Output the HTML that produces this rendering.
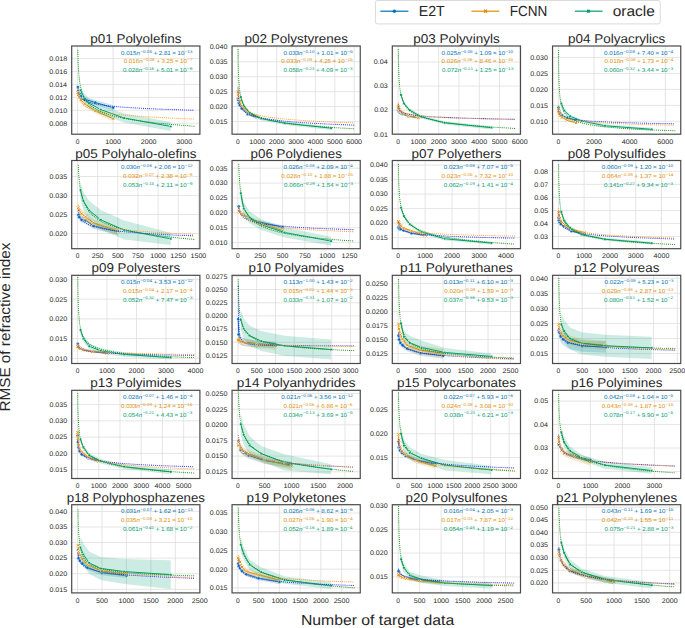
<!DOCTYPE html>
<html><head><meta charset="utf-8"><style>
html,body{margin:0;padding:0;background:#fff;}
svg{display:block;font-family:"Liberation Sans", sans-serif;text-rendering:geometricPrecision;}
.gr line{stroke:#dedede;stroke-width:0.8;}
.sp{fill:none;stroke:#4a4a4a;stroke-width:1.2;}
.dt{stroke-width:1.15;stroke-dasharray:0.01 2.05;stroke-linecap:round;}
</style></head><body>
<svg width="685" height="628" viewBox="0 0 685 628">
<defs><clipPath id="c0"><rect x="71.7" y="46" width="128.2" height="88.2"/></clipPath><clipPath id="c1"><rect x="232.05" y="46" width="128.2" height="88.2"/></clipPath><clipPath id="c2"><rect x="392.3" y="46" width="128.2" height="88.2"/></clipPath><clipPath id="c3"><rect x="552.55" y="46" width="128.2" height="88.2"/></clipPath><clipPath id="c4"><rect x="71.7" y="160.5" width="128.2" height="88.2"/></clipPath><clipPath id="c5"><rect x="232.05" y="160.5" width="128.2" height="88.2"/></clipPath><clipPath id="c6"><rect x="392.3" y="160.5" width="128.2" height="88.2"/></clipPath><clipPath id="c7"><rect x="552.55" y="160.5" width="128.2" height="88.2"/></clipPath><clipPath id="c8"><rect x="71.7" y="275.3" width="128.2" height="88.2"/></clipPath><clipPath id="c9"><rect x="232.05" y="275.3" width="128.2" height="88.2"/></clipPath><clipPath id="c10"><rect x="392.3" y="275.3" width="128.2" height="88.2"/></clipPath><clipPath id="c11"><rect x="552.55" y="275.3" width="128.2" height="88.2"/></clipPath><clipPath id="c12"><rect x="71.7" y="390.3" width="128.2" height="88.2"/></clipPath><clipPath id="c13"><rect x="232.05" y="390.3" width="128.2" height="88.2"/></clipPath><clipPath id="c14"><rect x="392.3" y="390.3" width="128.2" height="88.2"/></clipPath><clipPath id="c15"><rect x="552.55" y="390.3" width="128.2" height="88.2"/></clipPath><clipPath id="c16"><rect x="71.7" y="504.7" width="128.2" height="88.2"/></clipPath><clipPath id="c17"><rect x="232.05" y="504.7" width="128.2" height="88.2"/></clipPath><clipPath id="c18"><rect x="392.3" y="504.7" width="128.2" height="88.2"/></clipPath><clipPath id="c19"><rect x="552.55" y="504.7" width="128.2" height="88.2"/></clipPath></defs>
<g clip-path="url(#c0)"><g class="gr"><line x1="77.53" y1="46" x2="77.53" y2="134.2"/><line x1="113.1" y1="46" x2="113.1" y2="134.2"/><line x1="148.67" y1="46" x2="148.67" y2="134.2"/><line x1="184.25" y1="46" x2="184.25" y2="134.2"/><line x1="71.7" y1="123.2" x2="199.9" y2="123.2"/><line x1="71.7" y1="110.28" x2="199.9" y2="110.28"/><line x1="71.7" y1="97.36" x2="199.9" y2="97.36"/><line x1="71.7" y1="84.44" x2="199.9" y2="84.44"/><line x1="71.7" y1="71.52" x2="199.9" y2="71.52"/><line x1="71.7" y1="58.6" x2="199.9" y2="58.6"/></g><polygon points="77.88,85.09 78.24,88.85 79.31,91.33 81.08,93.81 84.64,96.93 95.31,100.05 113.1,105.11 113.1,110.28 95.31,105 84.64,101.67 81.08,98.33 79.31,95.64 78.24,92.95 77.88,88.96" fill="#0173b2" fill-opacity="0.2"/><polyline points="77.88,87.02 78.24,90.9 79.31,93.48 81.08,96.07 84.64,99.3 95.31,102.53 113.1,107.7" fill="none" stroke="#0173b2" stroke-width="1.0"/><g fill="#0173b2" stroke="#fff" stroke-width="0.45"><circle cx="77.88" cy="87.02" r="1.6"/><circle cx="78.24" cy="90.9" r="1.6"/><circle cx="79.31" cy="93.48" r="1.6"/><circle cx="81.08" cy="96.07" r="1.6"/><circle cx="84.64" cy="99.3" r="1.6"/><circle cx="95.31" cy="102.53" r="1.6"/><circle cx="113.1" cy="107.7" r="1.6"/></g><polygon points="77.88,90.25 78.24,92.19 79.31,94.78 81.08,97.36 84.64,101.24 95.31,108.34 113.1,116.09 113.1,121.26 95.31,113.51 84.64,106.4 81.08,102.53 79.31,99.94 78.24,97.36 77.88,95.42" fill="#de8f05" fill-opacity="0.2"/><polyline points="77.88,92.84 78.24,94.78 79.31,97.36 81.08,99.94 84.64,103.82 95.31,110.93 113.1,118.68" fill="none" stroke="#de8f05" stroke-width="1.0"/><path d="M76.63 91.59L79.13 94.09M76.63 94.09L79.13 91.59M76.99 93.53L79.49 96.03M76.99 96.03L79.49 93.53M78.06 96.11L80.56 98.61M78.06 98.61L80.56 96.11M79.83 98.69L82.33 101.19M79.83 101.19L82.33 98.69M83.39 102.57L85.89 105.07M83.39 105.07L85.89 102.57M94.06 109.68L96.56 112.18M94.06 112.18L96.56 109.68M111.85 117.43L114.35 119.93M111.85 119.93L114.35 117.43" stroke="#fff" stroke-width="1.6" fill="none"/><path d="M76.63 91.59L79.13 94.09M76.63 94.09L79.13 91.59M76.99 93.53L79.49 96.03M76.99 96.03L79.49 93.53M78.06 96.11L80.56 98.61M78.06 98.61L80.56 96.11M79.83 98.69L82.33 101.19M79.83 101.19L82.33 98.69M83.39 102.57L85.89 105.07M83.39 105.07L85.89 102.57M94.06 109.68L96.56 112.18M94.06 112.18L96.56 109.68M111.85 117.43L114.35 119.93M111.85 119.93L114.35 117.43" stroke="#de8f05" stroke-width="1.0" fill="none"/><polygon points="80.44,85.73 83.35,92.19 89.18,98.65 100.84,105.11 124.15,113.51 170.76,121.91 170.76,130.95 124.15,122.55 100.84,114.16 89.18,107.7 83.35,101.24 80.44,94.78" fill="#029e73" fill-opacity="0.2"/><polyline points="80.44,90.25 83.35,96.71 89.18,103.17 100.84,109.63 124.15,118.03 170.76,126.43" fill="none" stroke="#029e73" stroke-width="1.0"/><g fill="#029e73" stroke="#fff" stroke-width="0.4"><rect x="79.29" y="89.1" width="2.3" height="2.3"/><rect x="82.2" y="95.56" width="2.3" height="2.3"/><rect x="88.03" y="102.02" width="2.3" height="2.3"/><rect x="99.69" y="108.48" width="2.3" height="2.3"/><rect x="123" y="116.88" width="2.3" height="2.3"/><rect x="169.61" y="125.28" width="2.3" height="2.3"/></g><polyline points="77.88,88.52 77.9,88.68 77.91,88.85 77.93,89.02 77.94,89.18 77.96,89.35 77.98,89.51 77.99,89.68 78.01,89.84 78.03,90.01 78.05,90.17 78.07,90.33 78.09,90.5 78.11,90.66 78.14,90.82 78.16,90.98 78.19,91.14 78.21,91.31 78.24,91.47 78.27,91.63 78.3,91.79 78.33,91.95 78.36,92.11 78.39,92.27 78.43,92.43 78.46,92.59 78.5,92.75 78.54,92.9 78.58,93.06 78.62,93.22 78.66,93.38 78.7,93.53 78.75,93.69 78.8,93.85 78.85,94 78.9,94.16 78.96,94.32 79.01,94.47 79.07,94.63 79.13,94.78 79.19,94.94 79.26,95.09 79.33,95.24 79.4,95.4 79.47,95.55 79.55,95.7 79.63,95.86 79.71,96.01 79.8,96.16 79.89,96.31 79.98,96.46 80.08,96.62 80.18,96.77 80.28,96.92 80.39,97.07 80.5,97.22 80.62,97.37 80.74,97.52 80.87,97.67 81,97.82 81.14,97.96 81.28,98.11 81.42,98.26 81.58,98.41 81.74,98.56 81.9,98.7 82.08,98.85 82.26,99 82.44,99.14 82.63,99.29 82.84,99.43 83.04,99.58 83.26,99.73 83.49,99.87 83.72,100.02 83.97,100.16 84.22,100.3 84.48,100.45 84.76,100.59 85.04,100.73 85.34,100.88 85.64,101.02 85.96,101.16 86.3,101.3 86.64,101.45 87,101.59 87.37,101.73 87.76,101.87 88.16,102.01 88.58,102.15 89.02,102.29 89.47,102.43 89.94,102.57 90.43,102.71 90.94,102.85 91.46,102.99 92.01,103.13 92.58,103.27 93.18,103.4 93.79,103.54 94.43,103.68 95.1,103.82 95.79,103.95 96.51,104.09 97.26,104.23 98.03,104.36 98.84,104.5 99.68,104.64 100.55,104.77 101.46,104.91 102.4,105.04 103.38,105.18 104.4,105.31 105.46,105.45 106.55,105.58 107.7,105.71 108.88,105.85 110.12,105.98 111.4,106.11 112.74,106.24 114.12,106.38 115.56,106.51 117.06,106.64 118.62,106.77 120.23,106.9 121.92,107.04 123.66,107.17 125.48,107.3 127.37,107.43 129.33,107.56 131.37,107.69 133.49,107.82 135.69,107.95 137.98,108.08 140.36,108.2 142.83,108.33 145.4,108.46 148.08,108.59 150.85,108.72 153.74,108.84 156.74,108.97 159.86,109.1 163.1,109.23 166.47,109.35 169.97,109.48 173.61,109.6 177.39,109.73 181.32,109.86 185.41,109.98 189.66,110.11 194.07,110.23" fill="none" stroke="#3030ff" class="dt"/><polyline points="77.88,88.11 77.9,88.37 77.91,88.62 77.93,88.87 77.94,89.12 77.96,89.38 77.98,89.63 77.99,89.88 78.01,90.12 78.03,90.37 78.05,90.62 78.07,90.87 78.09,91.11 78.11,91.36 78.14,91.6 78.16,91.85 78.19,92.09 78.21,92.33 78.24,92.58 78.27,92.82 78.3,93.06 78.33,93.3 78.36,93.54 78.39,93.77 78.43,94.01 78.46,94.25 78.5,94.49 78.54,94.72 78.58,94.96 78.62,95.19 78.66,95.42 78.7,95.66 78.75,95.89 78.8,96.12 78.85,96.35 78.9,96.58 78.96,96.81 79.01,97.04 79.07,97.27 79.13,97.49 79.19,97.72 79.26,97.95 79.33,98.17 79.4,98.4 79.47,98.62 79.55,98.84 79.63,99.07 79.71,99.29 79.8,99.51 79.89,99.73 79.98,99.95 80.08,100.17 80.18,100.39 80.28,100.61 80.39,100.83 80.5,101.04 80.62,101.26 80.74,101.48 80.87,101.69 81,101.91 81.14,102.12 81.28,102.33 81.42,102.54 81.58,102.76 81.74,102.97 81.9,103.18 82.08,103.39 82.26,103.6 82.44,103.81 82.63,104.02 82.84,104.22 83.04,104.43 83.26,104.64 83.49,104.84 83.72,105.05 83.97,105.25 84.22,105.46 84.48,105.66 84.76,105.86 85.04,106.06 85.34,106.27 85.64,106.47 85.96,106.67 86.3,106.87 86.64,107.07 87,107.27 87.37,107.46 87.76,107.66 88.16,107.86 88.58,108.05 89.02,108.25 89.47,108.45 89.94,108.64 90.43,108.83 90.94,109.03 91.46,109.22 92.01,109.41 92.58,109.61 93.18,109.8 93.79,109.99 94.43,110.18 95.1,110.37 95.79,110.56 96.51,110.74 97.26,110.93 98.03,111.12 98.84,111.31 99.68,111.49 100.55,111.68 101.46,111.86 102.4,112.05 103.38,112.23 104.4,112.42 105.46,112.6 106.55,112.78 107.7,112.96 108.88,113.15 110.12,113.33 111.4,113.51 112.74,113.69 114.12,113.87 115.56,114.04 117.06,114.22 118.62,114.4 120.23,114.58 121.92,114.75 123.66,114.93 125.48,115.11 127.37,115.28 129.33,115.46 131.37,115.63 133.49,115.8 135.69,115.98 137.98,116.15 140.36,116.32 142.83,116.49 145.4,116.66 148.08,116.83 150.85,117 153.74,117.17 156.74,117.34 159.86,117.51 163.1,117.68 166.47,117.85 169.97,118.01 173.61,118.18 177.39,118.35 181.32,118.51 185.41,118.68 189.66,118.84 194.07,119.01" fill="none" stroke="#ffa030" class="dt"/><polyline points="77.88,50.32 77.9,51.09 77.91,51.86 77.93,52.63 77.94,53.39 77.96,54.15 77.98,54.9 77.99,55.65 78.01,56.4 78.03,57.14 78.05,57.87 78.07,58.6 78.09,59.32 78.11,60.04 78.14,60.76 78.16,61.47 78.19,62.18 78.21,62.88 78.24,63.58 78.27,64.27 78.3,64.96 78.33,65.65 78.36,66.33 78.39,67.01 78.43,67.68 78.46,68.35 78.5,69.01 78.54,69.67 78.58,70.33 78.62,70.98 78.66,71.63 78.7,72.27 78.75,72.91 78.8,73.55 78.85,74.18 78.9,74.81 78.96,75.43 79.01,76.05 79.07,76.67 79.13,77.28 79.19,77.89 79.26,78.49 79.33,79.1 79.4,79.69 79.47,80.29 79.55,80.88 79.63,81.46 79.71,82.05 79.8,82.62 79.89,83.2 79.98,83.77 80.08,84.34 80.18,84.9 80.28,85.46 80.39,86.02 80.5,86.58 80.62,87.13 80.74,87.67 80.87,88.22 81,88.76 81.14,89.3 81.28,89.83 81.42,90.36 81.58,90.89 81.74,91.41 81.9,91.93 82.08,92.45 82.26,92.96 82.44,93.47 82.63,93.98 82.84,94.48 83.04,94.99 83.26,95.48 83.49,95.98 83.72,96.47 83.97,96.96 84.22,97.45 84.48,97.93 84.76,98.41 85.04,98.89 85.34,99.36 85.64,99.83 85.96,100.3 86.3,100.76 86.64,101.23 87,101.69 87.37,102.14 87.76,102.6 88.16,103.05 88.58,103.49 89.02,103.94 89.47,104.38 89.94,104.82 90.43,105.26 90.94,105.69 91.46,106.12 92.01,106.55 92.58,106.98 93.18,107.4 93.79,107.82 94.43,108.24 95.1,108.66 95.79,109.07 96.51,109.48 97.26,109.89 98.03,110.29 98.84,110.7 99.68,111.1 100.55,111.49 101.46,111.89 102.4,112.28 103.38,112.67 104.4,113.06 105.46,113.44 106.55,113.83 107.7,114.21 108.88,114.59 110.12,114.96 111.4,115.34 112.74,115.71 114.12,116.08 115.56,116.44 117.06,116.81 118.62,117.17 120.23,117.53 121.92,117.89 123.66,118.24 125.48,118.6 127.37,118.95 129.33,119.3 131.37,119.64 133.49,119.99 135.69,120.33 137.98,120.67 140.36,121.01 142.83,121.34 145.4,121.68 148.08,122.01 150.85,122.34 153.74,122.67 156.74,122.99 159.86,123.32 163.1,123.64 166.47,123.96 169.97,124.27 173.61,124.59 177.39,124.9 181.32,125.21 185.41,125.52 189.66,125.83 194.07,126.14" fill="none" stroke="#1c951c" class="dt"/></g>
<rect x="71.7" y="46" width="128.2" height="88.2" class="sp"/>
<g><text x="75.67" y="143.8" font-size="6.72" textLength="3.72" lengthAdjust="spacingAndGlyphs" fill="#262626">0</text><text x="105.19" y="143.8" font-size="6.72" textLength="15.84" lengthAdjust="spacingAndGlyphs" fill="#262626">1000</text><text x="140.71" y="143.8" font-size="6.72" textLength="15.89" lengthAdjust="spacingAndGlyphs" fill="#262626">2000</text><text x="176.39" y="143.8" font-size="6.72" textLength="15.78" lengthAdjust="spacingAndGlyphs" fill="#262626">3000</text><text x="49.32" y="125.55" font-size="6.72" textLength="17.89" lengthAdjust="spacingAndGlyphs" fill="#262626">0.008</text><text x="49.31" y="112.63" font-size="6.72" textLength="17.87" lengthAdjust="spacingAndGlyphs" fill="#262626">0.010</text><text x="49.53" y="99.71" font-size="6.72" textLength="17.73" lengthAdjust="spacingAndGlyphs" fill="#262626">0.012</text><text x="49.24" y="86.79" font-size="6.72" textLength="17.86" lengthAdjust="spacingAndGlyphs" fill="#262626">0.014</text><text x="49.29" y="73.87" font-size="6.72" textLength="17.93" lengthAdjust="spacingAndGlyphs" fill="#262626">0.016</text><text x="49.32" y="60.95" font-size="6.72" textLength="17.89" lengthAdjust="spacingAndGlyphs" fill="#262626">0.018</text></g>
<text x="90.24" y="43" font-size="12.77" textLength="91.24" lengthAdjust="spacingAndGlyphs" fill="#262626">p01 Polyolefins</text>
<g fill="#0173b2"><text x="120.96" y="54.61" font-size="5.78" textLength="15.6" lengthAdjust="spacingAndGlyphs">0.015</text><text x="136.56" y="54.61" font-size="5.78" textLength="3.45" lengthAdjust="spacingAndGlyphs" font-style="italic">n</text><text x="140.27" y="52.53" font-size="4.04" textLength="11.69" lengthAdjust="spacingAndGlyphs">&#8722;0.05</text><text x="153.17" y="54.61" font-size="5.78" textLength="4.57" lengthAdjust="spacingAndGlyphs">+</text><text x="158.8" y="54.61" font-size="5.78" textLength="12" lengthAdjust="spacingAndGlyphs">2.81</text><text x="171.86" y="54.61" font-size="5.78" textLength="4.57" lengthAdjust="spacingAndGlyphs">&#215;</text><text x="177.49" y="54.61" font-size="5.78" textLength="6.93" lengthAdjust="spacingAndGlyphs">10</text><text x="184.47" y="52.53" font-size="4.04" textLength="8.05" lengthAdjust="spacingAndGlyphs">&#8722;13</text></g>
<g fill="#de8f05"><text x="123.68" y="63.43" font-size="5.78" textLength="15.6" lengthAdjust="spacingAndGlyphs">0.016</text><text x="139.29" y="63.43" font-size="5.78" textLength="3.45" lengthAdjust="spacingAndGlyphs" font-style="italic">n</text><text x="142.99" y="61.35" font-size="4.04" textLength="11.69" lengthAdjust="spacingAndGlyphs">&#8722;0.08</text><text x="155.9" y="63.43" font-size="5.78" textLength="4.57" lengthAdjust="spacingAndGlyphs">+</text><text x="161.52" y="63.43" font-size="5.78" textLength="11.86" lengthAdjust="spacingAndGlyphs">3.25</text><text x="174.45" y="63.43" font-size="5.78" textLength="4.57" lengthAdjust="spacingAndGlyphs">&#215;</text><text x="180.08" y="63.43" font-size="5.78" textLength="6.93" lengthAdjust="spacingAndGlyphs">10</text><text x="187.06" y="61.35" font-size="4.04" textLength="5.62" lengthAdjust="spacingAndGlyphs">&#8722;7</text></g>
<g fill="#029e73"><text x="123.14" y="72.25" font-size="5.78" textLength="15.6" lengthAdjust="spacingAndGlyphs">0.028</text><text x="138.74" y="72.25" font-size="5.78" textLength="3.45" lengthAdjust="spacingAndGlyphs" font-style="italic">n</text><text x="142.45" y="70.17" font-size="4.04" textLength="11.69" lengthAdjust="spacingAndGlyphs">&#8722;0.16</text><text x="155.35" y="72.25" font-size="5.78" textLength="4.57" lengthAdjust="spacingAndGlyphs">+</text><text x="160.98" y="72.25" font-size="5.78" textLength="12.13" lengthAdjust="spacingAndGlyphs">5.01</text><text x="174.18" y="72.25" font-size="5.78" textLength="4.57" lengthAdjust="spacingAndGlyphs">&#215;</text><text x="179.8" y="72.25" font-size="5.78" textLength="6.93" lengthAdjust="spacingAndGlyphs">10</text><text x="186.79" y="70.17" font-size="4.04" textLength="5.62" lengthAdjust="spacingAndGlyphs">&#8722;8</text></g>
<g clip-path="url(#c1)"><g class="gr"><line x1="237.88" y1="46" x2="237.88" y2="134.2"/><line x1="257.26" y1="46" x2="257.26" y2="134.2"/><line x1="276.64" y1="46" x2="276.64" y2="134.2"/><line x1="296.03" y1="46" x2="296.03" y2="134.2"/><line x1="315.41" y1="46" x2="315.41" y2="134.2"/><line x1="334.8" y1="46" x2="334.8" y2="134.2"/><line x1="354.18" y1="46" x2="354.18" y2="134.2"/><line x1="232.05" y1="121.6" x2="360.25" y2="121.6"/><line x1="232.05" y1="106.64" x2="360.25" y2="106.64"/><line x1="232.05" y1="91.68" x2="360.25" y2="91.68"/><line x1="232.05" y1="76.72" x2="360.25" y2="76.72"/><line x1="232.05" y1="61.76" x2="360.25" y2="61.76"/><line x1="232.05" y1="46.8" x2="360.25" y2="46.8"/></g><polygon points="238.07,96.77 238.26,98.56 238.85,101.55 239.82,103.65 241.75,106.94 247.57,112.62 257.26,116.21 257.26,119.21 247.57,115.62 241.75,109.93 239.82,106.64 238.85,104.55 238.26,101.55 238.07,99.76" fill="#0173b2" fill-opacity="0.2"/><polyline points="238.07,98.26 238.26,100.06 238.85,103.05 239.82,105.14 241.75,108.44 247.57,114.12 257.26,117.71" fill="none" stroke="#0173b2" stroke-width="1.0"/><g fill="#0173b2" stroke="#fff" stroke-width="0.45"><circle cx="238.07" cy="98.26" r="1.6"/><circle cx="238.26" cy="100.06" r="1.6"/><circle cx="238.85" cy="103.05" r="1.6"/><circle cx="239.82" cy="105.14" r="1.6"/><circle cx="241.75" cy="108.44" r="1.6"/><circle cx="247.57" cy="114.12" r="1.6"/><circle cx="257.26" cy="117.71" r="1.6"/></g><polygon points="238.07,89.88 238.26,92.88 238.85,96.47 239.82,99.46 241.75,103.95 247.57,110.53 257.26,115.32 257.26,118.91 247.57,114.12 241.75,107.54 239.82,103.05 238.85,100.06 238.26,96.47 238.07,93.48" fill="#de8f05" fill-opacity="0.2"/><polyline points="238.07,91.68 238.26,94.67 238.85,98.26 239.82,101.25 241.75,105.74 247.57,112.32 257.26,117.11" fill="none" stroke="#de8f05" stroke-width="1.0"/><path d="M236.82 90.43L239.32 92.93M236.82 92.93L239.32 90.43M237.01 93.42L239.51 95.92M237.01 95.92L239.51 93.42M237.6 97.01L240.1 99.51M237.6 99.51L240.1 97.01M238.57 100L241.07 102.5M238.57 102.5L241.07 100M240.5 104.49L243 106.99M240.5 106.99L243 104.49M246.32 111.07L248.82 113.57M246.32 113.57L248.82 111.07M256.01 115.86L258.51 118.36M256.01 118.36L258.51 115.86" stroke="#fff" stroke-width="1.6" fill="none"/><path d="M236.82 90.43L239.32 92.93M236.82 92.93L239.32 90.43M237.01 93.42L239.51 95.92M237.01 95.92L239.51 93.42M237.6 97.01L240.1 99.51M237.6 99.51L240.1 97.01M238.57 100L241.07 102.5M238.57 102.5L241.07 100M240.5 104.49L243 106.99M240.5 106.99L243 104.49M246.32 111.07L248.82 113.57M246.32 113.57L248.82 111.07M256.01 115.86L258.51 118.36M256.01 118.36L258.51 115.86" stroke="#de8f05" stroke-width="1.0" fill="none"/><polygon points="240.79,95.27 243.7,103.95 249.53,111.13 261.19,116.81 284.5,121.3 331.11,126.39 331.11,129.98 284.5,124.89 261.19,120.4 249.53,114.72 243.7,107.54 240.79,98.86" fill="#029e73" fill-opacity="0.2"/><polyline points="240.79,97.07 243.7,105.74 249.53,112.92 261.19,118.61 284.5,123.1 331.11,128.18" fill="none" stroke="#029e73" stroke-width="1.0"/><g fill="#029e73" stroke="#fff" stroke-width="0.4"><rect x="239.64" y="95.92" width="2.3" height="2.3"/><rect x="242.55" y="104.59" width="2.3" height="2.3"/><rect x="248.38" y="111.77" width="2.3" height="2.3"/><rect x="260.04" y="117.46" width="2.3" height="2.3"/><rect x="283.35" y="121.95" width="2.3" height="2.3"/><rect x="329.96" y="127.03" width="2.3" height="2.3"/></g><polyline points="238.07,88.02 238.08,88.35 238.09,88.69 238.1,89.02 238.11,89.35 238.12,89.68 238.13,90 238.14,90.33 238.15,90.65 238.16,90.98 238.17,91.3 238.19,91.62 238.2,91.93 238.21,92.25 238.23,92.57 238.24,92.88 238.26,93.2 238.28,93.51 238.3,93.82 238.31,94.13 238.33,94.44 238.35,94.74 238.37,95.05 238.39,95.35 238.42,95.65 238.44,95.95 238.46,96.25 238.49,96.55 238.52,96.85 238.55,97.15 238.57,97.44 238.6,97.74 238.64,98.03 238.67,98.32 238.7,98.61 238.74,98.9 238.78,99.19 238.82,99.47 238.86,99.76 238.9,100.04 238.95,100.32 238.99,100.61 239.04,100.89 239.09,101.17 239.14,101.44 239.2,101.72 239.26,102 239.32,102.27 239.38,102.54 239.44,102.82 239.51,103.09 239.58,103.36 239.66,103.62 239.74,103.89 239.82,104.16 239.9,104.42 239.99,104.69 240.08,104.95 240.18,105.21 240.28,105.47 240.38,105.73 240.49,105.99 240.61,106.25 240.73,106.5 240.85,106.76 240.98,107.01 241.11,107.27 241.26,107.52 241.4,107.77 241.56,108.02 241.72,108.27 241.88,108.52 242.06,108.76 242.24,109.01 242.43,109.25 242.63,109.5 242.84,109.74 243.05,109.98 243.28,110.22 243.51,110.46 243.76,110.7 244.02,110.94 244.28,111.17 244.56,111.41 244.85,111.64 245.16,111.87 245.48,112.11 245.81,112.34 246.15,112.57 246.51,112.8 246.89,113.03 247.28,113.25 247.69,113.48 248.12,113.71 248.57,113.93 249.03,114.15 249.52,114.38 250.03,114.6 250.56,114.82 251.11,115.04 251.69,115.26 252.29,115.48 252.92,115.69 253.57,115.91 254.25,116.12 254.97,116.34 255.71,116.55 256.49,116.76 257.3,116.98 258.15,117.19 259.03,117.4 259.95,117.6 260.92,117.81 261.92,118.02 262.97,118.23 264.06,118.43 265.2,118.64 266.39,118.84 267.64,119.04 268.93,119.24 270.29,119.44 271.7,119.64 273.17,119.84 274.71,120.04 276.32,120.24 277.99,120.44 279.74,120.63 281.57,120.83 283.47,121.02 285.46,121.21 287.53,121.41 289.7,121.6 291.95,121.79 294.31,121.98 296.77,122.17 299.34,122.36 302.02,122.55 304.81,122.73 307.73,122.92 310.77,123.1 313.95,123.29 317.26,123.47 320.72,123.65 324.34,123.84 328.1,124.02 332.04,124.2 336.14,124.38 340.42,124.56 344.89,124.74 349.56,124.91 354.42,125.09" fill="none" stroke="#3030ff" class="dt"/><polyline points="238.07,86.96 238.08,87.28 238.09,87.6 238.1,87.91 238.11,88.23 238.12,88.54 238.13,88.85 238.14,89.16 238.15,89.47 238.16,89.78 238.17,90.09 238.19,90.39 238.2,90.7 238.21,91 238.23,91.3 238.24,91.6 238.26,91.9 238.28,92.2 238.3,92.5 238.31,92.79 238.33,93.09 238.35,93.38 238.37,93.67 238.39,93.97 238.42,94.26 238.44,94.55 238.46,94.83 238.49,95.12 238.52,95.41 238.55,95.69 238.57,95.97 238.6,96.26 238.64,96.54 238.67,96.82 238.7,97.1 238.74,97.37 238.78,97.65 238.82,97.93 238.86,98.2 238.9,98.47 238.95,98.74 238.99,99.02 239.04,99.29 239.09,99.55 239.14,99.82 239.2,100.09 239.26,100.36 239.32,100.62 239.38,100.88 239.44,101.15 239.51,101.41 239.58,101.67 239.66,101.93 239.74,102.19 239.82,102.44 239.9,102.7 239.99,102.95 240.08,103.21 240.18,103.46 240.28,103.71 240.38,103.97 240.49,104.22 240.61,104.46 240.73,104.71 240.85,104.96 240.98,105.21 241.11,105.45 241.26,105.7 241.4,105.94 241.56,106.18 241.72,106.42 241.88,106.66 242.06,106.9 242.24,107.14 242.43,107.38 242.63,107.61 242.84,107.85 243.05,108.08 243.28,108.32 243.51,108.55 243.76,108.78 244.02,109.01 244.28,109.24 244.56,109.47 244.85,109.7 245.16,109.93 245.48,110.15 245.81,110.38 246.15,110.6 246.51,110.83 246.89,111.05 247.28,111.27 247.69,111.49 248.12,111.71 248.57,111.93 249.03,112.15 249.52,112.37 250.03,112.59 250.56,112.8 251.11,113.02 251.69,113.23 252.29,113.44 252.92,113.66 253.57,113.87 254.25,114.08 254.97,114.29 255.71,114.5 256.49,114.7 257.3,114.91 258.15,115.12 259.03,115.32 259.95,115.53 260.92,115.73 261.92,115.93 262.97,116.14 264.06,116.34 265.2,116.54 266.39,116.74 267.64,116.94 268.93,117.14 270.29,117.33 271.7,117.53 273.17,117.73 274.71,117.92 276.32,118.12 277.99,118.31 279.74,118.5 281.57,118.69 283.47,118.89 285.46,119.08 287.53,119.27 289.7,119.45 291.95,119.64 294.31,119.83 296.77,120.02 299.34,120.2 302.02,120.39 304.81,120.57 307.73,120.76 310.77,120.94 313.95,121.12 317.26,121.3 320.72,121.48 324.34,121.66 328.1,121.84 332.04,122.02 336.14,122.2 340.42,122.38 344.89,122.55 349.56,122.73 354.42,122.9" fill="none" stroke="#ffa030" class="dt"/><polyline points="238.07,49.68 238.08,50.65 238.09,51.62 238.1,52.58 238.11,53.53 238.12,54.47 238.13,55.4 238.14,56.33 238.15,57.24 238.16,58.15 238.17,59.04 238.19,59.93 238.2,60.81 238.21,61.69 238.23,62.55 238.24,63.41 238.26,64.26 238.28,65.1 238.3,65.93 238.31,66.76 238.33,67.57 238.35,68.38 238.37,69.18 238.39,69.98 238.42,70.77 238.44,71.55 238.46,72.32 238.49,73.08 238.52,73.84 238.55,74.59 238.57,75.34 238.6,76.07 238.64,76.8 238.67,77.53 238.7,78.24 238.74,78.95 238.78,79.66 238.82,80.35 238.86,81.04 238.9,81.73 238.95,82.41 238.99,83.08 239.04,83.74 239.09,84.4 239.14,85.05 239.2,85.7 239.26,86.34 239.32,86.97 239.38,87.6 239.44,88.22 239.51,88.84 239.58,89.45 239.66,90.06 239.74,90.66 239.82,91.25 239.9,91.84 239.99,92.42 240.08,93 240.18,93.57 240.28,94.14 240.38,94.7 240.49,95.26 240.61,95.81 240.73,96.35 240.85,96.89 240.98,97.43 241.11,97.96 241.26,98.49 241.4,99.01 241.56,99.52 241.72,100.03 241.88,100.54 242.06,101.04 242.24,101.54 242.43,102.03 242.63,102.52 242.84,103 243.05,103.48 243.28,103.95 243.51,104.42 243.76,104.89 244.02,105.35 244.28,105.81 244.56,106.26 244.85,106.71 245.16,107.15 245.48,107.59 245.81,108.03 246.15,108.46 246.51,108.89 246.89,109.31 247.28,109.73 247.69,110.15 248.12,110.56 248.57,110.97 249.03,111.37 249.52,111.77 250.03,112.17 250.56,112.56 251.11,112.95 251.69,113.34 252.29,113.72 252.92,114.1 253.57,114.47 254.25,114.84 254.97,115.21 255.71,115.58 256.49,115.94 257.3,116.29 258.15,116.65 259.03,117 259.95,117.35 260.92,117.69 261.92,118.03 262.97,118.37 264.06,118.71 265.2,119.04 266.39,119.37 267.64,119.69 268.93,120.02 270.29,120.34 271.7,120.65 273.17,120.97 274.71,121.28 276.32,121.59 277.99,121.89 279.74,122.19 281.57,122.49 283.47,122.79 285.46,123.08 287.53,123.37 289.7,123.66 291.95,123.95 294.31,124.23 296.77,124.51 299.34,124.79 302.02,125.06 304.81,125.34 307.73,125.61 310.77,125.87 313.95,126.14 317.26,126.4 320.72,126.66 324.34,126.92 328.1,127.17 332.04,127.43 336.14,127.68 340.42,127.93 344.89,128.17 349.56,128.42 354.42,128.66" fill="none" stroke="#1c951c" class="dt"/></g>
<rect x="232.05" y="46" width="128.2" height="88.2" class="sp"/>
<g><text x="236.02" y="143.8" font-size="6.72" textLength="3.72" lengthAdjust="spacingAndGlyphs" fill="#262626">0</text><text x="249.35" y="143.8" font-size="6.72" textLength="15.84" lengthAdjust="spacingAndGlyphs" fill="#262626">1000</text><text x="268.68" y="143.8" font-size="6.72" textLength="15.89" lengthAdjust="spacingAndGlyphs" fill="#262626">2000</text><text x="288.17" y="143.8" font-size="6.72" textLength="15.78" lengthAdjust="spacingAndGlyphs" fill="#262626">3000</text><text x="307.49" y="143.8" font-size="6.72" textLength="15.85" lengthAdjust="spacingAndGlyphs" fill="#262626">4000</text><text x="326.93" y="143.8" font-size="6.72" textLength="15.79" lengthAdjust="spacingAndGlyphs" fill="#262626">5000</text><text x="346.19" y="143.8" font-size="6.72" textLength="15.91" lengthAdjust="spacingAndGlyphs" fill="#262626">6000</text><text x="209.79" y="123.95" font-size="6.72" textLength="17.75" lengthAdjust="spacingAndGlyphs" fill="#262626">0.015</text><text x="209.66" y="108.99" font-size="6.72" textLength="17.87" lengthAdjust="spacingAndGlyphs" fill="#262626">0.020</text><text x="209.79" y="94.03" font-size="6.72" textLength="17.75" lengthAdjust="spacingAndGlyphs" fill="#262626">0.025</text><text x="209.66" y="79.07" font-size="6.72" textLength="17.87" lengthAdjust="spacingAndGlyphs" fill="#262626">0.030</text><text x="209.79" y="64.11" font-size="6.72" textLength="17.75" lengthAdjust="spacingAndGlyphs" fill="#262626">0.035</text><text x="209.66" y="49.15" font-size="6.72" textLength="17.87" lengthAdjust="spacingAndGlyphs" fill="#262626">0.040</text></g>
<text x="244.49" y="43" font-size="12.77" textLength="103.43" lengthAdjust="spacingAndGlyphs" fill="#262626">p02 Polystyrenes</text>
<g fill="#0173b2"><text x="283.49" y="54.61" font-size="5.78" textLength="15.6" lengthAdjust="spacingAndGlyphs">0.033</text><text x="299.09" y="54.61" font-size="5.78" textLength="3.45" lengthAdjust="spacingAndGlyphs" font-style="italic">n</text><text x="302.8" y="52.53" font-size="4.04" textLength="11.69" lengthAdjust="spacingAndGlyphs">&#8722;0.10</text><text x="315.7" y="54.61" font-size="5.78" textLength="4.57" lengthAdjust="spacingAndGlyphs">+</text><text x="321.33" y="54.61" font-size="5.78" textLength="12.13" lengthAdjust="spacingAndGlyphs">1.01</text><text x="334.53" y="54.61" font-size="5.78" textLength="4.57" lengthAdjust="spacingAndGlyphs">&#215;</text><text x="340.15" y="54.61" font-size="5.78" textLength="6.93" lengthAdjust="spacingAndGlyphs">10</text><text x="347.14" y="52.53" font-size="4.04" textLength="5.62" lengthAdjust="spacingAndGlyphs">&#8722;5</text></g>
<g fill="#de8f05"><text x="281.31" y="63.43" font-size="5.78" textLength="15.6" lengthAdjust="spacingAndGlyphs">0.033</text><text x="296.91" y="63.43" font-size="5.78" textLength="3.45" lengthAdjust="spacingAndGlyphs" font-style="italic">n</text><text x="300.62" y="61.35" font-size="4.04" textLength="11.69" lengthAdjust="spacingAndGlyphs">&#8722;0.09</text><text x="313.52" y="63.43" font-size="5.78" textLength="4.57" lengthAdjust="spacingAndGlyphs">+</text><text x="319.15" y="63.43" font-size="5.78" textLength="11.86" lengthAdjust="spacingAndGlyphs">4.25</text><text x="332.07" y="63.43" font-size="5.78" textLength="4.57" lengthAdjust="spacingAndGlyphs">&#215;</text><text x="337.7" y="63.43" font-size="5.78" textLength="6.93" lengthAdjust="spacingAndGlyphs">10</text><text x="344.69" y="61.35" font-size="4.04" textLength="8.05" lengthAdjust="spacingAndGlyphs">&#8722;15</text></g>
<g fill="#029e73"><text x="283.49" y="72.25" font-size="5.78" textLength="15.6" lengthAdjust="spacingAndGlyphs">0.058</text><text x="299.09" y="72.25" font-size="5.78" textLength="3.45" lengthAdjust="spacingAndGlyphs" font-style="italic">n</text><text x="302.8" y="70.17" font-size="4.04" textLength="11.5" lengthAdjust="spacingAndGlyphs">&#8722;0.23</text><text x="315.51" y="72.25" font-size="5.78" textLength="4.57" lengthAdjust="spacingAndGlyphs">+</text><text x="321.14" y="72.25" font-size="5.78" textLength="12.13" lengthAdjust="spacingAndGlyphs">4.09</text><text x="334.34" y="72.25" font-size="5.78" textLength="4.57" lengthAdjust="spacingAndGlyphs">&#215;</text><text x="339.96" y="72.25" font-size="5.78" textLength="6.93" lengthAdjust="spacingAndGlyphs">10</text><text x="346.95" y="70.17" font-size="4.04" textLength="5.62" lengthAdjust="spacingAndGlyphs">&#8722;3</text></g>
<g clip-path="url(#c2)"><g class="gr"><line x1="398.13" y1="46" x2="398.13" y2="134.2"/><line x1="418.41" y1="46" x2="418.41" y2="134.2"/><line x1="438.69" y1="46" x2="438.69" y2="134.2"/><line x1="458.97" y1="46" x2="458.97" y2="134.2"/><line x1="479.26" y1="46" x2="479.26" y2="134.2"/><line x1="499.54" y1="46" x2="499.54" y2="134.2"/><line x1="519.82" y1="46" x2="519.82" y2="134.2"/><line x1="392.3" y1="134.2" x2="520.5" y2="134.2"/><line x1="392.3" y1="110.13" x2="520.5" y2="110.13"/><line x1="392.3" y1="86.07" x2="520.5" y2="86.07"/><line x1="392.3" y1="62" x2="520.5" y2="62"/></g><polygon points="398.33,108.45 398.53,109.41 399.14,110.61 400.16,111.58 402.18,113.02 408.27,115.19 418.41,116.87 418.41,118.8 408.27,117.11 402.18,114.95 400.16,113.5 399.14,112.54 398.53,111.34 398.33,110.37" fill="#0173b2" fill-opacity="0.2"/><polyline points="398.33,109.41 398.53,110.37 399.14,111.58 400.16,112.54 402.18,113.98 408.27,116.15 418.41,117.83" fill="none" stroke="#0173b2" stroke-width="1.0"/><g fill="#0173b2" stroke="#fff" stroke-width="0.45"><circle cx="398.33" cy="109.41" r="1.6"/><circle cx="398.53" cy="110.37" r="1.6"/><circle cx="399.14" cy="111.58" r="1.6"/><circle cx="400.16" cy="112.54" r="1.6"/><circle cx="402.18" cy="113.98" r="1.6"/><circle cx="408.27" cy="116.15" r="1.6"/><circle cx="418.41" cy="117.83" r="1.6"/></g><polygon points="398.33,105.32 398.53,106.52 399.14,108.21 400.16,109.89 402.18,111.82 408.27,114.47 418.41,116.63 418.41,119.04 408.27,116.87 402.18,114.22 400.16,112.3 399.14,110.61 398.53,108.93 398.33,107.73" fill="#de8f05" fill-opacity="0.2"/><polyline points="398.33,106.52 398.53,107.73 399.14,109.41 400.16,111.1 402.18,113.02 408.27,115.67 418.41,117.83" fill="none" stroke="#de8f05" stroke-width="1.0"/><path d="M397.08 105.27L399.58 107.77M397.08 107.77L399.58 105.27M397.28 106.48L399.78 108.98M397.28 108.98L399.78 106.48M397.89 108.16L400.39 110.66M397.89 110.66L400.39 108.16M398.91 109.85L401.41 112.35M398.91 112.35L401.41 109.85M400.93 111.77L403.43 114.27M400.93 114.27L403.43 111.77M407.02 114.42L409.52 116.92M407.02 116.92L409.52 114.42M417.16 116.58L419.66 119.08M417.16 119.08L419.66 116.58" stroke="#fff" stroke-width="1.6" fill="none"/><path d="M397.08 105.27L399.58 107.77M397.08 107.77L399.58 105.27M397.28 106.48L399.78 108.98M397.28 108.98L399.78 106.48M397.89 108.16L400.39 110.66M397.89 110.66L400.39 108.16M398.91 109.85L401.41 112.35M398.91 112.35L401.41 109.85M400.93 111.77L403.43 114.27M400.93 114.27L403.43 111.77M407.02 114.42L409.52 116.92M407.02 116.92L409.52 114.42M417.16 116.58L419.66 119.08M417.16 119.08L419.66 116.58" stroke="#de8f05" stroke-width="1.0" fill="none"/><polygon points="401.04,93.29 403.95,101.71 409.78,108.45 421.44,115.19 444.75,121.2 491.36,126.02 491.36,129.39 444.75,124.57 421.44,118.56 409.78,111.82 403.95,105.08 401.04,96.66" fill="#029e73" fill-opacity="0.2"/><polyline points="401.04,94.97 403.95,103.39 409.78,110.13 421.44,116.87 444.75,122.89 491.36,127.7" fill="none" stroke="#029e73" stroke-width="1.0"/><g fill="#029e73" stroke="#fff" stroke-width="0.4"><rect x="399.89" y="93.82" width="2.3" height="2.3"/><rect x="402.8" y="102.24" width="2.3" height="2.3"/><rect x="408.63" y="108.98" width="2.3" height="2.3"/><rect x="420.29" y="115.72" width="2.3" height="2.3"/><rect x="443.6" y="121.74" width="2.3" height="2.3"/><rect x="490.21" y="126.55" width="2.3" height="2.3"/></g><polyline points="398.33,104.64 398.34,104.76 398.35,104.87 398.36,104.98 398.37,105.1 398.38,105.21 398.39,105.32 398.4,105.43 398.41,105.54 398.42,105.66 398.44,105.77 398.45,105.88 398.46,105.99 398.48,106.1 398.49,106.21 398.51,106.32 398.53,106.43 398.54,106.54 398.56,106.65 398.58,106.76 398.6,106.87 398.62,106.98 398.64,107.08 398.66,107.19 398.69,107.3 398.71,107.41 398.74,107.52 398.76,107.62 398.79,107.73 398.82,107.84 398.85,107.94 398.88,108.05 398.91,108.16 398.95,108.26 398.98,108.37 399.02,108.47 399.06,108.58 399.1,108.68 399.14,108.79 399.19,108.89 399.23,109 399.28,109.1 399.33,109.21 399.38,109.31 399.44,109.41 399.49,109.52 399.55,109.62 399.61,109.72 399.68,109.83 399.74,109.93 399.81,110.03 399.89,110.13 399.96,110.24 400.04,110.34 400.12,110.44 400.21,110.54 400.3,110.64 400.4,110.74 400.49,110.84 400.6,110.94 400.7,111.04 400.81,111.14 400.93,111.24 401.05,111.34 401.18,111.44 401.31,111.54 401.45,111.64 401.59,111.74 401.74,111.84 401.9,111.93 402.06,112.03 402.23,112.13 402.41,112.23 402.59,112.32 402.79,112.42 402.99,112.52 403.2,112.62 403.42,112.71 403.65,112.81 403.89,112.9 404.14,113 404.4,113.1 404.67,113.19 404.95,113.29 405.25,113.38 405.55,113.48 405.87,113.57 406.21,113.67 406.56,113.76 406.92,113.86 407.31,113.95 407.7,114.04 408.12,114.14 408.55,114.23 409,114.32 409.47,114.42 409.96,114.51 410.47,114.6 411.01,114.69 411.56,114.79 412.15,114.88 412.75,114.97 413.39,115.06 414.05,115.15 414.73,115.24 415.45,115.34 416.2,115.43 416.98,115.52 417.8,115.61 418.65,115.7 419.54,115.79 420.47,115.88 421.43,115.97 422.44,116.06 423.49,116.15 424.59,116.23 425.74,116.32 426.93,116.41 428.18,116.5 429.48,116.59 430.83,116.68 432.25,116.77 433.72,116.85 435.26,116.94 436.87,117.03 438.55,117.12 440.3,117.2 442.12,117.29 444.02,117.38 446.01,117.46 448.08,117.55 450.24,117.64 452.5,117.72 454.85,117.81 457.31,117.89 459.87,117.98 462.54,118.06 465.32,118.15 468.23,118.23 471.26,118.32 474.43,118.4 477.73,118.49 481.18,118.57 484.77,118.65 488.52,118.74 492.43,118.82 496.51,118.91 500.77,118.99 505.21,119.07 509.84,119.15 514.67,119.24" fill="none" stroke="#3030ff" class="dt"/><polyline points="398.33,103.14 398.34,103.26 398.35,103.39 398.36,103.52 398.37,103.65 398.38,103.77 398.39,103.9 398.4,104.03 398.41,104.15 398.42,104.28 398.44,104.41 398.45,104.53 398.46,104.66 398.48,104.78 398.49,104.91 398.51,105.03 398.53,105.15 398.54,105.28 398.56,105.4 398.58,105.52 398.6,105.65 398.62,105.77 398.64,105.89 398.66,106.01 398.69,106.13 398.71,106.26 398.74,106.38 398.76,106.5 398.79,106.62 398.82,106.74 398.85,106.86 398.88,106.98 398.91,107.1 398.95,107.22 398.98,107.33 399.02,107.45 399.06,107.57 399.1,107.69 399.14,107.81 399.19,107.92 399.23,108.04 399.28,108.16 399.33,108.28 399.38,108.39 399.44,108.51 399.49,108.62 399.55,108.74 399.61,108.85 399.68,108.97 399.74,109.08 399.81,109.2 399.89,109.31 399.96,109.43 400.04,109.54 400.12,109.65 400.21,109.77 400.3,109.88 400.4,109.99 400.49,110.1 400.6,110.22 400.7,110.33 400.81,110.44 400.93,110.55 401.05,110.66 401.18,110.77 401.31,110.88 401.45,110.99 401.59,111.1 401.74,111.21 401.9,111.32 402.06,111.43 402.23,111.54 402.41,111.65 402.59,111.76 402.79,111.87 402.99,111.97 403.2,112.08 403.42,112.19 403.65,112.3 403.89,112.4 404.14,112.51 404.4,112.62 404.67,112.72 404.95,112.83 405.25,112.94 405.55,113.04 405.87,113.15 406.21,113.25 406.56,113.36 406.92,113.46 407.31,113.56 407.7,113.67 408.12,113.77 408.55,113.88 409,113.98 409.47,114.08 409.96,114.18 410.47,114.29 411.01,114.39 411.56,114.49 412.15,114.59 412.75,114.7 413.39,114.8 414.05,114.9 414.73,115 415.45,115.1 416.2,115.2 416.98,115.3 417.8,115.4 418.65,115.5 419.54,115.6 420.47,115.7 421.43,115.8 422.44,115.9 423.49,116 424.59,116.09 425.74,116.19 426.93,116.29 428.18,116.39 429.48,116.48 430.83,116.58 432.25,116.68 433.72,116.78 435.26,116.87 436.87,116.97 438.55,117.06 440.3,117.16 442.12,117.26 444.02,117.35 446.01,117.45 448.08,117.54 450.24,117.64 452.5,117.73 454.85,117.83 457.31,117.92 459.87,118.01 462.54,118.11 465.32,118.2 468.23,118.29 471.26,118.39 474.43,118.48 477.73,118.57 481.18,118.66 484.77,118.76 488.52,118.85 492.43,118.94 496.51,119.03 500.77,119.12 505.21,119.21 509.84,119.31 514.67,119.4" fill="none" stroke="#ffa030" class="dt"/><polyline points="398.33,49.69 398.34,50.62 398.35,51.54 398.36,52.45 398.37,53.36 398.38,54.26 398.39,55.15 398.4,56.03 398.41,56.91 398.42,57.77 398.44,58.63 398.45,59.49 398.46,60.33 398.48,61.17 398.49,62 398.51,62.83 398.53,63.64 398.54,64.45 398.56,65.26 398.58,66.05 398.6,66.84 398.62,67.63 398.64,68.4 398.66,69.17 398.69,69.93 398.71,70.69 398.74,71.44 398.76,72.18 398.79,72.92 398.82,73.65 398.85,74.38 398.88,75.09 398.91,75.81 398.95,76.51 398.98,77.21 399.02,77.91 399.06,78.59 399.1,79.28 399.14,79.95 399.19,80.62 399.23,81.29 399.28,81.95 399.33,82.6 399.38,83.25 399.44,83.89 399.49,84.53 399.55,85.16 399.61,85.78 399.68,86.4 399.74,87.02 399.81,87.63 399.89,88.23 399.96,88.83 400.04,89.43 400.12,90.02 400.21,90.6 400.3,91.18 400.4,91.76 400.49,92.33 400.6,92.89 400.7,93.45 400.81,94 400.93,94.56 401.05,95.1 401.18,95.64 401.31,96.18 401.45,96.71 401.59,97.24 401.74,97.76 401.9,98.28 402.06,98.79 402.23,99.3 402.41,99.8 402.59,100.31 402.79,100.8 402.99,101.29 403.2,101.78 403.42,102.26 403.65,102.74 403.89,103.22 404.14,103.69 404.4,104.16 404.67,104.62 404.95,105.08 405.25,105.54 405.55,105.99 405.87,106.44 406.21,106.88 406.56,107.32 406.92,107.76 407.31,108.19 407.7,108.62 408.12,109.04 408.55,109.46 409,109.88 409.47,110.3 409.96,110.71 410.47,111.11 411.01,111.52 411.56,111.92 412.15,112.31 412.75,112.71 413.39,113.1 414.05,113.48 414.73,113.87 415.45,114.25 416.2,114.62 416.98,115 417.8,115.37 418.65,115.74 419.54,116.1 420.47,116.46 421.43,116.82 422.44,117.17 423.49,117.53 424.59,117.87 425.74,118.22 426.93,118.56 428.18,118.9 429.48,119.24 430.83,119.57 432.25,119.91 433.72,120.23 435.26,120.56 436.87,120.88 438.55,121.2 440.3,121.52 442.12,121.83 444.02,122.15 446.01,122.46 448.08,122.76 450.24,123.07 452.5,123.37 454.85,123.67 457.31,123.96 459.87,124.26 462.54,124.55 465.32,124.84 468.23,125.12 471.26,125.41 474.43,125.69 477.73,125.97 481.18,126.24 484.77,126.52 488.52,126.79 492.43,127.06 496.51,127.33 500.77,127.59 505.21,127.85 509.84,128.11 514.67,128.37" fill="none" stroke="#1c951c" class="dt"/></g>
<rect x="392.3" y="46" width="128.2" height="88.2" class="sp"/>
<g><text x="396.27" y="143.8" font-size="6.72" textLength="3.72" lengthAdjust="spacingAndGlyphs" fill="#262626">0</text><text x="410.5" y="143.8" font-size="6.72" textLength="15.84" lengthAdjust="spacingAndGlyphs" fill="#262626">1000</text><text x="430.73" y="143.8" font-size="6.72" textLength="15.89" lengthAdjust="spacingAndGlyphs" fill="#262626">2000</text><text x="451.12" y="143.8" font-size="6.72" textLength="15.78" lengthAdjust="spacingAndGlyphs" fill="#262626">3000</text><text x="471.33" y="143.8" font-size="6.72" textLength="15.85" lengthAdjust="spacingAndGlyphs" fill="#262626">4000</text><text x="491.67" y="143.8" font-size="6.72" textLength="15.79" lengthAdjust="spacingAndGlyphs" fill="#262626">5000</text><text x="511.83" y="143.8" font-size="6.72" textLength="15.91" lengthAdjust="spacingAndGlyphs" fill="#262626">6000</text><text x="374.11" y="136.55" font-size="6.72" textLength="13.73" lengthAdjust="spacingAndGlyphs" fill="#262626">0.01</text><text x="374.16" y="112.48" font-size="6.72" textLength="13.69" lengthAdjust="spacingAndGlyphs" fill="#262626">0.02</text><text x="374.03" y="88.42" font-size="6.72" textLength="13.78" lengthAdjust="spacingAndGlyphs" fill="#262626">0.03</text><text x="373.88" y="64.35" font-size="6.72" textLength="13.83" lengthAdjust="spacingAndGlyphs" fill="#262626">0.04</text></g>
<text x="413.22" y="43" font-size="12.77" textLength="86.48" lengthAdjust="spacingAndGlyphs" fill="#262626">p03 Polyvinyls</text>
<g fill="#0173b2"><text x="441.56" y="54.61" font-size="5.78" textLength="15.6" lengthAdjust="spacingAndGlyphs">0.025</text><text x="457.16" y="54.61" font-size="5.78" textLength="3.45" lengthAdjust="spacingAndGlyphs" font-style="italic">n</text><text x="460.87" y="52.53" font-size="4.04" textLength="11.69" lengthAdjust="spacingAndGlyphs">&#8722;0.05</text><text x="473.77" y="54.61" font-size="5.78" textLength="4.57" lengthAdjust="spacingAndGlyphs">+</text><text x="479.4" y="54.61" font-size="5.78" textLength="12.13" lengthAdjust="spacingAndGlyphs">1.09</text><text x="492.6" y="54.61" font-size="5.78" textLength="4.57" lengthAdjust="spacingAndGlyphs">&#215;</text><text x="498.22" y="54.61" font-size="5.78" textLength="6.93" lengthAdjust="spacingAndGlyphs">10</text><text x="505.21" y="52.53" font-size="4.04" textLength="8.05" lengthAdjust="spacingAndGlyphs">&#8722;10</text></g>
<g fill="#de8f05"><text x="441.56" y="63.43" font-size="5.78" textLength="15.6" lengthAdjust="spacingAndGlyphs">0.026</text><text x="457.16" y="63.43" font-size="5.78" textLength="3.45" lengthAdjust="spacingAndGlyphs" font-style="italic">n</text><text x="460.87" y="61.35" font-size="4.04" textLength="11.69" lengthAdjust="spacingAndGlyphs">&#8722;0.06</text><text x="473.77" y="63.43" font-size="5.78" textLength="4.57" lengthAdjust="spacingAndGlyphs">+</text><text x="479.4" y="63.43" font-size="5.78" textLength="12.13" lengthAdjust="spacingAndGlyphs">8.46</text><text x="492.6" y="63.43" font-size="5.78" textLength="4.57" lengthAdjust="spacingAndGlyphs">&#215;</text><text x="498.22" y="63.43" font-size="5.78" textLength="6.93" lengthAdjust="spacingAndGlyphs">10</text><text x="505.21" y="61.35" font-size="4.04" textLength="8.05" lengthAdjust="spacingAndGlyphs">&#8722;15</text></g>
<g fill="#029e73"><text x="442.11" y="72.25" font-size="5.78" textLength="15.6" lengthAdjust="spacingAndGlyphs">0.072</text><text x="457.71" y="72.25" font-size="5.78" textLength="3.45" lengthAdjust="spacingAndGlyphs" font-style="italic">n</text><text x="461.41" y="70.17" font-size="4.04" textLength="11.5" lengthAdjust="spacingAndGlyphs">&#8722;0.21</text><text x="474.13" y="72.25" font-size="5.78" textLength="4.57" lengthAdjust="spacingAndGlyphs">+</text><text x="479.75" y="72.25" font-size="5.78" textLength="11.86" lengthAdjust="spacingAndGlyphs">1.25</text><text x="492.68" y="72.25" font-size="5.78" textLength="4.57" lengthAdjust="spacingAndGlyphs">&#215;</text><text x="498.31" y="72.25" font-size="5.78" textLength="6.93" lengthAdjust="spacingAndGlyphs">10</text><text x="505.29" y="70.17" font-size="4.04" textLength="8.05" lengthAdjust="spacingAndGlyphs">&#8722;13</text></g>
<g clip-path="url(#c3)"><g class="gr"><line x1="558.38" y1="46" x2="558.38" y2="134.2"/><line x1="594.02" y1="46" x2="594.02" y2="134.2"/><line x1="629.66" y1="46" x2="629.66" y2="134.2"/><line x1="665.3" y1="46" x2="665.3" y2="134.2"/><line x1="552.55" y1="121.3" x2="680.75" y2="121.3"/><line x1="552.55" y1="105.33" x2="680.75" y2="105.33"/><line x1="552.55" y1="89.35" x2="680.75" y2="89.35"/><line x1="552.55" y1="73.38" x2="680.75" y2="73.38"/><line x1="552.55" y1="57.4" x2="680.75" y2="57.4"/></g><polygon points="558.56,106.28 558.73,108.2 559.27,110.44 560.16,112.03 561.94,113.95 567.29,116.83 576.2,118.74 576.2,121.3 567.29,119.38 561.94,116.51 560.16,114.59 559.27,112.99 558.73,110.76 558.56,108.84" fill="#0173b2" fill-opacity="0.2"/><polyline points="558.56,107.56 558.73,109.48 559.27,111.72 560.16,113.31 561.94,115.23 567.29,118.11 576.2,120.02" fill="none" stroke="#0173b2" stroke-width="1.0"/><g fill="#0173b2" stroke="#fff" stroke-width="0.45"><circle cx="558.56" cy="107.56" r="1.6"/><circle cx="558.73" cy="109.48" r="1.6"/><circle cx="559.27" cy="111.72" r="1.6"/><circle cx="560.16" cy="113.31" r="1.6"/><circle cx="561.94" cy="115.23" r="1.6"/><circle cx="567.29" cy="118.11" r="1.6"/><circle cx="576.2" cy="120.02" r="1.6"/></g><polygon points="558.56,109.16 558.73,110.76 559.27,112.67 560.16,114.27 561.94,116.19 567.29,119.06 576.2,121.62 576.2,124.18 567.29,121.62 561.94,118.74 560.16,116.83 559.27,115.23 558.73,113.31 558.56,111.72" fill="#de8f05" fill-opacity="0.2"/><polyline points="558.56,110.44 558.73,112.03 559.27,113.95 560.16,115.55 561.94,117.47 567.29,120.34 576.2,122.9" fill="none" stroke="#de8f05" stroke-width="1.0"/><path d="M557.31 109.19L559.81 111.69M557.31 111.69L559.81 109.19M557.48 110.78L559.98 113.28M557.48 113.28L559.98 110.78M558.02 112.7L560.52 115.2M558.02 115.2L560.52 112.7M558.91 114.3L561.41 116.8M558.91 116.8L561.41 114.3M560.69 116.22L563.19 118.72M560.69 118.72L563.19 116.22M566.04 119.09L568.54 121.59M566.04 121.59L568.54 119.09M574.95 121.65L577.45 124.15M574.95 124.15L577.45 121.65" stroke="#fff" stroke-width="1.6" fill="none"/><path d="M557.31 109.19L559.81 111.69M557.31 111.69L559.81 109.19M557.48 110.78L559.98 113.28M557.48 113.28L559.98 110.78M558.02 112.7L560.52 115.2M558.02 115.2L560.52 112.7M558.91 114.3L561.41 116.8M558.91 116.8L561.41 114.3M560.69 116.22L563.19 118.72M560.69 118.72L563.19 116.22M566.04 119.09L568.54 121.59M566.04 121.59L568.54 119.09M574.95 121.65L577.45 124.15M574.95 124.15L577.45 121.65" stroke="#de8f05" stroke-width="1.0" fill="none"/><polygon points="561.29,101.81 564.2,108.84 570.03,114.59 581.69,119.38 605,124.18 651.61,127.69 651.61,130.89 605,127.37 581.69,122.58 570.03,117.79 564.2,112.03 561.29,105.01" fill="#029e73" fill-opacity="0.2"/><polyline points="561.29,103.41 564.2,110.44 570.03,116.19 581.69,120.98 605,125.77 651.61,129.29" fill="none" stroke="#029e73" stroke-width="1.0"/><g fill="#029e73" stroke="#fff" stroke-width="0.4"><rect x="560.14" y="102.26" width="2.3" height="2.3"/><rect x="563.05" y="109.29" width="2.3" height="2.3"/><rect x="568.88" y="115.04" width="2.3" height="2.3"/><rect x="580.54" y="119.83" width="2.3" height="2.3"/><rect x="603.85" y="124.62" width="2.3" height="2.3"/><rect x="650.46" y="128.14" width="2.3" height="2.3"/></g><polyline points="558.56,107.58 558.56,107.71 558.57,107.84 558.58,107.98 558.59,108.11 558.6,108.24 558.61,108.38 558.62,108.51 558.63,108.64 558.64,108.77 558.65,108.9 558.66,109.03 558.68,109.16 558.69,109.29 558.7,109.42 558.72,109.55 558.73,109.68 558.75,109.81 558.77,109.93 558.78,110.06 558.8,110.19 558.82,110.32 558.84,110.44 558.86,110.57 558.88,110.69 558.9,110.82 558.93,110.94 558.95,111.07 558.97,111.19 559,111.31 559.03,111.44 559.06,111.56 559.09,111.68 559.12,111.8 559.15,111.92 559.19,112.04 559.22,112.17 559.26,112.29 559.3,112.41 559.34,112.53 559.38,112.64 559.43,112.76 559.47,112.88 559.52,113 559.57,113.12 559.62,113.23 559.68,113.35 559.74,113.47 559.8,113.58 559.86,113.7 559.92,113.82 559.99,113.93 560.06,114.05 560.14,114.16 560.22,114.27 560.3,114.39 560.38,114.5 560.47,114.61 560.56,114.73 560.66,114.84 560.76,114.95 560.87,115.06 560.98,115.17 561.09,115.29 561.21,115.4 561.34,115.51 561.47,115.62 561.6,115.73 561.74,115.84 561.89,115.94 562.05,116.05 562.21,116.16 562.38,116.27 562.56,116.38 562.74,116.48 562.93,116.59 563.14,116.7 563.35,116.8 563.57,116.91 563.79,117.02 564.03,117.12 564.28,117.23 564.54,117.33 564.82,117.43 565.1,117.54 565.4,117.64 565.71,117.74 566.03,117.85 566.37,117.95 566.72,118.05 567.09,118.15 567.48,118.26 567.88,118.36 568.3,118.46 568.74,118.56 569.19,118.66 569.67,118.76 570.17,118.86 570.69,118.96 571.24,119.06 571.8,119.16 572.4,119.26 573.02,119.35 573.66,119.45 574.34,119.55 575.04,119.65 575.78,119.74 576.55,119.84 577.35,119.94 578.19,120.03 579.06,120.13 579.98,120.23 580.93,120.32 581.93,120.42 582.97,120.51 584.05,120.6 585.19,120.7 586.37,120.79 587.61,120.89 588.9,120.98 590.25,121.07 591.65,121.16 593.12,121.26 594.66,121.35 596.26,121.44 597.94,121.53 599.68,121.62 601.51,121.71 603.41,121.81 605.4,121.9 607.48,121.99 609.65,122.08 611.91,122.16 614.28,122.25 616.74,122.34 619.32,122.43 622.01,122.52 624.82,122.61 627.76,122.7 630.82,122.78 634.02,122.87 637.37,122.96 640.85,123.04 644.5,123.13 648.3,123.22 652.27,123.3 656.42,123.39 660.75,123.47 665.27,123.56 669.99,123.64 674.92,123.73" fill="none" stroke="#3030ff" class="dt"/><polyline points="558.56,105.3 558.56,105.47 558.57,105.64 558.58,105.81 558.59,105.98 558.6,106.15 558.61,106.32 558.62,106.49 558.63,106.66 558.64,106.82 558.65,106.99 558.66,107.16 558.68,107.32 558.69,107.49 558.7,107.65 558.72,107.81 558.73,107.98 558.75,108.14 558.77,108.3 558.78,108.46 558.8,108.62 558.82,108.78 558.84,108.94 558.86,109.1 558.88,109.26 558.9,109.41 558.93,109.57 558.95,109.73 558.97,109.88 559,110.04 559.03,110.19 559.06,110.35 559.09,110.5 559.12,110.65 559.15,110.8 559.19,110.96 559.22,111.11 559.26,111.26 559.3,111.41 559.34,111.56 559.38,111.71 559.43,111.86 559.47,112 559.52,112.15 559.57,112.3 559.62,112.44 559.68,112.59 559.74,112.74 559.8,112.88 559.86,113.03 559.92,113.17 559.99,113.31 560.06,113.46 560.14,113.6 560.22,113.74 560.3,113.88 560.38,114.02 560.47,114.16 560.56,114.3 560.66,114.44 560.76,114.58 560.87,114.72 560.98,114.85 561.09,114.99 561.21,115.13 561.34,115.26 561.47,115.4 561.6,115.53 561.74,115.67 561.89,115.8 562.05,115.94 562.21,116.07 562.38,116.2 562.56,116.34 562.74,116.47 562.93,116.6 563.14,116.73 563.35,116.86 563.57,116.99 563.79,117.12 564.03,117.25 564.28,117.38 564.54,117.5 564.82,117.63 565.1,117.76 565.4,117.89 565.71,118.01 566.03,118.14 566.37,118.26 566.72,118.39 567.09,118.51 567.48,118.64 567.88,118.76 568.3,118.88 568.74,119 569.19,119.13 569.67,119.25 570.17,119.37 570.69,119.49 571.24,119.61 571.8,119.73 572.4,119.85 573.02,119.97 573.66,120.09 574.34,120.21 575.04,120.32 575.78,120.44 576.55,120.56 577.35,120.67 578.19,120.79 579.06,120.91 579.98,121.02 580.93,121.14 581.93,121.25 582.97,121.36 584.05,121.48 585.19,121.59 586.37,121.7 587.61,121.82 588.9,121.93 590.25,122.04 591.65,122.15 593.12,122.26 594.66,122.37 596.26,122.48 597.94,122.59 599.68,122.7 601.51,122.81 603.41,122.92 605.4,123.03 607.48,123.13 609.65,123.24 611.91,123.35 614.28,123.45 616.74,123.56 619.32,123.66 622.01,123.77 624.82,123.87 627.76,123.98 630.82,124.08 634.02,124.19 637.37,124.29 640.85,124.39 644.5,124.5 648.3,124.6 652.27,124.7 656.42,124.8 660.75,124.9 665.27,125 669.99,125.1 674.92,125.2" fill="none" stroke="#ffa030" class="dt"/><polyline points="558.56,50.51 558.56,51.77 558.57,53.01 558.58,54.23 558.59,55.44 558.6,56.64 558.61,57.81 558.62,58.97 558.63,60.12 558.64,61.24 558.65,62.36 558.66,63.45 558.68,64.54 558.69,65.6 558.7,66.66 558.72,67.7 558.73,68.72 558.75,69.73 558.77,70.73 558.78,71.71 558.8,72.68 558.82,73.63 558.84,74.58 558.86,75.51 558.88,76.42 558.9,77.33 558.93,78.22 558.95,79.1 558.97,79.97 559,80.82 559.03,81.67 559.06,82.5 559.09,83.32 559.12,84.13 559.15,84.93 559.19,85.71 559.22,86.49 559.26,87.26 559.3,88.01 559.34,88.76 559.38,89.49 559.43,90.22 559.47,90.93 559.52,91.64 559.57,92.33 559.62,93.02 559.68,93.69 559.74,94.36 559.8,95.02 559.86,95.67 559.92,96.31 559.99,96.94 560.06,97.56 560.14,98.18 560.22,98.78 560.3,99.38 560.38,99.97 560.47,100.55 560.56,101.12 560.66,101.69 560.76,102.24 560.87,102.79 560.98,103.34 561.09,103.87 561.21,104.4 561.34,104.92 561.47,105.43 561.6,105.94 561.74,106.44 561.89,106.93 562.05,107.41 562.21,107.89 562.38,108.36 562.56,108.83 562.74,109.29 562.93,109.74 563.14,110.19 563.35,110.63 563.57,111.06 563.79,111.49 564.03,111.91 564.28,112.33 564.54,112.74 564.82,113.15 565.1,113.55 565.4,113.94 565.71,114.33 566.03,114.71 566.37,115.09 566.72,115.47 567.09,115.83 567.48,116.2 567.88,116.55 568.3,116.91 568.74,117.26 569.19,117.6 569.67,117.94 570.17,118.27 570.69,118.6 571.24,118.93 571.8,119.25 572.4,119.56 573.02,119.87 573.66,120.18 574.34,120.49 575.04,120.78 575.78,121.08 576.55,121.37 577.35,121.66 578.19,121.94 579.06,122.22 579.98,122.49 580.93,122.77 581.93,123.03 582.97,123.3 584.05,123.56 585.19,123.81 586.37,124.07 587.61,124.32 588.9,124.56 590.25,124.81 591.65,125.05 593.12,125.28 594.66,125.52 596.26,125.75 597.94,125.97 599.68,126.2 601.51,126.42 603.41,126.64 605.4,126.85 607.48,127.06 609.65,127.27 611.91,127.48 614.28,127.68 616.74,127.88 619.32,128.08 622.01,128.27 624.82,128.46 627.76,128.65 630.82,128.84 634.02,129.02 637.37,129.21 640.85,129.39 644.5,129.56 648.3,129.74 652.27,129.91 656.42,130.08 660.75,130.25 665.27,130.41 669.99,130.57 674.92,130.73" fill="none" stroke="#1c951c" class="dt"/></g>
<rect x="552.55" y="46" width="128.2" height="88.2" class="sp"/>
<g><text x="556.52" y="143.8" font-size="6.72" textLength="3.72" lengthAdjust="spacingAndGlyphs" fill="#262626">0</text><text x="586.06" y="143.8" font-size="6.72" textLength="15.89" lengthAdjust="spacingAndGlyphs" fill="#262626">2000</text><text x="621.74" y="143.8" font-size="6.72" textLength="15.85" lengthAdjust="spacingAndGlyphs" fill="#262626">4000</text><text x="657.31" y="143.8" font-size="6.72" textLength="15.91" lengthAdjust="spacingAndGlyphs" fill="#262626">6000</text><text x="530.16" y="123.65" font-size="6.72" textLength="17.87" lengthAdjust="spacingAndGlyphs" fill="#262626">0.010</text><text x="530.29" y="107.67" font-size="6.72" textLength="17.75" lengthAdjust="spacingAndGlyphs" fill="#262626">0.015</text><text x="530.16" y="91.7" font-size="6.72" textLength="17.87" lengthAdjust="spacingAndGlyphs" fill="#262626">0.020</text><text x="530.29" y="75.72" font-size="6.72" textLength="17.75" lengthAdjust="spacingAndGlyphs" fill="#262626">0.025</text><text x="530.16" y="59.75" font-size="6.72" textLength="17.87" lengthAdjust="spacingAndGlyphs" fill="#262626">0.030</text></g>
<text x="568.06" y="43" font-size="12.77" textLength="97.3" lengthAdjust="spacingAndGlyphs" fill="#262626">p04 Polyacrylics</text>
<g fill="#0173b2"><text x="603.99" y="54.61" font-size="5.78" textLength="15.6" lengthAdjust="spacingAndGlyphs">0.016</text><text x="619.59" y="54.61" font-size="5.78" textLength="3.45" lengthAdjust="spacingAndGlyphs" font-style="italic">n</text><text x="623.3" y="52.53" font-size="4.04" textLength="11.69" lengthAdjust="spacingAndGlyphs">&#8722;0.08</text><text x="636.2" y="54.61" font-size="5.78" textLength="4.57" lengthAdjust="spacingAndGlyphs">+</text><text x="641.83" y="54.61" font-size="5.78" textLength="12.13" lengthAdjust="spacingAndGlyphs">7.40</text><text x="655.03" y="54.61" font-size="5.78" textLength="4.57" lengthAdjust="spacingAndGlyphs">&#215;</text><text x="660.65" y="54.61" font-size="5.78" textLength="6.93" lengthAdjust="spacingAndGlyphs">10</text><text x="667.64" y="52.53" font-size="4.04" textLength="5.62" lengthAdjust="spacingAndGlyphs">&#8722;4</text></g>
<g fill="#de8f05"><text x="604.53" y="63.43" font-size="5.78" textLength="15.6" lengthAdjust="spacingAndGlyphs">0.018</text><text x="620.14" y="63.43" font-size="5.78" textLength="3.45" lengthAdjust="spacingAndGlyphs" font-style="italic">n</text><text x="623.84" y="61.35" font-size="4.04" textLength="11.69" lengthAdjust="spacingAndGlyphs">&#8722;0.08</text><text x="636.75" y="63.43" font-size="5.78" textLength="4.57" lengthAdjust="spacingAndGlyphs">+</text><text x="642.37" y="63.43" font-size="5.78" textLength="5.2" lengthAdjust="spacingAndGlyphs">1.</text><text x="647.17" y="63.43" font-size="5.78" textLength="6.93" lengthAdjust="spacingAndGlyphs">73</text><text x="655.16" y="63.43" font-size="5.78" textLength="4.57" lengthAdjust="spacingAndGlyphs">&#215;</text><text x="660.79" y="63.43" font-size="5.78" textLength="6.93" lengthAdjust="spacingAndGlyphs">10</text><text x="667.78" y="61.35" font-size="4.04" textLength="5.62" lengthAdjust="spacingAndGlyphs">&#8722;4</text></g>
<g fill="#029e73"><text x="603.99" y="72.25" font-size="5.78" textLength="15.6" lengthAdjust="spacingAndGlyphs">0.060</text><text x="619.59" y="72.25" font-size="5.78" textLength="3.45" lengthAdjust="spacingAndGlyphs" font-style="italic">n</text><text x="623.3" y="70.17" font-size="4.04" textLength="11.69" lengthAdjust="spacingAndGlyphs">&#8722;0.32</text><text x="636.2" y="72.25" font-size="5.78" textLength="4.57" lengthAdjust="spacingAndGlyphs">+</text><text x="641.83" y="72.25" font-size="5.78" textLength="12.13" lengthAdjust="spacingAndGlyphs">3.44</text><text x="655.03" y="72.25" font-size="5.78" textLength="4.57" lengthAdjust="spacingAndGlyphs">&#215;</text><text x="660.65" y="72.25" font-size="5.78" textLength="6.93" lengthAdjust="spacingAndGlyphs">10</text><text x="667.64" y="70.17" font-size="4.04" textLength="5.62" lengthAdjust="spacingAndGlyphs">&#8722;3</text></g>
<g clip-path="url(#c4)"><g class="gr"><line x1="77.53" y1="160.5" x2="77.53" y2="248.7"/><line x1="97.67" y1="160.5" x2="97.67" y2="248.7"/><line x1="117.82" y1="160.5" x2="117.82" y2="248.7"/><line x1="137.97" y1="160.5" x2="137.97" y2="248.7"/><line x1="158.11" y1="160.5" x2="158.11" y2="248.7"/><line x1="178.26" y1="160.5" x2="178.26" y2="248.7"/><line x1="198.4" y1="160.5" x2="198.4" y2="248.7"/><line x1="71.7" y1="233.5" x2="199.9" y2="233.5"/><line x1="71.7" y1="214.5" x2="199.9" y2="214.5"/><line x1="71.7" y1="195.5" x2="199.9" y2="195.5"/><line x1="71.7" y1="176.5" x2="199.9" y2="176.5"/></g><polygon points="78.33,211.84 79.14,214.12 81.56,216.78 85.59,217.35 93.64,222.86 117.82,228.56 117.82,234.64 93.64,228.94 85.59,223.43 81.56,222.86 79.14,220.2 78.33,217.92" fill="#0173b2" fill-opacity="0.2"/><polyline points="78.33,214.88 79.14,217.16 81.56,219.82 85.59,220.39 93.64,225.9 117.82,231.6" fill="none" stroke="#0173b2" stroke-width="1.0"/><g fill="#0173b2" stroke="#fff" stroke-width="0.45"><circle cx="78.33" cy="214.88" r="1.6"/><circle cx="79.14" cy="217.16" r="1.6"/><circle cx="81.56" cy="219.82" r="1.6"/><circle cx="85.59" cy="220.39" r="1.6"/><circle cx="93.64" cy="225.9" r="1.6"/><circle cx="117.82" cy="231.6" r="1.6"/></g><polygon points="78.33,203.1 79.14,205.91 81.56,209.48 85.59,212.68 93.64,218.91 117.82,227.42 117.82,235.02 93.64,226.81 85.59,220.88 81.56,218 79.14,214.73 78.33,212.22" fill="#de8f05" fill-opacity="0.2"/><polyline points="78.33,207.66 79.14,210.32 81.56,213.74 85.59,216.78 93.64,222.86 117.82,231.22" fill="none" stroke="#de8f05" stroke-width="1.0"/><path d="M77.08 206.41L79.58 208.91M77.08 208.91L79.58 206.41M77.89 209.07L80.39 211.57M77.89 211.57L80.39 209.07M80.31 212.49L82.81 214.99M80.31 214.99L82.81 212.49M84.34 215.53L86.84 218.03M84.34 218.03L86.84 215.53M92.39 221.61L94.89 224.11M92.39 224.11L94.89 221.61M116.57 229.97L119.07 232.47M116.57 232.47L119.07 229.97" stroke="#fff" stroke-width="1.6" fill="none"/><path d="M77.08 206.41L79.58 208.91M77.08 208.91L79.58 206.41M77.89 209.07L80.39 211.57M77.89 211.57L80.39 209.07M80.31 212.49L82.81 214.99M80.31 214.99L82.81 212.49M84.34 215.53L86.84 218.03M84.34 218.03L86.84 215.53M92.39 221.61L94.89 224.11M92.39 224.11L94.89 221.61M116.57 229.97L119.07 232.47M116.57 232.47L119.07 229.97" stroke="#de8f05" stroke-width="1.0" fill="none"/><polygon points="80.44,181.44 83.35,191.7 89.18,200.82 100.84,209.94 124.15,220.58 170.76,232.74 170.76,244.9 124.15,239.58 100.84,229.7 89.18,219.82 83.35,209.94 80.44,198.92" fill="#029e73" fill-opacity="0.2"/><polyline points="80.44,190.18 83.35,200.82 89.18,210.32 100.84,219.82 124.15,230.08 170.76,238.82" fill="none" stroke="#029e73" stroke-width="1.0"/><g fill="#029e73" stroke="#fff" stroke-width="0.4"><rect x="79.29" y="189.03" width="2.3" height="2.3"/><rect x="82.2" y="199.67" width="2.3" height="2.3"/><rect x="88.03" y="209.17" width="2.3" height="2.3"/><rect x="99.69" y="218.67" width="2.3" height="2.3"/><rect x="123" y="228.93" width="2.3" height="2.3"/><rect x="169.61" y="237.67" width="2.3" height="2.3"/></g><polyline points="78.33,210.21 78.36,210.41 78.39,210.6 78.42,210.8 78.45,211 78.48,211.19 78.51,211.39 78.54,211.58 78.58,211.78 78.61,211.97 78.65,212.17 78.69,212.36 78.73,212.55 78.77,212.75 78.81,212.94 78.85,213.13 78.9,213.32 78.94,213.51 78.99,213.7 79.04,213.89 79.09,214.08 79.14,214.27 79.2,214.46 79.26,214.65 79.31,214.84 79.37,215.03 79.44,215.22 79.5,215.4 79.57,215.59 79.64,215.78 79.71,215.96 79.78,216.15 79.86,216.33 79.93,216.52 80.02,216.7 80.1,216.89 80.19,217.07 80.28,217.26 80.37,217.44 80.46,217.62 80.56,217.81 80.67,217.99 80.77,218.17 80.88,218.35 80.99,218.53 81.11,218.71 81.23,218.89 81.36,219.07 81.49,219.25 81.62,219.43 81.76,219.61 81.9,219.79 82.05,219.97 82.2,220.15 82.36,220.32 82.52,220.5 82.69,220.68 82.86,220.86 83.04,221.03 83.23,221.21 83.42,221.38 83.62,221.56 83.82,221.73 84.04,221.91 84.26,222.08 84.48,222.26 84.72,222.43 84.96,222.6 85.21,222.77 85.47,222.95 85.74,223.12 86.01,223.29 86.3,223.46 86.6,223.63 86.9,223.8 87.22,223.97 87.55,224.14 87.88,224.31 88.23,224.48 88.59,224.65 88.97,224.82 89.35,224.99 89.75,225.16 90.16,225.32 90.59,225.49 91.03,225.66 91.48,225.83 91.95,225.99 92.44,226.16 92.94,226.32 93.46,226.49 94,226.65 94.56,226.82 95.13,226.98 95.72,227.15 96.34,227.31 96.97,227.47 97.63,227.64 98.31,227.8 99.01,227.96 99.73,228.12 100.48,228.29 101.25,228.45 102.05,228.61 102.88,228.77 103.73,228.93 104.62,229.09 105.53,229.25 106.48,229.41 107.45,229.57 108.46,229.73 109.5,229.89 110.58,230.04 111.7,230.2 112.85,230.36 114.04,230.52 115.27,230.67 116.54,230.83 117.86,230.99 119.22,231.14 120.62,231.3 122.08,231.45 123.58,231.61 125.13,231.76 126.74,231.92 128.4,232.07 130.11,232.23 131.88,232.38 133.72,232.53 135.61,232.69 137.57,232.84 139.59,232.99 141.69,233.14 143.85,233.3 146.09,233.45 148.4,233.6 150.79,233.75 153.26,233.9 155.81,234.05 158.45,234.2 161.18,234.35 164,234.5 166.92,234.65 169.93,234.8 173.05,234.95 176.27,235.09 179.6,235.24 183.04,235.39 186.59,235.54 190.27,235.68 194.07,235.83" fill="none" stroke="#3030ff" class="dt"/><polyline points="78.33,205.04 78.36,205.27 78.39,205.5 78.42,205.73 78.45,205.95 78.48,206.18 78.51,206.41 78.54,206.63 78.58,206.86 78.61,207.08 78.65,207.31 78.69,207.53 78.73,207.75 78.77,207.97 78.81,208.2 78.85,208.42 78.9,208.64 78.94,208.86 78.99,209.08 79.04,209.3 79.09,209.52 79.14,209.74 79.2,209.95 79.26,210.17 79.31,210.39 79.37,210.61 79.44,210.82 79.5,211.04 79.57,211.25 79.64,211.47 79.71,211.68 79.78,211.9 79.86,212.11 79.93,212.32 80.02,212.53 80.1,212.75 80.19,212.96 80.28,213.17 80.37,213.38 80.46,213.59 80.56,213.8 80.67,214.01 80.77,214.22 80.88,214.43 80.99,214.63 81.11,214.84 81.23,215.05 81.36,215.25 81.49,215.46 81.62,215.67 81.76,215.87 81.9,216.08 82.05,216.28 82.2,216.48 82.36,216.69 82.52,216.89 82.69,217.09 82.86,217.29 83.04,217.5 83.23,217.7 83.42,217.9 83.62,218.1 83.82,218.3 84.04,218.5 84.26,218.7 84.48,218.9 84.72,219.09 84.96,219.29 85.21,219.49 85.47,219.69 85.74,219.88 86.01,220.08 86.3,220.27 86.6,220.47 86.9,220.66 87.22,220.86 87.55,221.05 87.88,221.24 88.23,221.44 88.59,221.63 88.97,221.82 89.35,222.01 89.75,222.2 90.16,222.4 90.59,222.59 91.03,222.78 91.48,222.97 91.95,223.15 92.44,223.34 92.94,223.53 93.46,223.72 94,223.91 94.56,224.09 95.13,224.28 95.72,224.47 96.34,224.65 96.97,224.84 97.63,225.02 98.31,225.21 99.01,225.39 99.73,225.58 100.48,225.76 101.25,225.94 102.05,226.13 102.88,226.31 103.73,226.49 104.62,226.67 105.53,226.85 106.48,227.03 107.45,227.21 108.46,227.39 109.5,227.57 110.58,227.75 111.7,227.93 112.85,228.11 114.04,228.29 115.27,228.46 116.54,228.64 117.86,228.82 119.22,228.99 120.62,229.17 122.08,229.35 123.58,229.52 125.13,229.7 126.74,229.87 128.4,230.05 130.11,230.22 131.88,230.39 133.72,230.57 135.61,230.74 137.57,230.91 139.59,231.08 141.69,231.25 143.85,231.42 146.09,231.59 148.4,231.77 150.79,231.94 153.26,232.1 155.81,232.27 158.45,232.44 161.18,232.61 164,232.78 166.92,232.95 169.93,233.11 173.05,233.28 176.27,233.45 179.6,233.61 183.04,233.78 186.59,233.95 190.27,234.11 194.07,234.28" fill="none" stroke="#ffa030" class="dt"/><polyline points="78.33,165.27 78.36,165.96 78.39,166.65 78.42,167.33 78.45,168.02 78.48,168.69 78.51,169.37 78.54,170.04 78.58,170.71 78.61,171.38 78.65,172.04 78.69,172.7 78.73,173.36 78.77,174.01 78.81,174.66 78.85,175.31 78.9,175.95 78.94,176.59 78.99,177.23 79.04,177.86 79.09,178.49 79.14,179.12 79.2,179.75 79.26,180.37 79.31,180.99 79.37,181.6 79.44,182.22 79.5,182.83 79.57,183.44 79.64,184.04 79.71,184.64 79.78,185.24 79.86,185.84 79.93,186.43 80.02,187.02 80.1,187.61 80.19,188.19 80.28,188.78 80.37,189.35 80.46,189.93 80.56,190.5 80.67,191.08 80.77,191.64 80.88,192.21 80.99,192.77 81.11,193.33 81.23,193.89 81.36,194.44 81.49,195 81.62,195.54 81.76,196.09 81.9,196.63 82.05,197.18 82.2,197.72 82.36,198.25 82.52,198.78 82.69,199.32 82.86,199.84 83.04,200.37 83.23,200.89 83.42,201.42 83.62,201.93 83.82,202.45 84.04,202.96 84.26,203.47 84.48,203.98 84.72,204.49 84.96,204.99 85.21,205.49 85.47,205.99 85.74,206.49 86.01,206.98 86.3,207.48 86.6,207.96 86.9,208.45 87.22,208.94 87.55,209.42 87.88,209.9 88.23,210.38 88.59,210.85 88.97,211.33 89.35,211.8 89.75,212.26 90.16,212.73 90.59,213.2 91.03,213.66 91.48,214.12 91.95,214.57 92.44,215.03 92.94,215.48 93.46,215.93 94,216.38 94.56,216.83 95.13,217.27 95.72,217.72 96.34,218.16 96.97,218.59 97.63,219.03 98.31,219.46 99.01,219.9 99.73,220.33 100.48,220.75 101.25,221.18 102.05,221.6 102.88,222.03 103.73,222.44 104.62,222.86 105.53,223.28 106.48,223.69 107.45,224.1 108.46,224.51 109.5,224.92 110.58,225.33 111.7,225.73 112.85,226.13 114.04,226.53 115.27,226.93 116.54,227.33 117.86,227.72 119.22,228.11 120.62,228.5 122.08,228.89 123.58,229.28 125.13,229.66 126.74,230.05 128.4,230.43 130.11,230.81 131.88,231.18 133.72,231.56 135.61,231.93 137.57,232.31 139.59,232.68 141.69,233.04 143.85,233.41 146.09,233.78 148.4,234.14 150.79,234.5 153.26,234.86 155.81,235.22 158.45,235.57 161.18,235.93 164,236.28 166.92,236.63 169.93,236.98 173.05,237.33 176.27,237.68 179.6,238.02 183.04,238.36 186.59,238.71 190.27,239.04 194.07,239.38" fill="none" stroke="#1c951c" class="dt"/></g>
<rect x="71.7" y="160.5" width="128.2" height="88.2" class="sp"/>
<g><text x="75.67" y="258.3" font-size="6.72" textLength="3.72" lengthAdjust="spacingAndGlyphs" fill="#262626">0</text><text x="91.73" y="258.3" font-size="6.72" textLength="11.85" lengthAdjust="spacingAndGlyphs" fill="#262626">250</text><text x="111.98" y="258.3" font-size="6.72" textLength="11.75" lengthAdjust="spacingAndGlyphs" fill="#262626">500</text><text x="132.07" y="258.3" font-size="6.72" textLength="11.8" lengthAdjust="spacingAndGlyphs" fill="#262626">750</text><text x="150.2" y="258.3" font-size="6.72" textLength="15.84" lengthAdjust="spacingAndGlyphs" fill="#262626">1000</text><text x="170.34" y="258.3" font-size="6.72" textLength="15.84" lengthAdjust="spacingAndGlyphs" fill="#262626">1250</text><text x="190.49" y="258.3" font-size="6.72" textLength="15.84" lengthAdjust="spacingAndGlyphs" fill="#262626">1500</text><text x="49.31" y="235.85" font-size="6.72" textLength="17.87" lengthAdjust="spacingAndGlyphs" fill="#262626">0.020</text><text x="49.44" y="216.85" font-size="6.72" textLength="17.75" lengthAdjust="spacingAndGlyphs" fill="#262626">0.025</text><text x="49.31" y="197.85" font-size="6.72" textLength="17.87" lengthAdjust="spacingAndGlyphs" fill="#262626">0.030</text><text x="49.44" y="178.85" font-size="6.72" textLength="17.75" lengthAdjust="spacingAndGlyphs" fill="#262626">0.035</text></g>
<text x="75.2" y="157.5" font-size="12.77" textLength="121.33" lengthAdjust="spacingAndGlyphs" fill="#262626">p05 Polyhalo-olefins</text>
<g fill="#0173b2"><text x="120.96" y="169.11" font-size="5.78" textLength="15.6" lengthAdjust="spacingAndGlyphs">0.030</text><text x="136.56" y="169.11" font-size="5.78" textLength="3.45" lengthAdjust="spacingAndGlyphs" font-style="italic">n</text><text x="140.27" y="167.03" font-size="4.04" textLength="11.69" lengthAdjust="spacingAndGlyphs">&#8722;0.06</text><text x="153.17" y="169.11" font-size="5.78" textLength="4.57" lengthAdjust="spacingAndGlyphs">+</text><text x="158.8" y="169.11" font-size="5.78" textLength="12.13" lengthAdjust="spacingAndGlyphs">2.06</text><text x="172" y="169.11" font-size="5.78" textLength="4.57" lengthAdjust="spacingAndGlyphs">&#215;</text><text x="177.62" y="169.11" font-size="5.78" textLength="6.93" lengthAdjust="spacingAndGlyphs">10</text><text x="184.61" y="167.03" font-size="4.04" textLength="8.05" lengthAdjust="spacingAndGlyphs">&#8722;12</text></g>
<g fill="#de8f05"><text x="123.14" y="177.93" font-size="5.78" textLength="15.6" lengthAdjust="spacingAndGlyphs">0.032</text><text x="138.74" y="177.93" font-size="5.78" textLength="3.45" lengthAdjust="spacingAndGlyphs" font-style="italic">n</text><text x="142.45" y="175.85" font-size="4.04" textLength="11.69" lengthAdjust="spacingAndGlyphs">&#8722;0.07</text><text x="155.35" y="177.93" font-size="5.78" textLength="4.57" lengthAdjust="spacingAndGlyphs">+</text><text x="160.98" y="177.93" font-size="5.78" textLength="12.13" lengthAdjust="spacingAndGlyphs">2.38</text><text x="174.18" y="177.93" font-size="5.78" textLength="4.57" lengthAdjust="spacingAndGlyphs">&#215;</text><text x="179.8" y="177.93" font-size="5.78" textLength="6.93" lengthAdjust="spacingAndGlyphs">10</text><text x="186.79" y="175.85" font-size="4.04" textLength="5.62" lengthAdjust="spacingAndGlyphs">&#8722;9</text></g>
<g fill="#029e73"><text x="123.14" y="186.75" font-size="5.78" textLength="15.6" lengthAdjust="spacingAndGlyphs">0.053</text><text x="138.74" y="186.75" font-size="5.78" textLength="3.45" lengthAdjust="spacingAndGlyphs" font-style="italic">n</text><text x="142.45" y="184.67" font-size="4.04" textLength="11.69" lengthAdjust="spacingAndGlyphs">&#8722;0.15</text><text x="155.35" y="186.75" font-size="5.78" textLength="4.57" lengthAdjust="spacingAndGlyphs">+</text><text x="160.98" y="186.75" font-size="5.78" textLength="12.13" lengthAdjust="spacingAndGlyphs">2.11</text><text x="174.18" y="186.75" font-size="5.78" textLength="4.57" lengthAdjust="spacingAndGlyphs">&#215;</text><text x="179.8" y="186.75" font-size="5.78" textLength="6.93" lengthAdjust="spacingAndGlyphs">10</text><text x="186.79" y="184.67" font-size="4.04" textLength="5.62" lengthAdjust="spacingAndGlyphs">&#8722;9</text></g>
<g clip-path="url(#c5)"><g class="gr"><line x1="237.88" y1="160.5" x2="237.88" y2="248.7"/><line x1="260.2" y1="160.5" x2="260.2" y2="248.7"/><line x1="282.53" y1="160.5" x2="282.53" y2="248.7"/><line x1="304.86" y1="160.5" x2="304.86" y2="248.7"/><line x1="327.18" y1="160.5" x2="327.18" y2="248.7"/><line x1="349.51" y1="160.5" x2="349.51" y2="248.7"/><line x1="232.05" y1="242.6" x2="360.25" y2="242.6"/><line x1="232.05" y1="227.72" x2="360.25" y2="227.72"/><line x1="232.05" y1="212.84" x2="360.25" y2="212.84"/><line x1="232.05" y1="197.96" x2="360.25" y2="197.96"/><line x1="232.05" y1="183.08" x2="360.25" y2="183.08"/><line x1="232.05" y1="168.2" x2="360.25" y2="168.2"/></g><polygon points="238.77,204.51 239.66,209.57 242.34,212.54 246.81,215.52 255.74,219.39 282.53,225.34 282.53,228.91 255.74,222.96 246.81,219.09 242.34,216.11 239.66,213.14 238.77,208.08" fill="#0173b2" fill-opacity="0.2"/><polyline points="238.77,206.29 239.66,211.35 242.34,214.33 246.81,217.3 255.74,221.17 282.53,227.12" fill="none" stroke="#0173b2" stroke-width="1.0"/><g fill="#0173b2" stroke="#fff" stroke-width="0.45"><circle cx="238.77" cy="206.29" r="1.6"/><circle cx="239.66" cy="211.35" r="1.6"/><circle cx="242.34" cy="214.33" r="1.6"/><circle cx="246.81" cy="217.3" r="1.6"/><circle cx="255.74" cy="221.17" r="1.6"/><circle cx="282.53" cy="227.12" r="1.6"/></g><polygon points="238.77,209.27 239.66,210.46 242.34,212.24 246.81,214.63 255.74,219.39 282.53,228.91 282.53,232.48 255.74,222.96 246.81,218.2 242.34,215.82 239.66,214.03 238.77,212.84" fill="#de8f05" fill-opacity="0.2"/><polyline points="238.77,211.05 239.66,212.24 242.34,214.03 246.81,216.41 255.74,221.17 282.53,230.7" fill="none" stroke="#de8f05" stroke-width="1.0"/><path d="M237.52 209.8L240.02 212.3M237.52 212.3L240.02 209.8M238.41 210.99L240.91 213.49M238.41 213.49L240.91 210.99M241.09 212.78L243.59 215.28M241.09 215.28L243.59 212.78M245.56 215.16L248.06 217.66M245.56 217.66L248.06 215.16M254.49 219.92L256.99 222.42M254.49 222.42L256.99 219.92M281.28 229.45L283.78 231.95M281.28 231.95L283.78 229.45" stroke="#fff" stroke-width="1.6" fill="none"/><path d="M237.52 209.8L240.02 212.3M237.52 212.3L240.02 209.8M238.41 210.99L240.91 213.49M238.41 213.49L240.91 210.99M241.09 212.78L243.59 215.28M241.09 215.28L243.59 212.78M245.56 215.16L248.06 217.66M245.56 217.66L248.06 215.16M254.49 219.92L256.99 222.42M254.49 222.42L256.99 219.92M281.28 229.45L283.78 231.95M281.28 231.95L283.78 229.45" stroke="#de8f05" stroke-width="1.0" fill="none"/><polygon points="240.79,185.76 243.7,201.92 249.53,211.25 261.19,219.39 284.5,227.57 331.11,236.65 331.11,245.58 284.5,237.39 261.19,230.1 249.53,223.36 243.7,215.43 240.79,200.64" fill="#029e73" fill-opacity="0.2"/><polyline points="240.79,193.2 243.7,208.67 249.53,217.3 261.19,224.74 284.5,232.48 331.11,241.11" fill="none" stroke="#029e73" stroke-width="1.0"/><g fill="#029e73" stroke="#fff" stroke-width="0.4"><rect x="239.64" y="192.05" width="2.3" height="2.3"/><rect x="242.55" y="207.52" width="2.3" height="2.3"/><rect x="248.38" y="216.15" width="2.3" height="2.3"/><rect x="260.04" y="223.59" width="2.3" height="2.3"/><rect x="283.35" y="231.33" width="2.3" height="2.3"/><rect x="329.96" y="239.96" width="2.3" height="2.3"/></g><polyline points="238.77,208.12 238.8,208.29 238.83,208.47 238.86,208.64 238.89,208.81 238.93,208.99 238.96,209.16 239,209.33 239.04,209.51 239.07,209.68 239.11,209.85 239.15,210.02 239.2,210.19 239.24,210.36 239.28,210.53 239.33,210.7 239.38,210.87 239.43,211.03 239.48,211.2 239.53,211.37 239.59,211.53 239.64,211.7 239.7,211.86 239.76,212.03 239.82,212.19 239.89,212.36 239.96,212.52 240.02,212.69 240.09,212.85 240.17,213.01 240.24,213.17 240.32,213.33 240.4,213.5 240.49,213.66 240.57,213.82 240.66,213.98 240.75,214.13 240.85,214.29 240.95,214.45 241.05,214.61 241.15,214.77 241.26,214.92 241.37,215.08 241.49,215.24 241.61,215.39 241.73,215.55 241.86,215.7 241.99,215.86 242.12,216.01 242.26,216.17 242.41,216.32 242.56,216.47 242.71,216.62 242.87,216.78 243.04,216.93 243.21,217.08 243.38,217.23 243.56,217.38 243.75,217.53 243.94,217.68 244.15,217.83 244.35,217.98 244.57,218.12 244.79,218.27 245.01,218.42 245.25,218.57 245.49,218.71 245.75,218.86 246,219 246.27,219.15 246.55,219.3 246.84,219.44 247.13,219.58 247.44,219.73 247.75,219.87 248.08,220.01 248.42,220.16 248.76,220.3 249.12,220.44 249.49,220.58 249.88,220.72 250.27,220.86 250.68,221 251.11,221.14 251.54,221.28 251.99,221.42 252.46,221.56 252.94,221.7 253.44,221.84 253.95,221.97 254.48,222.11 255.03,222.25 255.6,222.39 256.18,222.52 256.79,222.66 257.41,222.79 258.06,222.93 258.72,223.06 259.41,223.2 260.12,223.33 260.85,223.46 261.61,223.6 262.4,223.73 263.21,223.86 264.04,223.99 264.91,224.12 265.8,224.26 266.72,224.39 267.67,224.52 268.65,224.65 269.67,224.78 270.72,224.91 271.8,225.04 272.92,225.16 274.08,225.29 275.28,225.42 276.51,225.55 277.79,225.68 279.1,225.8 280.46,225.93 281.87,226.06 283.32,226.18 284.82,226.31 286.37,226.43 287.97,226.56 289.63,226.68 291.33,226.81 293.1,226.93 294.92,227.05 296.8,227.18 298.75,227.3 300.76,227.42 302.83,227.54 304.98,227.67 307.19,227.79 309.48,227.91 311.84,228.03 314.29,228.15 316.81,228.27 319.41,228.39 322.1,228.51 324.89,228.63 327.76,228.75 330.72,228.87 333.79,228.98 336.95,229.1 340.23,229.22 343.6,229.34 347.09,229.45 350.7,229.57 354.42,229.69" fill="none" stroke="#3030ff" class="dt"/><polyline points="238.77,206.17 238.8,206.38 238.83,206.6 238.86,206.81 238.89,207.02 238.93,207.24 238.96,207.45 239,207.66 239.04,207.87 239.07,208.08 239.11,208.29 239.15,208.49 239.2,208.7 239.24,208.91 239.28,209.11 239.33,209.32 239.38,209.52 239.43,209.73 239.48,209.93 239.53,210.13 239.59,210.33 239.64,210.53 239.7,210.73 239.76,210.93 239.82,211.13 239.89,211.33 239.96,211.53 240.02,211.73 240.09,211.92 240.17,212.12 240.24,212.31 240.32,212.51 240.4,212.7 240.49,212.9 240.57,213.09 240.66,213.28 240.75,213.47 240.85,213.66 240.95,213.85 241.05,214.04 241.15,214.23 241.26,214.42 241.37,214.61 241.49,214.8 241.61,214.98 241.73,215.17 241.86,215.36 241.99,215.54 242.12,215.72 242.26,215.91 242.41,216.09 242.56,216.27 242.71,216.46 242.87,216.64 243.04,216.82 243.21,217 243.38,217.18 243.56,217.36 243.75,217.53 243.94,217.71 244.15,217.89 244.35,218.07 244.57,218.24 244.79,218.42 245.01,218.59 245.25,218.77 245.49,218.94 245.75,219.11 246,219.29 246.27,219.46 246.55,219.63 246.84,219.8 247.13,219.97 247.44,220.14 247.75,220.31 248.08,220.48 248.42,220.65 248.76,220.81 249.12,220.98 249.49,221.15 249.88,221.31 250.27,221.48 250.68,221.64 251.11,221.81 251.54,221.97 251.99,222.14 252.46,222.3 252.94,222.46 253.44,222.62 253.95,222.78 254.48,222.95 255.03,223.11 255.6,223.27 256.18,223.42 256.79,223.58 257.41,223.74 258.06,223.9 258.72,224.06 259.41,224.21 260.12,224.37 260.85,224.52 261.61,224.68 262.4,224.83 263.21,224.99 264.04,225.14 264.91,225.29 265.8,225.45 266.72,225.6 267.67,225.75 268.65,225.9 269.67,226.05 270.72,226.2 271.8,226.35 272.92,226.5 274.08,226.65 275.28,226.8 276.51,226.95 277.79,227.09 279.1,227.24 280.46,227.39 281.87,227.53 283.32,227.68 284.82,227.82 286.37,227.97 287.97,228.11 289.63,228.25 291.33,228.4 293.1,228.54 294.92,228.68 296.8,228.82 298.75,228.97 300.76,229.11 302.83,229.25 304.98,229.39 307.19,229.53 309.48,229.66 311.84,229.8 314.29,229.94 316.81,230.08 319.41,230.22 322.1,230.35 324.89,230.49 327.76,230.62 330.72,230.76 333.79,230.89 336.95,231.03 340.23,231.16 343.6,231.3 347.09,231.43 350.7,231.56 354.42,231.69" fill="none" stroke="#ffa030" class="dt"/><polyline points="238.77,164.22 238.8,165.15 238.83,166.07 238.86,166.99 238.89,167.89 238.93,168.79 238.96,169.68 239,170.56 239.04,171.44 239.07,172.3 239.11,173.16 239.15,174.01 239.2,174.85 239.24,175.69 239.28,176.52 239.33,177.34 239.38,178.15 239.43,178.95 239.48,179.75 239.53,180.54 239.59,181.33 239.64,182.11 239.7,182.88 239.76,183.64 239.82,184.39 239.89,185.14 239.96,185.89 240.02,186.62 240.09,187.35 240.17,188.07 240.24,188.79 240.32,189.5 240.4,190.2 240.49,190.9 240.57,191.59 240.66,192.28 240.75,192.96 240.85,193.63 240.95,194.29 241.05,194.96 241.15,195.61 241.26,196.26 241.37,196.9 241.49,197.54 241.61,198.17 241.73,198.8 241.86,199.42 241.99,200.03 242.12,200.64 242.26,201.24 242.41,201.84 242.56,202.43 242.71,203.02 242.87,203.6 243.04,204.18 243.21,204.75 243.38,205.32 243.56,205.88 243.75,206.43 243.94,206.99 244.15,207.53 244.35,208.07 244.57,208.61 244.79,209.14 245.01,209.67 245.25,210.19 245.49,210.71 245.75,211.22 246,211.73 246.27,212.23 246.55,212.73 246.84,213.23 247.13,213.72 247.44,214.2 247.75,214.69 248.08,215.16 248.42,215.64 248.76,216.1 249.12,216.57 249.49,217.03 249.88,217.48 250.27,217.94 250.68,218.38 251.11,218.83 251.54,219.27 251.99,219.7 252.46,220.14 252.94,220.56 253.44,220.99 253.95,221.41 254.48,221.83 255.03,222.24 255.6,222.65 256.18,223.05 256.79,223.46 257.41,223.85 258.06,224.25 258.72,224.64 259.41,225.03 260.12,225.41 260.85,225.79 261.61,226.17 262.4,226.54 263.21,226.91 264.04,227.28 264.91,227.65 265.8,228.01 266.72,228.36 267.67,228.72 268.65,229.07 269.67,229.42 270.72,229.76 271.8,230.1 272.92,230.44 274.08,230.78 275.28,231.11 276.51,231.44 277.79,231.77 279.1,232.09 280.46,232.41 281.87,232.73 283.32,233.04 284.82,233.36 286.37,233.67 287.97,233.97 289.63,234.28 291.33,234.58 293.1,234.88 294.92,235.17 296.8,235.46 298.75,235.75 300.76,236.04 302.83,236.33 304.98,236.61 307.19,236.89 309.48,237.17 311.84,237.44 314.29,237.72 316.81,237.99 319.41,238.25 322.1,238.52 324.89,238.78 327.76,239.04 330.72,239.3 333.79,239.56 336.95,239.81 340.23,240.06 343.6,240.31 347.09,240.56 350.7,240.8 354.42,241.04" fill="none" stroke="#1c951c" class="dt"/></g>
<rect x="232.05" y="160.5" width="128.2" height="88.2" class="sp"/>
<g><text x="236.02" y="258.3" font-size="6.72" textLength="3.72" lengthAdjust="spacingAndGlyphs" fill="#262626">0</text><text x="254.26" y="258.3" font-size="6.72" textLength="11.85" lengthAdjust="spacingAndGlyphs" fill="#262626">250</text><text x="276.69" y="258.3" font-size="6.72" textLength="11.75" lengthAdjust="spacingAndGlyphs" fill="#262626">500</text><text x="298.96" y="258.3" font-size="6.72" textLength="11.8" lengthAdjust="spacingAndGlyphs" fill="#262626">750</text><text x="319.27" y="258.3" font-size="6.72" textLength="15.84" lengthAdjust="spacingAndGlyphs" fill="#262626">1000</text><text x="341.6" y="258.3" font-size="6.72" textLength="15.84" lengthAdjust="spacingAndGlyphs" fill="#262626">1250</text><text x="209.66" y="244.95" font-size="6.72" textLength="17.87" lengthAdjust="spacingAndGlyphs" fill="#262626">0.010</text><text x="209.79" y="230.07" font-size="6.72" textLength="17.75" lengthAdjust="spacingAndGlyphs" fill="#262626">0.015</text><text x="209.66" y="215.19" font-size="6.72" textLength="17.87" lengthAdjust="spacingAndGlyphs" fill="#262626">0.020</text><text x="209.79" y="200.31" font-size="6.72" textLength="17.75" lengthAdjust="spacingAndGlyphs" fill="#262626">0.025</text><text x="209.66" y="185.43" font-size="6.72" textLength="17.87" lengthAdjust="spacingAndGlyphs" fill="#262626">0.030</text><text x="209.79" y="170.55" font-size="6.72" textLength="17.75" lengthAdjust="spacingAndGlyphs" fill="#262626">0.035</text></g>
<text x="250.55" y="157.5" font-size="12.77" textLength="91.33" lengthAdjust="spacingAndGlyphs" fill="#262626">p06 Polydienes</text>
<g fill="#0173b2"><text x="283.49" y="169.11" font-size="5.78" textLength="15.6" lengthAdjust="spacingAndGlyphs">0.026</text><text x="299.09" y="169.11" font-size="5.78" textLength="3.45" lengthAdjust="spacingAndGlyphs" font-style="italic">n</text><text x="302.8" y="167.03" font-size="4.04" textLength="11.69" lengthAdjust="spacingAndGlyphs">&#8722;0.08</text><text x="315.7" y="169.11" font-size="5.78" textLength="4.57" lengthAdjust="spacingAndGlyphs">+</text><text x="321.33" y="169.11" font-size="5.78" textLength="12.13" lengthAdjust="spacingAndGlyphs">2.09</text><text x="334.53" y="169.11" font-size="5.78" textLength="4.57" lengthAdjust="spacingAndGlyphs">&#215;</text><text x="340.15" y="169.11" font-size="5.78" textLength="6.93" lengthAdjust="spacingAndGlyphs">10</text><text x="347.14" y="167.03" font-size="4.04" textLength="5.62" lengthAdjust="spacingAndGlyphs">&#8722;4</text></g>
<g fill="#de8f05"><text x="281.31" y="177.93" font-size="5.78" textLength="15.6" lengthAdjust="spacingAndGlyphs">0.028</text><text x="296.91" y="177.93" font-size="5.78" textLength="3.45" lengthAdjust="spacingAndGlyphs" font-style="italic">n</text><text x="300.62" y="175.85" font-size="4.04" textLength="11.69" lengthAdjust="spacingAndGlyphs">&#8722;0.10</text><text x="313.52" y="177.93" font-size="5.78" textLength="4.57" lengthAdjust="spacingAndGlyphs">+</text><text x="319.15" y="177.93" font-size="5.78" textLength="12" lengthAdjust="spacingAndGlyphs">1.88</text><text x="332.21" y="177.93" font-size="5.78" textLength="4.57" lengthAdjust="spacingAndGlyphs">&#215;</text><text x="337.84" y="177.93" font-size="5.78" textLength="6.93" lengthAdjust="spacingAndGlyphs">10</text><text x="344.82" y="175.85" font-size="4.04" textLength="8.05" lengthAdjust="spacingAndGlyphs">&#8722;15</text></g>
<g fill="#029e73"><text x="284.03" y="186.75" font-size="5.78" textLength="15.6" lengthAdjust="spacingAndGlyphs">0.066</text><text x="299.64" y="186.75" font-size="5.78" textLength="3.45" lengthAdjust="spacingAndGlyphs" font-style="italic">n</text><text x="303.34" y="184.67" font-size="4.04" textLength="11.45" lengthAdjust="spacingAndGlyphs">&#8722;0.29</text><text x="316.01" y="186.75" font-size="5.78" textLength="4.57" lengthAdjust="spacingAndGlyphs">+</text><text x="321.64" y="186.75" font-size="5.78" textLength="12.13" lengthAdjust="spacingAndGlyphs">1.54</text><text x="334.83" y="186.75" font-size="5.78" textLength="4.57" lengthAdjust="spacingAndGlyphs">&#215;</text><text x="340.46" y="186.75" font-size="5.78" textLength="6.93" lengthAdjust="spacingAndGlyphs">10</text><text x="347.45" y="184.67" font-size="4.04" textLength="5.62" lengthAdjust="spacingAndGlyphs">&#8722;3</text></g>
<g clip-path="url(#c6)"><g class="gr"><line x1="398.13" y1="160.5" x2="398.13" y2="248.7"/><line x1="425.11" y1="160.5" x2="425.11" y2="248.7"/><line x1="452.08" y1="160.5" x2="452.08" y2="248.7"/><line x1="479.06" y1="160.5" x2="479.06" y2="248.7"/><line x1="506.04" y1="160.5" x2="506.04" y2="248.7"/><line x1="392.3" y1="237.6" x2="520.5" y2="237.6"/><line x1="392.3" y1="223.1" x2="520.5" y2="223.1"/><line x1="392.3" y1="208.6" x2="520.5" y2="208.6"/><line x1="392.3" y1="194.1" x2="520.5" y2="194.1"/><line x1="392.3" y1="179.6" x2="520.5" y2="179.6"/><line x1="392.3" y1="165.1" x2="520.5" y2="165.1"/></g><polygon points="398.4,226.29 398.67,226.87 399.48,227.74 400.83,228.03 403.52,229.19 411.62,232.09 425.11,234.41 425.11,236.73 411.62,234.41 403.52,231.51 400.83,230.35 399.48,230.06 398.67,229.19 398.4,228.61" fill="#0173b2" fill-opacity="0.2"/><polyline points="398.4,227.45 398.67,228.03 399.48,228.9 400.83,229.19 403.52,230.35 411.62,233.25 425.11,235.57" fill="none" stroke="#0173b2" stroke-width="1.0"/><g fill="#0173b2" stroke="#fff" stroke-width="0.45"><circle cx="398.4" cy="227.45" r="1.6"/><circle cx="398.67" cy="228.03" r="1.6"/><circle cx="399.48" cy="228.9" r="1.6"/><circle cx="400.83" cy="229.19" r="1.6"/><circle cx="403.52" cy="230.35" r="1.6"/><circle cx="411.62" cy="233.25" r="1.6"/><circle cx="425.11" cy="235.57" r="1.6"/></g><polygon points="398.4,219.91 398.67,221.36 399.48,222.81 400.83,224.26 403.52,226.58 411.62,229.48 425.11,233.83 425.11,236.73 411.62,232.38 403.52,229.48 400.83,227.16 399.48,225.71 398.67,224.26 398.4,222.81" fill="#de8f05" fill-opacity="0.2"/><polyline points="398.4,221.36 398.67,222.81 399.48,224.26 400.83,225.71 403.52,228.03 411.62,230.93 425.11,235.28" fill="none" stroke="#de8f05" stroke-width="1.0"/><path d="M397.15 220.11L399.65 222.61M397.15 222.61L399.65 220.11M397.42 221.56L399.92 224.06M397.42 224.06L399.92 221.56M398.23 223.01L400.73 225.51M398.23 225.51L400.73 223.01M399.58 224.46L402.08 226.96M399.58 226.96L402.08 224.46M402.27 226.78L404.77 229.28M402.27 229.28L404.77 226.78M410.37 229.68L412.87 232.18M410.37 232.18L412.87 229.68M423.86 234.03L426.36 236.53M423.86 236.53L426.36 234.03" stroke="#fff" stroke-width="1.6" fill="none"/><path d="M397.15 220.11L399.65 222.61M397.15 222.61L399.65 220.11M397.42 221.56L399.92 224.06M397.42 224.06L399.92 221.56M398.23 223.01L400.73 225.51M398.23 225.51L400.73 223.01M399.58 224.46L402.08 226.96M399.58 226.96L402.08 224.46M402.27 226.78L404.77 229.28M402.27 229.28L404.77 226.78M410.37 229.68L412.87 232.18M410.37 232.18L412.87 229.68M423.86 234.03L426.36 236.53M423.86 236.53L426.36 234.03" stroke="#de8f05" stroke-width="1.0" fill="none"/><polygon points="401.04,205.41 403.95,213.99 409.78,222.29 421.44,230.29 444.75,237.14 491.36,241.66 491.36,244.56 444.75,240.38 421.44,233.89 409.78,226.23 403.95,218.29 401.04,210.05" fill="#029e73" fill-opacity="0.2"/><polyline points="401.04,207.73 403.95,216.14 409.78,224.26 421.44,232.09 444.75,238.76 491.36,243.11" fill="none" stroke="#029e73" stroke-width="1.0"/><g fill="#029e73" stroke="#fff" stroke-width="0.4"><rect x="399.89" y="206.58" width="2.3" height="2.3"/><rect x="402.8" y="214.99" width="2.3" height="2.3"/><rect x="408.63" y="223.11" width="2.3" height="2.3"/><rect x="420.29" y="230.94" width="2.3" height="2.3"/><rect x="443.6" y="237.61" width="2.3" height="2.3"/><rect x="490.21" y="241.96" width="2.3" height="2.3"/></g><polyline points="398.4,221.86 398.41,221.98 398.42,222.11 398.43,222.24 398.44,222.36 398.46,222.49 398.47,222.61 398.49,222.74 398.5,222.86 398.52,222.99 398.53,223.11 398.55,223.23 398.57,223.36 398.58,223.48 398.6,223.6 398.62,223.73 398.64,223.85 398.66,223.97 398.69,224.09 398.71,224.21 398.73,224.34 398.76,224.46 398.78,224.58 398.81,224.7 398.84,224.82 398.87,224.94 398.9,225.06 398.93,225.18 398.96,225.3 399,225.42 399.04,225.54 399.07,225.65 399.11,225.77 399.15,225.89 399.19,226.01 399.24,226.13 399.28,226.24 399.33,226.36 399.38,226.48 399.43,226.59 399.49,226.71 399.54,226.83 399.6,226.94 399.66,227.06 399.73,227.17 399.79,227.29 399.86,227.4 399.93,227.52 400.01,227.63 400.09,227.75 400.17,227.86 400.25,227.97 400.34,228.09 400.43,228.2 400.52,228.31 400.62,228.43 400.73,228.54 400.83,228.65 400.95,228.76 401.06,228.87 401.18,228.98 401.31,229.1 401.44,229.21 401.58,229.32 401.72,229.43 401.87,229.54 402.02,229.65 402.18,229.76 402.35,229.87 402.53,229.98 402.71,230.09 402.9,230.19 403.09,230.3 403.3,230.41 403.51,230.52 403.73,230.63 403.97,230.74 404.21,230.84 404.46,230.95 404.72,231.06 404.99,231.16 405.28,231.27 405.57,231.38 405.88,231.48 406.2,231.59 406.53,231.69 406.88,231.8 407.24,231.9 407.61,232.01 408.01,232.11 408.41,232.22 408.84,232.32 409.28,232.43 409.74,232.53 410.22,232.63 410.72,232.74 411.24,232.84 411.78,232.94 412.35,233.05 412.93,233.15 413.54,233.25 414.18,233.35 414.84,233.46 415.53,233.56 416.25,233.66 417,233.76 417.78,233.86 418.59,233.96 419.44,234.06 420.32,234.16 421.23,234.26 422.19,234.36 423.18,234.46 424.21,234.56 425.29,234.66 426.41,234.76 427.58,234.86 428.8,234.96 430.06,235.06 431.38,235.15 432.75,235.25 434.18,235.35 435.67,235.45 437.22,235.54 438.84,235.64 440.52,235.74 442.27,235.83 444.09,235.93 445.99,236.03 447.96,236.12 450.02,236.22 452.16,236.32 454.39,236.41 456.72,236.51 459.13,236.6 461.65,236.7 464.28,236.79 467.01,236.89 469.85,236.98 472.81,237.07 475.89,237.17 479.11,237.26 482.45,237.35 485.93,237.45 489.55,237.54 493.33,237.63 497.26,237.73 501.35,237.82 505.61,237.91 510.05,238 514.67,238.09" fill="none" stroke="#3030ff" class="dt"/><polyline points="398.4,221.24 398.41,221.36 398.42,221.47 398.43,221.58 398.44,221.7 398.46,221.81 398.47,221.92 398.49,222.03 398.5,222.15 398.52,222.26 398.53,222.37 398.55,222.48 398.57,222.59 398.58,222.7 398.6,222.81 398.62,222.92 398.64,223.04 398.66,223.15 398.69,223.26 398.71,223.37 398.73,223.48 398.76,223.58 398.78,223.69 398.81,223.8 398.84,223.91 398.87,224.02 398.9,224.13 398.93,224.24 398.96,224.35 399,224.45 399.04,224.56 399.07,224.67 399.11,224.78 399.15,224.88 399.19,224.99 399.24,225.1 399.28,225.2 399.33,225.31 399.38,225.41 399.43,225.52 399.49,225.63 399.54,225.73 399.6,225.84 399.66,225.94 399.73,226.05 399.79,226.15 399.86,226.25 399.93,226.36 400.01,226.46 400.09,226.57 400.17,226.67 400.25,226.77 400.34,226.88 400.43,226.98 400.52,227.08 400.62,227.19 400.73,227.29 400.83,227.39 400.95,227.49 401.06,227.59 401.18,227.7 401.31,227.8 401.44,227.9 401.58,228 401.72,228.1 401.87,228.2 402.02,228.3 402.18,228.4 402.35,228.5 402.53,228.6 402.71,228.7 402.9,228.8 403.09,228.9 403.3,229 403.51,229.1 403.73,229.2 403.97,229.3 404.21,229.39 404.46,229.49 404.72,229.59 404.99,229.69 405.28,229.79 405.57,229.88 405.88,229.98 406.2,230.08 406.53,230.17 406.88,230.27 407.24,230.37 407.61,230.46 408.01,230.56 408.41,230.66 408.84,230.75 409.28,230.85 409.74,230.94 410.22,231.04 410.72,231.13 411.24,231.23 411.78,231.32 412.35,231.42 412.93,231.51 413.54,231.61 414.18,231.7 414.84,231.79 415.53,231.89 416.25,231.98 417,232.07 417.78,232.17 418.59,232.26 419.44,232.35 420.32,232.45 421.23,232.54 422.19,232.63 423.18,232.72 424.21,232.82 425.29,232.91 426.41,233 427.58,233.09 428.8,233.18 430.06,233.27 431.38,233.36 432.75,233.45 434.18,233.54 435.67,233.63 437.22,233.72 438.84,233.81 440.52,233.9 442.27,233.99 444.09,234.08 445.99,234.17 447.96,234.26 450.02,234.35 452.16,234.44 454.39,234.53 456.72,234.62 459.13,234.71 461.65,234.79 464.28,234.88 467.01,234.97 469.85,235.06 472.81,235.14 475.89,235.23 479.11,235.32 482.45,235.41 485.93,235.49 489.55,235.58 493.33,235.67 497.26,235.75 501.35,235.84 505.61,235.92 510.05,236.01 514.67,236.1" fill="none" stroke="#ffa030" class="dt"/><polyline points="398.4,164.6 398.41,165.49 398.42,166.37 398.43,167.25 398.44,168.12 398.46,168.98 398.47,169.83 398.49,170.68 398.5,171.53 398.52,172.36 398.53,173.19 398.55,174.01 398.57,174.83 398.58,175.64 398.6,176.45 398.62,177.24 398.64,178.04 398.66,178.82 398.69,179.6 398.71,180.38 398.73,181.15 398.76,181.91 398.78,182.66 398.81,183.41 398.84,184.16 398.87,184.9 398.9,185.63 398.93,186.36 398.96,187.08 399,187.8 399.04,188.51 399.07,189.22 399.11,189.92 399.15,190.61 399.19,191.3 399.24,191.99 399.28,192.66 399.33,193.34 399.38,194.01 399.43,194.67 399.49,195.33 399.54,195.98 399.6,196.63 399.66,197.28 399.73,197.91 399.79,198.55 399.86,199.18 399.93,199.8 400.01,200.42 400.09,201.04 400.17,201.65 400.25,202.25 400.34,202.85 400.43,203.45 400.52,204.04 400.62,204.63 400.73,205.21 400.83,205.79 400.95,206.36 401.06,206.93 401.18,207.49 401.31,208.05 401.44,208.61 401.58,209.16 401.72,209.71 401.87,210.25 402.02,210.79 402.18,211.33 402.35,211.86 402.53,212.39 402.71,212.91 402.9,213.43 403.09,213.94 403.3,214.45 403.51,214.96 403.73,215.47 403.97,215.96 404.21,216.46 404.46,216.95 404.72,217.44 404.99,217.92 405.28,218.41 405.57,218.88 405.88,219.36 406.2,219.83 406.53,220.29 406.88,220.75 407.24,221.21 407.61,221.67 408.01,222.12 408.41,222.57 408.84,223.01 409.28,223.46 409.74,223.89 410.22,224.33 410.72,224.76 411.24,225.19 411.78,225.61 412.35,226.04 412.93,226.45 413.54,226.87 414.18,227.28 414.84,227.69 415.53,228.1 416.25,228.5 417,228.9 417.78,229.29 418.59,229.69 419.44,230.08 420.32,230.47 421.23,230.85 422.19,231.23 423.18,231.61 424.21,231.99 425.29,232.36 426.41,232.73 427.58,233.1 428.8,233.46 430.06,233.82 431.38,234.18 432.75,234.54 434.18,234.89 435.67,235.24 437.22,235.59 438.84,235.94 440.52,236.28 442.27,236.62 444.09,236.96 445.99,237.29 447.96,237.62 450.02,237.95 452.16,238.28 454.39,238.61 456.72,238.93 459.13,239.25 461.65,239.56 464.28,239.88 467.01,240.19 469.85,240.5 472.81,240.81 475.89,241.12 479.11,241.42 482.45,241.72 485.93,242.02 489.55,242.31 493.33,242.61 497.26,242.9 501.35,243.19 505.61,243.48 510.05,243.76 514.67,244.04" fill="none" stroke="#1c951c" class="dt"/></g>
<rect x="392.3" y="160.5" width="128.2" height="88.2" class="sp"/>
<g><text x="396.27" y="258.3" font-size="6.72" textLength="3.72" lengthAdjust="spacingAndGlyphs" fill="#262626">0</text><text x="417.19" y="258.3" font-size="6.72" textLength="15.84" lengthAdjust="spacingAndGlyphs" fill="#262626">1000</text><text x="444.12" y="258.3" font-size="6.72" textLength="15.89" lengthAdjust="spacingAndGlyphs" fill="#262626">2000</text><text x="471.21" y="258.3" font-size="6.72" textLength="15.78" lengthAdjust="spacingAndGlyphs" fill="#262626">3000</text><text x="498.12" y="258.3" font-size="6.72" textLength="15.85" lengthAdjust="spacingAndGlyphs" fill="#262626">4000</text><text x="370.04" y="239.95" font-size="6.72" textLength="17.75" lengthAdjust="spacingAndGlyphs" fill="#262626">0.015</text><text x="369.91" y="225.45" font-size="6.72" textLength="17.87" lengthAdjust="spacingAndGlyphs" fill="#262626">0.020</text><text x="370.04" y="210.95" font-size="6.72" textLength="17.75" lengthAdjust="spacingAndGlyphs" fill="#262626">0.025</text><text x="369.91" y="196.45" font-size="6.72" textLength="17.87" lengthAdjust="spacingAndGlyphs" fill="#262626">0.030</text><text x="370.04" y="181.95" font-size="6.72" textLength="17.75" lengthAdjust="spacingAndGlyphs" fill="#262626">0.035</text><text x="369.91" y="167.45" font-size="6.72" textLength="17.87" lengthAdjust="spacingAndGlyphs" fill="#262626">0.040</text></g>
<text x="411.45" y="157.5" font-size="12.77" textLength="90.03" lengthAdjust="spacingAndGlyphs" fill="#262626">p07 Polyethers</text>
<g fill="#0173b2"><text x="443.74" y="169.11" font-size="5.78" textLength="15.6" lengthAdjust="spacingAndGlyphs">0.023</text><text x="459.34" y="169.11" font-size="5.78" textLength="3.45" lengthAdjust="spacingAndGlyphs" font-style="italic">n</text><text x="463.05" y="167.03" font-size="4.04" textLength="11.69" lengthAdjust="spacingAndGlyphs">&#8722;0.08</text><text x="475.95" y="169.11" font-size="5.78" textLength="4.57" lengthAdjust="spacingAndGlyphs">+</text><text x="481.58" y="169.11" font-size="5.78" textLength="12.13" lengthAdjust="spacingAndGlyphs">7.07</text><text x="494.78" y="169.11" font-size="5.78" textLength="4.57" lengthAdjust="spacingAndGlyphs">&#215;</text><text x="500.4" y="169.11" font-size="5.78" textLength="6.93" lengthAdjust="spacingAndGlyphs">10</text><text x="507.39" y="167.03" font-size="4.04" textLength="5.62" lengthAdjust="spacingAndGlyphs">&#8722;5</text></g>
<g fill="#de8f05"><text x="441.56" y="177.93" font-size="5.78" textLength="15.6" lengthAdjust="spacingAndGlyphs">0.023</text><text x="457.16" y="177.93" font-size="5.78" textLength="3.45" lengthAdjust="spacingAndGlyphs" font-style="italic">n</text><text x="460.87" y="175.85" font-size="4.04" textLength="11.69" lengthAdjust="spacingAndGlyphs">&#8722;0.05</text><text x="473.77" y="177.93" font-size="5.78" textLength="4.57" lengthAdjust="spacingAndGlyphs">+</text><text x="479.4" y="177.93" font-size="5.78" textLength="12.13" lengthAdjust="spacingAndGlyphs">7.32</text><text x="492.6" y="177.93" font-size="5.78" textLength="4.57" lengthAdjust="spacingAndGlyphs">&#215;</text><text x="498.22" y="177.93" font-size="5.78" textLength="6.93" lengthAdjust="spacingAndGlyphs">10</text><text x="505.21" y="175.85" font-size="4.04" textLength="8.05" lengthAdjust="spacingAndGlyphs">&#8722;10</text></g>
<g fill="#029e73"><text x="443.74" y="186.75" font-size="5.78" textLength="15.6" lengthAdjust="spacingAndGlyphs">0.062</text><text x="459.34" y="186.75" font-size="5.78" textLength="3.45" lengthAdjust="spacingAndGlyphs" font-style="italic">n</text><text x="463.05" y="184.67" font-size="4.04" textLength="11.69" lengthAdjust="spacingAndGlyphs">&#8722;0.19</text><text x="475.95" y="186.75" font-size="5.78" textLength="4.57" lengthAdjust="spacingAndGlyphs">+</text><text x="481.58" y="186.75" font-size="5.78" textLength="12.13" lengthAdjust="spacingAndGlyphs">1.41</text><text x="494.78" y="186.75" font-size="5.78" textLength="4.57" lengthAdjust="spacingAndGlyphs">&#215;</text><text x="500.4" y="186.75" font-size="5.78" textLength="6.93" lengthAdjust="spacingAndGlyphs">10</text><text x="507.39" y="184.67" font-size="4.04" textLength="5.62" lengthAdjust="spacingAndGlyphs">&#8722;4</text></g>
<g clip-path="url(#c7)"><g class="gr"><line x1="558.38" y1="160.5" x2="558.38" y2="248.7"/><line x1="584.15" y1="160.5" x2="584.15" y2="248.7"/><line x1="609.93" y1="160.5" x2="609.93" y2="248.7"/><line x1="635.71" y1="160.5" x2="635.71" y2="248.7"/><line x1="661.49" y1="160.5" x2="661.49" y2="248.7"/><line x1="552.55" y1="236.5" x2="680.75" y2="236.5"/><line x1="552.55" y1="223.48" x2="680.75" y2="223.48"/><line x1="552.55" y1="210.46" x2="680.75" y2="210.46"/><line x1="552.55" y1="197.44" x2="680.75" y2="197.44"/><line x1="552.55" y1="184.42" x2="680.75" y2="184.42"/><line x1="552.55" y1="171.4" x2="680.75" y2="171.4"/></g><polygon points="558.64,216.45 558.89,218.92 559.67,221.14 560.95,222.83 563.53,224.39 571.27,229.73 584.15,232.85 584.15,235.46 571.27,232.33 563.53,227 560.95,225.43 559.67,223.74 558.89,221.53 558.64,219.05" fill="#0173b2" fill-opacity="0.2"/><polyline points="558.64,217.75 558.89,220.22 559.67,222.44 560.95,224.13 563.53,225.69 571.27,231.03 584.15,234.16" fill="none" stroke="#0173b2" stroke-width="1.0"/><g fill="#0173b2" stroke="#fff" stroke-width="0.45"><circle cx="558.64" cy="217.75" r="1.6"/><circle cx="558.89" cy="220.22" r="1.6"/><circle cx="559.67" cy="222.44" r="1.6"/><circle cx="560.95" cy="224.13" r="1.6"/><circle cx="563.53" cy="225.69" r="1.6"/><circle cx="571.27" cy="231.03" r="1.6"/><circle cx="584.15" cy="234.16" r="1.6"/></g><polygon points="558.64,210.59 558.89,213.32 559.67,216.71 560.95,219.31 563.53,221.92 571.27,227.78 584.15,231.03 584.15,234.16 571.27,230.9 563.53,225.04 560.95,222.44 559.67,219.83 558.89,216.45 558.64,213.72" fill="#de8f05" fill-opacity="0.2"/><polyline points="558.64,212.15 558.89,214.89 559.67,218.27 560.95,220.88 563.53,223.48 571.27,229.34 584.15,232.59" fill="none" stroke="#de8f05" stroke-width="1.0"/><path d="M557.39 210.9L559.89 213.4M557.39 213.4L559.89 210.9M557.64 213.64L560.14 216.14M557.64 216.14L560.14 213.64M558.42 217.02L560.92 219.52M558.42 219.52L560.92 217.02M559.7 219.63L562.2 222.13M559.7 222.13L562.2 219.63M562.28 222.23L564.78 224.73M562.28 224.73L564.78 222.23M570.02 228.09L572.52 230.59M570.02 230.59L572.52 228.09M582.9 231.34L585.4 233.84M582.9 233.84L585.4 231.34" stroke="#fff" stroke-width="1.6" fill="none"/><path d="M557.39 210.9L559.89 213.4M557.39 213.4L559.89 210.9M557.64 213.64L560.14 216.14M557.64 216.14L560.14 213.64M558.42 217.02L560.92 219.52M558.42 219.52L560.92 217.02M559.7 219.63L562.2 222.13M559.7 222.13L562.2 219.63M562.28 222.23L564.78 224.73M562.28 224.73L564.78 222.23M570.02 228.09L572.52 230.59M570.02 230.59L572.52 228.09M582.9 231.34L585.4 233.84M582.9 233.84L585.4 231.34" stroke="#de8f05" stroke-width="1.0" fill="none"/><polygon points="561.29,209.94 564.2,218.66 570.03,226.08 581.69,232.98 605,237.8 651.61,241.84 651.61,244.44 605,240.67 581.69,236.11 570.03,229.47 564.2,222.31 561.29,213.85" fill="#029e73" fill-opacity="0.2"/><polyline points="561.29,211.89 564.2,220.49 570.03,227.78 581.69,234.55 605,239.23 651.61,243.14" fill="none" stroke="#029e73" stroke-width="1.0"/><g fill="#029e73" stroke="#fff" stroke-width="0.4"><rect x="560.14" y="210.74" width="2.3" height="2.3"/><rect x="563.05" y="219.34" width="2.3" height="2.3"/><rect x="568.88" y="226.63" width="2.3" height="2.3"/><rect x="580.54" y="233.4" width="2.3" height="2.3"/><rect x="603.85" y="238.08" width="2.3" height="2.3"/><rect x="650.46" y="241.99" width="2.3" height="2.3"/></g><polyline points="558.64,212.06 558.65,212.29 558.66,212.53 558.67,212.76 558.68,212.99 558.69,213.22 558.71,213.44 558.72,213.67 558.73,213.9 558.75,214.12 558.76,214.35 558.78,214.57 558.8,214.8 558.82,215.02 558.83,215.24 558.85,215.46 558.87,215.68 558.89,215.9 558.91,216.12 558.94,216.34 558.96,216.55 558.98,216.77 559.01,216.98 559.04,217.2 559.06,217.41 559.09,217.63 559.12,217.84 559.15,218.05 559.18,218.26 559.22,218.47 559.25,218.68 559.29,218.89 559.33,219.09 559.37,219.3 559.41,219.51 559.45,219.71 559.5,219.92 559.54,220.12 559.59,220.32 559.64,220.53 559.69,220.73 559.75,220.93 559.81,221.13 559.86,221.33 559.93,221.53 559.99,221.72 560.06,221.92 560.13,222.12 560.2,222.31 560.28,222.51 560.36,222.7 560.44,222.9 560.52,223.09 560.61,223.28 560.71,223.47 560.8,223.66 560.9,223.85 561.01,224.04 561.12,224.23 561.23,224.42 561.35,224.61 561.47,224.79 561.6,224.98 561.74,225.16 561.88,225.35 562.02,225.53 562.18,225.72 562.33,225.9 562.5,226.08 562.67,226.26 562.85,226.44 563.03,226.62 563.23,226.8 563.43,226.98 563.64,227.16 563.86,227.33 564.09,227.51 564.32,227.69 564.57,227.86 564.83,228.04 565.1,228.21 565.38,228.38 565.67,228.56 565.97,228.73 566.29,228.9 566.62,229.07 566.96,229.24 567.32,229.41 567.69,229.58 568.08,229.75 568.48,229.92 568.9,230.08 569.34,230.25 569.79,230.42 570.27,230.58 570.76,230.75 571.28,230.91 571.81,231.07 572.37,231.24 572.96,231.4 573.56,231.56 574.19,231.72 574.85,231.88 575.54,232.04 576.25,232.2 576.99,232.36 577.77,232.52 578.58,232.68 579.42,232.83 580.29,232.99 581.2,233.15 582.15,233.3 583.14,233.46 584.17,233.61 585.25,233.76 586.36,233.92 587.53,234.07 588.74,234.22 590,234.37 591.32,234.52 592.69,234.67 594.12,234.82 595.6,234.97 597.15,235.12 598.77,235.27 600.45,235.42 602.2,235.56 604.02,235.71 605.92,235.86 607.89,236 609.95,236.15 612.1,236.29 614.34,236.43 616.66,236.58 619.09,236.72 621.61,236.86 624.24,237 626.98,237.15 629.84,237.29 632.81,237.43 635.91,237.57 639.13,237.7 642.49,237.84 645.99,237.98 649.64,238.12 653.43,238.26 657.39,238.39 661.51,238.53 665.8,238.66 670.27,238.8 674.92,238.93" fill="none" stroke="#3030ff" class="dt"/><polyline points="558.64,208.6 558.65,208.86 558.66,209.12 558.67,209.38 558.68,209.63 558.69,209.89 558.71,210.14 558.72,210.39 558.73,210.65 558.75,210.9 558.76,211.15 558.78,211.4 558.8,211.64 558.82,211.89 558.83,212.14 558.85,212.38 558.87,212.63 558.89,212.87 558.91,213.11 558.94,213.35 558.96,213.59 558.98,213.83 559.01,214.07 559.04,214.31 559.06,214.55 559.09,214.78 559.12,215.02 559.15,215.25 559.18,215.48 559.22,215.72 559.25,215.95 559.29,216.18 559.33,216.41 559.37,216.64 559.41,216.86 559.45,217.09 559.5,217.32 559.54,217.54 559.59,217.77 559.64,217.99 559.69,218.21 559.75,218.43 559.81,218.65 559.86,218.87 559.93,219.09 559.99,219.31 560.06,219.53 560.13,219.74 560.2,219.96 560.28,220.18 560.36,220.39 560.44,220.6 560.52,220.82 560.61,221.03 560.71,221.24 560.8,221.45 560.9,221.66 561.01,221.86 561.12,222.07 561.23,222.28 561.35,222.48 561.47,222.69 561.6,222.89 561.74,223.1 561.88,223.3 562.02,223.5 562.18,223.7 562.33,223.9 562.5,224.1 562.67,224.3 562.85,224.5 563.03,224.7 563.23,224.89 563.43,225.09 563.64,225.29 563.86,225.48 564.09,225.67 564.32,225.87 564.57,226.06 564.83,226.25 565.1,226.44 565.38,226.63 565.67,226.82 565.97,227.01 566.29,227.19 566.62,227.38 566.96,227.57 567.32,227.75 567.69,227.94 568.08,228.12 568.48,228.31 568.9,228.49 569.34,228.67 569.79,228.85 570.27,229.03 570.76,229.21 571.28,229.39 571.81,229.57 572.37,229.75 572.96,229.92 573.56,230.1 574.19,230.28 574.85,230.45 575.54,230.63 576.25,230.8 576.99,230.97 577.77,231.14 578.58,231.32 579.42,231.49 580.29,231.66 581.2,231.83 582.15,232 583.14,232.16 584.17,232.33 585.25,232.5 586.36,232.67 587.53,232.83 588.74,233 590,233.16 591.32,233.32 592.69,233.49 594.12,233.65 595.6,233.81 597.15,233.97 598.77,234.13 600.45,234.29 602.2,234.45 604.02,234.61 605.92,234.77 607.89,234.93 609.95,235.09 612.1,235.24 614.34,235.4 616.66,235.55 619.09,235.71 621.61,235.86 624.24,236.02 626.98,236.17 629.84,236.32 632.81,236.47 635.91,236.62 639.13,236.77 642.49,236.92 645.99,237.07 649.64,237.22 653.43,237.37 657.39,237.52 661.51,237.66 665.8,237.81 670.27,237.96 674.92,238.1" fill="none" stroke="#ffa030" class="dt"/><polyline points="558.64,164.81 558.65,165.89 558.66,166.96 558.67,168.01 558.68,169.06 558.69,170.09 558.71,171.11 558.72,172.12 558.73,173.12 558.75,174.11 558.76,175.08 558.78,176.05 558.8,177.01 558.82,177.95 558.83,178.89 558.85,179.81 558.87,180.73 558.89,181.63 558.91,182.53 558.94,183.41 558.96,184.29 558.98,185.15 559.01,186.01 559.04,186.86 559.06,187.69 559.09,188.52 559.12,189.34 559.15,190.15 559.18,190.95 559.22,191.75 559.25,192.53 559.29,193.31 559.33,194.07 559.37,194.83 559.41,195.58 559.45,196.33 559.5,197.06 559.54,197.79 559.59,198.5 559.64,199.21 559.69,199.92 559.75,200.61 559.81,201.3 559.86,201.98 559.93,202.65 559.99,203.32 560.06,203.97 560.13,204.62 560.2,205.27 560.28,205.9 560.36,206.53 560.44,207.16 560.52,207.77 560.61,208.38 560.71,208.98 560.8,209.58 560.9,210.17 561.01,210.75 561.12,211.33 561.23,211.9 561.35,212.46 561.47,213.02 561.6,213.57 561.74,214.11 561.88,214.65 562.02,215.19 562.18,215.71 562.33,216.24 562.5,216.75 562.67,217.26 562.85,217.77 563.03,218.27 563.23,218.76 563.43,219.25 563.64,219.73 563.86,220.21 564.09,220.68 564.32,221.15 564.57,221.61 564.83,222.07 565.1,222.52 565.38,222.97 565.67,223.41 565.97,223.85 566.29,224.28 566.62,224.71 566.96,225.13 567.32,225.55 567.69,225.97 568.08,226.38 568.48,226.78 568.9,227.18 569.34,227.58 569.79,227.97 570.27,228.36 570.76,228.74 571.28,229.12 571.81,229.5 572.37,229.87 572.96,230.24 573.56,230.6 574.19,230.96 574.85,231.31 575.54,231.66 576.25,232.01 576.99,232.35 577.77,232.69 578.58,233.03 579.42,233.36 580.29,233.69 581.2,234.02 582.15,234.34 583.14,234.66 584.17,234.97 585.25,235.28 586.36,235.59 587.53,235.89 588.74,236.2 590,236.49 591.32,236.79 592.69,237.08 594.12,237.37 595.6,237.65 597.15,237.93 598.77,238.21 600.45,238.49 602.2,238.76 604.02,239.03 605.92,239.3 607.89,239.56 609.95,239.82 612.1,240.08 614.34,240.33 616.66,240.59 619.09,240.84 621.61,241.08 624.24,241.33 626.98,241.57 629.84,241.81 632.81,242.05 635.91,242.28 639.13,242.51 642.49,242.74 645.99,242.96 649.64,243.19 653.43,243.41 657.39,243.63 661.51,243.84 665.8,244.06 670.27,244.27 674.92,244.48" fill="none" stroke="#1c951c" class="dt"/></g>
<rect x="552.55" y="160.5" width="128.2" height="88.2" class="sp"/>
<g><text x="556.52" y="258.3" font-size="6.72" textLength="3.72" lengthAdjust="spacingAndGlyphs" fill="#262626">0</text><text x="576.24" y="258.3" font-size="6.72" textLength="15.84" lengthAdjust="spacingAndGlyphs" fill="#262626">1000</text><text x="601.97" y="258.3" font-size="6.72" textLength="15.89" lengthAdjust="spacingAndGlyphs" fill="#262626">2000</text><text x="627.85" y="258.3" font-size="6.72" textLength="15.78" lengthAdjust="spacingAndGlyphs" fill="#262626">3000</text><text x="653.57" y="258.3" font-size="6.72" textLength="15.85" lengthAdjust="spacingAndGlyphs" fill="#262626">4000</text><text x="534.28" y="238.85" font-size="6.72" textLength="13.78" lengthAdjust="spacingAndGlyphs" fill="#262626">0.03</text><text x="534.13" y="225.83" font-size="6.72" textLength="13.83" lengthAdjust="spacingAndGlyphs" fill="#262626">0.04</text><text x="534.33" y="212.81" font-size="6.72" textLength="13.72" lengthAdjust="spacingAndGlyphs" fill="#262626">0.05</text><text x="534.17" y="199.79" font-size="6.72" textLength="13.89" lengthAdjust="spacingAndGlyphs" fill="#262626">0.06</text><text x="534.32" y="186.77" font-size="6.72" textLength="13.79" lengthAdjust="spacingAndGlyphs" fill="#262626">0.07</text><text x="534.21" y="173.75" font-size="6.72" textLength="13.85" lengthAdjust="spacingAndGlyphs" fill="#262626">0.08</text></g>
<text x="567.82" y="157.5" font-size="12.77" textLength="97.79" lengthAdjust="spacingAndGlyphs" fill="#262626">p08 Polysulfides</text>
<g fill="#0173b2"><text x="601.81" y="169.11" font-size="5.78" textLength="15.6" lengthAdjust="spacingAndGlyphs">0.060</text><text x="617.41" y="169.11" font-size="5.78" textLength="3.45" lengthAdjust="spacingAndGlyphs" font-style="italic">n</text><text x="621.12" y="167.03" font-size="4.04" textLength="11.69" lengthAdjust="spacingAndGlyphs">&#8722;0.09</text><text x="634.02" y="169.11" font-size="5.78" textLength="4.57" lengthAdjust="spacingAndGlyphs">+</text><text x="639.65" y="169.11" font-size="5.78" textLength="11.86" lengthAdjust="spacingAndGlyphs">1.20</text><text x="652.57" y="169.11" font-size="5.78" textLength="4.57" lengthAdjust="spacingAndGlyphs">&#215;</text><text x="658.2" y="169.11" font-size="5.78" textLength="6.93" lengthAdjust="spacingAndGlyphs">10</text><text x="665.19" y="167.03" font-size="4.04" textLength="8.05" lengthAdjust="spacingAndGlyphs">&#8722;10</text></g>
<g fill="#de8f05"><text x="601.81" y="177.93" font-size="5.78" textLength="15.6" lengthAdjust="spacingAndGlyphs">0.064</text><text x="617.41" y="177.93" font-size="5.78" textLength="3.45" lengthAdjust="spacingAndGlyphs" font-style="italic">n</text><text x="621.12" y="175.85" font-size="4.04" textLength="11.69" lengthAdjust="spacingAndGlyphs">&#8722;0.09</text><text x="634.02" y="177.93" font-size="5.78" textLength="4.57" lengthAdjust="spacingAndGlyphs">+</text><text x="639.65" y="177.93" font-size="5.78" textLength="12.13" lengthAdjust="spacingAndGlyphs">1.37</text><text x="652.85" y="177.93" font-size="5.78" textLength="4.57" lengthAdjust="spacingAndGlyphs">&#215;</text><text x="658.47" y="177.93" font-size="5.78" textLength="6.93" lengthAdjust="spacingAndGlyphs">10</text><text x="665.46" y="175.85" font-size="4.04" textLength="8.05" lengthAdjust="spacingAndGlyphs">&#8722;14</text></g>
<g fill="#029e73"><text x="603.99" y="186.75" font-size="5.78" textLength="15.6" lengthAdjust="spacingAndGlyphs">0.141</text><text x="619.59" y="186.75" font-size="5.78" textLength="3.45" lengthAdjust="spacingAndGlyphs" font-style="italic">n</text><text x="623.3" y="184.67" font-size="4.04" textLength="11.5" lengthAdjust="spacingAndGlyphs">&#8722;0.27</text><text x="636.01" y="186.75" font-size="5.78" textLength="4.57" lengthAdjust="spacingAndGlyphs">+</text><text x="641.64" y="186.75" font-size="5.78" textLength="12.13" lengthAdjust="spacingAndGlyphs">9.34</text><text x="654.84" y="186.75" font-size="5.78" textLength="4.57" lengthAdjust="spacingAndGlyphs">&#215;</text><text x="660.46" y="186.75" font-size="5.78" textLength="6.93" lengthAdjust="spacingAndGlyphs">10</text><text x="667.45" y="184.67" font-size="4.04" textLength="5.62" lengthAdjust="spacingAndGlyphs">&#8722;3</text></g>
<g clip-path="url(#c8)"><g class="gr"><line x1="77.53" y1="275.3" x2="77.53" y2="363.5"/><line x1="107" y1="275.3" x2="107" y2="363.5"/><line x1="136.48" y1="275.3" x2="136.48" y2="363.5"/><line x1="165.96" y1="275.3" x2="165.96" y2="363.5"/><line x1="195.44" y1="275.3" x2="195.44" y2="363.5"/><line x1="71.7" y1="358.4" x2="199.9" y2="358.4"/><line x1="71.7" y1="338.65" x2="199.9" y2="338.65"/><line x1="71.7" y1="318.9" x2="199.9" y2="318.9"/><line x1="71.7" y1="299.15" x2="199.9" y2="299.15"/><line x1="71.7" y1="279.4" x2="199.9" y2="279.4"/></g><polygon points="77.82,342.6 78.12,344.97 79,346.55 80.47,347.34 83.42,348.52 92.27,350.1 107,351.68 107,354.06 92.27,352.47 83.42,350.89 80.47,349.71 79,348.92 78.12,347.34 77.82,344.97" fill="#0173b2" fill-opacity="0.2"/><polyline points="77.82,343.78 78.12,346.15 79,347.74 80.47,348.52 83.42,349.71 92.27,351.29 107,352.87" fill="none" stroke="#0173b2" stroke-width="1.0"/><g fill="#0173b2" stroke="#fff" stroke-width="0.45"><circle cx="77.82" cy="343.78" r="1.6"/><circle cx="78.12" cy="346.15" r="1.6"/><circle cx="79" cy="347.74" r="1.6"/><circle cx="80.47" cy="348.52" r="1.6"/><circle cx="83.42" cy="349.71" r="1.6"/><circle cx="92.27" cy="351.29" r="1.6"/><circle cx="107" cy="352.87" r="1.6"/></g><polygon points="77.82,345.37 78.12,345.76 79,346.55 80.47,347.34 83.42,348.92 92.27,350.5 107,352.08 107,354.45 92.27,352.87 83.42,351.29 80.47,349.71 79,348.92 78.12,348.13 77.82,347.74" fill="#de8f05" fill-opacity="0.2"/><polyline points="77.82,346.55 78.12,346.94 79,347.74 80.47,348.52 83.42,350.1 92.27,351.68 107,353.26" fill="none" stroke="#de8f05" stroke-width="1.0"/><path d="M76.57 345.3L79.07 347.8M76.57 347.8L79.07 345.3M76.87 345.69L79.37 348.19M76.87 348.19L79.37 345.69M77.75 346.49L80.25 348.99M77.75 348.99L80.25 346.49M79.22 347.27L81.72 349.77M79.22 349.77L81.72 347.27M82.17 348.85L84.67 351.35M82.17 351.35L84.67 348.85M91.02 350.43L93.52 352.93M91.02 352.93L93.52 350.43M105.75 352.01L108.25 354.51M105.75 354.51L108.25 352.01" stroke="#fff" stroke-width="1.6" fill="none"/><path d="M76.57 345.3L79.07 347.8M76.57 347.8L79.07 345.3M76.87 345.69L79.37 348.19M76.87 348.19L79.37 345.69M77.75 346.49L80.25 348.99M77.75 348.99L80.25 346.49M79.22 347.27L81.72 349.77M79.22 349.77L81.72 347.27M82.17 348.85L84.67 351.35M82.17 351.35L84.67 348.85M91.02 350.43L93.52 352.93M91.02 352.93L93.52 350.43M105.75 352.01L108.25 354.51M105.75 354.51L108.25 352.01" stroke="#de8f05" stroke-width="1.0" fill="none"/><polygon points="80.44,326.4 83.35,335.41 89.18,343.23 100.84,348.29 124.15,352.16 170.76,355.63 170.76,359.58 124.15,356.74 100.84,353.5 89.18,349.08 83.35,341.89 80.44,333.51" fill="#029e73" fill-opacity="0.2"/><polyline points="80.44,329.96 83.35,338.65 89.18,346.15 100.84,350.89 124.15,354.45 170.76,357.61" fill="none" stroke="#029e73" stroke-width="1.0"/><g fill="#029e73" stroke="#fff" stroke-width="0.4"><rect x="79.29" y="328.81" width="2.3" height="2.3"/><rect x="82.2" y="337.5" width="2.3" height="2.3"/><rect x="88.03" y="345" width="2.3" height="2.3"/><rect x="99.69" y="349.75" width="2.3" height="2.3"/><rect x="123" y="353.3" width="2.3" height="2.3"/><rect x="169.61" y="356.46" width="2.3" height="2.3"/></g><polyline points="77.82,343.86 77.83,343.95 77.85,344.04 77.86,344.12 77.87,344.21 77.89,344.29 77.9,344.38 77.92,344.46 77.93,344.55 77.95,344.63 77.97,344.72 77.98,344.8 78,344.89 78.02,344.97 78.04,345.06 78.06,345.14 78.09,345.22 78.11,345.31 78.13,345.39 78.16,345.48 78.18,345.56 78.21,345.64 78.24,345.73 78.26,345.81 78.29,345.89 78.33,345.98 78.36,346.06 78.39,346.14 78.43,346.22 78.46,346.31 78.5,346.39 78.54,346.47 78.58,346.55 78.63,346.63 78.67,346.72 78.72,346.8 78.77,346.88 78.82,346.96 78.87,347.04 78.92,347.12 78.98,347.2 79.04,347.28 79.1,347.36 79.16,347.44 79.23,347.52 79.3,347.61 79.37,347.69 79.45,347.77 79.52,347.85 79.61,347.92 79.69,348 79.78,348.08 79.87,348.16 79.97,348.24 80.06,348.32 80.17,348.4 80.28,348.48 80.39,348.56 80.5,348.64 80.62,348.72 80.75,348.79 80.88,348.87 81.02,348.95 81.16,349.03 81.31,349.11 81.46,349.18 81.62,349.26 81.79,349.34 81.96,349.42 82.14,349.49 82.33,349.57 82.52,349.65 82.73,349.72 82.94,349.8 83.16,349.88 83.39,349.95 83.63,350.03 83.87,350.11 84.13,350.18 84.4,350.26 84.68,350.34 84.97,350.41 85.28,350.49 85.59,350.56 85.92,350.64 86.26,350.71 86.61,350.79 86.98,350.86 87.37,350.94 87.77,351.01 88.19,351.09 88.62,351.16 89.07,351.24 89.54,351.31 90.03,351.39 90.54,351.46 91.07,351.53 91.62,351.61 92.19,351.68 92.79,351.75 93.41,351.83 94.05,351.9 94.72,351.97 95.42,352.05 96.15,352.12 96.91,352.19 97.7,352.27 98.52,352.34 99.37,352.41 100.26,352.48 101.18,352.56 102.15,352.63 103.15,352.7 104.19,352.77 105.27,352.85 106.4,352.92 107.58,352.99 108.8,353.06 110.07,353.13 111.39,353.2 112.77,353.27 114.21,353.35 115.7,353.42 117.25,353.49 118.87,353.56 120.55,353.63 122.3,353.7 124.12,353.77 126.01,353.84 127.98,353.91 130.04,353.98 132.17,354.05 134.39,354.12 136.71,354.19 139.11,354.26 141.62,354.33 144.22,354.4 146.94,354.47 149.76,354.54 152.7,354.61 155.76,354.68 158.94,354.74 162.25,354.81 165.69,354.88 169.28,354.95 173.01,355.02 176.89,355.09 180.94,355.15 185.14,355.22 189.52,355.29 194.07,355.36" fill="none" stroke="#3030ff" class="dt"/><polyline points="77.82,343.01 77.83,343.09 77.85,343.18 77.86,343.26 77.87,343.35 77.89,343.44 77.9,343.52 77.92,343.61 77.93,343.69 77.95,343.78 77.97,343.86 77.98,343.95 78,344.03 78.02,344.11 78.04,344.2 78.06,344.28 78.09,344.37 78.11,344.45 78.13,344.54 78.16,344.62 78.18,344.7 78.21,344.79 78.24,344.87 78.26,344.95 78.29,345.04 78.33,345.12 78.36,345.2 78.39,345.28 78.43,345.37 78.46,345.45 78.5,345.53 78.54,345.61 78.58,345.69 78.63,345.78 78.67,345.86 78.72,345.94 78.77,346.02 78.82,346.1 78.87,346.18 78.92,346.26 78.98,346.35 79.04,346.43 79.1,346.51 79.16,346.59 79.23,346.67 79.3,346.75 79.37,346.83 79.45,346.91 79.52,346.99 79.61,347.07 79.69,347.15 79.78,347.23 79.87,347.31 79.97,347.39 80.06,347.46 80.17,347.54 80.28,347.62 80.39,347.7 80.5,347.78 80.62,347.86 80.75,347.94 80.88,348.01 81.02,348.09 81.16,348.17 81.31,348.25 81.46,348.33 81.62,348.4 81.79,348.48 81.96,348.56 82.14,348.64 82.33,348.71 82.52,348.79 82.73,348.87 82.94,348.94 83.16,349.02 83.39,349.1 83.63,349.17 83.87,349.25 84.13,349.33 84.4,349.4 84.68,349.48 84.97,349.55 85.28,349.63 85.59,349.71 85.92,349.78 86.26,349.86 86.61,349.93 86.98,350.01 87.37,350.08 87.77,350.16 88.19,350.23 88.62,350.31 89.07,350.38 89.54,350.45 90.03,350.53 90.54,350.6 91.07,350.68 91.62,350.75 92.19,350.82 92.79,350.9 93.41,350.97 94.05,351.04 94.72,351.12 95.42,351.19 96.15,351.26 96.91,351.34 97.7,351.41 98.52,351.48 99.37,351.56 100.26,351.63 101.18,351.7 102.15,351.77 103.15,351.84 104.19,351.92 105.27,351.99 106.4,352.06 107.58,352.13 108.8,352.2 110.07,352.27 111.39,352.35 112.77,352.42 114.21,352.49 115.7,352.56 117.25,352.63 118.87,352.7 120.55,352.77 122.3,352.84 124.12,352.91 126.01,352.98 127.98,353.05 130.04,353.12 132.17,353.19 134.39,353.26 136.71,353.33 139.11,353.4 141.62,353.47 144.22,353.54 146.94,353.61 149.76,353.68 152.7,353.75 155.76,353.82 158.94,353.89 162.25,353.96 165.69,354.02 169.28,354.09 173.01,354.16 176.89,354.23 180.94,354.3 185.14,354.37 189.52,354.43 194.07,354.5" fill="none" stroke="#ffa030" class="dt"/><polyline points="77.82,277.69 77.83,278.97 77.85,280.23 77.86,281.47 77.87,282.69 77.89,283.89 77.9,285.08 77.92,286.25 77.93,287.4 77.95,288.54 77.97,289.66 77.98,290.77 78,291.86 78.02,292.94 78.04,294 78.06,295.04 78.09,296.07 78.11,297.09 78.13,298.09 78.16,299.08 78.18,300.05 78.21,301.01 78.24,301.96 78.26,302.89 78.29,303.81 78.33,304.72 78.36,305.62 78.39,306.5 78.43,307.37 78.46,308.23 78.5,309.07 78.54,309.91 78.58,310.73 78.63,311.54 78.67,312.34 78.72,313.12 78.77,313.9 78.82,314.67 78.87,315.42 78.92,316.17 78.98,316.9 79.04,317.62 79.1,318.34 79.16,319.04 79.23,319.73 79.3,320.42 79.37,321.09 79.45,321.76 79.52,322.41 79.61,323.06 79.69,323.7 79.78,324.32 79.87,324.94 79.97,325.55 80.06,326.16 80.17,326.75 80.28,327.33 80.39,327.91 80.5,328.48 80.62,329.04 80.75,329.59 80.88,330.14 81.02,330.68 81.16,331.21 81.31,331.73 81.46,332.24 81.62,332.75 81.79,333.25 81.96,333.75 82.14,334.23 82.33,334.71 82.52,335.19 82.73,335.65 82.94,336.11 83.16,336.57 83.39,337.02 83.63,337.46 83.87,337.89 84.13,338.32 84.4,338.74 84.68,339.16 84.97,339.57 85.28,339.97 85.59,340.37 85.92,340.77 86.26,341.16 86.61,341.54 86.98,341.92 87.37,342.29 87.77,342.65 88.19,343.02 88.62,343.37 89.07,343.72 89.54,344.07 90.03,344.41 90.54,344.75 91.07,345.08 91.62,345.41 92.19,345.73 92.79,346.05 93.41,346.37 94.05,346.68 94.72,346.98 95.42,347.28 96.15,347.58 96.91,347.87 97.7,348.16 98.52,348.44 99.37,348.72 100.26,349 101.18,349.27 102.15,349.54 103.15,349.81 104.19,350.07 105.27,350.32 106.4,350.58 107.58,350.83 108.8,351.08 110.07,351.32 111.39,351.56 112.77,351.8 114.21,352.03 115.7,352.26 117.25,352.49 118.87,352.71 120.55,352.93 122.3,353.15 124.12,353.36 126.01,353.57 127.98,353.78 130.04,353.99 132.17,354.19 134.39,354.39 136.71,354.58 139.11,354.78 141.62,354.97 144.22,355.16 146.94,355.34 149.76,355.53 152.7,355.71 155.76,355.89 158.94,356.06 162.25,356.24 165.69,356.41 169.28,356.58 173.01,356.74 176.89,356.91 180.94,357.07 185.14,357.23 189.52,357.38 194.07,357.54" fill="none" stroke="#1c951c" class="dt"/></g>
<rect x="71.7" y="275.3" width="128.2" height="88.2" class="sp"/>
<g><text x="75.67" y="373.1" font-size="6.72" textLength="3.72" lengthAdjust="spacingAndGlyphs" fill="#262626">0</text><text x="99.09" y="373.1" font-size="6.72" textLength="15.84" lengthAdjust="spacingAndGlyphs" fill="#262626">1000</text><text x="128.52" y="373.1" font-size="6.72" textLength="15.89" lengthAdjust="spacingAndGlyphs" fill="#262626">2000</text><text x="158.1" y="373.1" font-size="6.72" textLength="15.78" lengthAdjust="spacingAndGlyphs" fill="#262626">3000</text><text x="187.51" y="373.1" font-size="6.72" textLength="15.85" lengthAdjust="spacingAndGlyphs" fill="#262626">4000</text><text x="49.31" y="360.75" font-size="6.72" textLength="17.87" lengthAdjust="spacingAndGlyphs" fill="#262626">0.010</text><text x="49.44" y="341" font-size="6.72" textLength="17.75" lengthAdjust="spacingAndGlyphs" fill="#262626">0.015</text><text x="49.31" y="321.25" font-size="6.72" textLength="17.87" lengthAdjust="spacingAndGlyphs" fill="#262626">0.020</text><text x="49.44" y="301.5" font-size="6.72" textLength="17.75" lengthAdjust="spacingAndGlyphs" fill="#262626">0.025</text><text x="49.31" y="281.75" font-size="6.72" textLength="17.87" lengthAdjust="spacingAndGlyphs" fill="#262626">0.030</text></g>
<text x="91.53" y="272.3" font-size="12.77" textLength="88.66" lengthAdjust="spacingAndGlyphs" fill="#262626">p09 Polyesters</text>
<g fill="#0173b2"><text x="120.96" y="283.91" font-size="5.78" textLength="15.6" lengthAdjust="spacingAndGlyphs">0.015</text><text x="136.56" y="283.91" font-size="5.78" textLength="3.45" lengthAdjust="spacingAndGlyphs" font-style="italic">n</text><text x="140.27" y="281.83" font-size="4.04" textLength="11.69" lengthAdjust="spacingAndGlyphs">&#8722;0.04</text><text x="153.17" y="283.91" font-size="5.78" textLength="4.57" lengthAdjust="spacingAndGlyphs">+</text><text x="158.8" y="283.91" font-size="5.78" textLength="12.13" lengthAdjust="spacingAndGlyphs">3.53</text><text x="172" y="283.91" font-size="5.78" textLength="4.57" lengthAdjust="spacingAndGlyphs">&#215;</text><text x="177.62" y="283.91" font-size="5.78" textLength="6.93" lengthAdjust="spacingAndGlyphs">10</text><text x="184.61" y="281.83" font-size="4.04" textLength="8.05" lengthAdjust="spacingAndGlyphs">&#8722;12</text></g>
<g fill="#de8f05"><text x="123.14" y="292.73" font-size="5.78" textLength="15.6" lengthAdjust="spacingAndGlyphs">0.015</text><text x="138.74" y="292.73" font-size="5.78" textLength="3.45" lengthAdjust="spacingAndGlyphs" font-style="italic">n</text><text x="142.45" y="290.65" font-size="4.04" textLength="11.69" lengthAdjust="spacingAndGlyphs">&#8722;0.04</text><text x="155.35" y="292.73" font-size="5.78" textLength="4.57" lengthAdjust="spacingAndGlyphs">+</text><text x="160.98" y="292.73" font-size="5.78" textLength="12.13" lengthAdjust="spacingAndGlyphs">2.17</text><text x="174.18" y="292.73" font-size="5.78" textLength="4.57" lengthAdjust="spacingAndGlyphs">&#215;</text><text x="179.8" y="292.73" font-size="5.78" textLength="6.93" lengthAdjust="spacingAndGlyphs">10</text><text x="186.79" y="290.65" font-size="4.04" textLength="5.62" lengthAdjust="spacingAndGlyphs">&#8722;4</text></g>
<g fill="#029e73"><text x="123.14" y="301.55" font-size="5.78" textLength="15.6" lengthAdjust="spacingAndGlyphs">0.052</text><text x="138.74" y="301.55" font-size="5.78" textLength="3.45" lengthAdjust="spacingAndGlyphs" font-style="italic">n</text><text x="142.45" y="299.47" font-size="4.04" textLength="11.69" lengthAdjust="spacingAndGlyphs">&#8722;0.32</text><text x="155.35" y="301.55" font-size="5.78" textLength="4.57" lengthAdjust="spacingAndGlyphs">+</text><text x="160.98" y="301.55" font-size="5.78" textLength="12.13" lengthAdjust="spacingAndGlyphs">7.47</text><text x="174.18" y="301.55" font-size="5.78" textLength="4.57" lengthAdjust="spacingAndGlyphs">&#215;</text><text x="179.8" y="301.55" font-size="5.78" textLength="6.93" lengthAdjust="spacingAndGlyphs">10</text><text x="186.79" y="299.47" font-size="4.04" textLength="5.62" lengthAdjust="spacingAndGlyphs">&#8722;3</text></g>
<g clip-path="url(#c9)"><g class="gr"><line x1="237.88" y1="275.3" x2="237.88" y2="363.5"/><line x1="256.66" y1="275.3" x2="256.66" y2="363.5"/><line x1="275.44" y1="275.3" x2="275.44" y2="363.5"/><line x1="294.22" y1="275.3" x2="294.22" y2="363.5"/><line x1="313.01" y1="275.3" x2="313.01" y2="363.5"/><line x1="331.79" y1="275.3" x2="331.79" y2="363.5"/><line x1="350.57" y1="275.3" x2="350.57" y2="363.5"/><line x1="232.05" y1="355.5" x2="360.25" y2="355.5"/><line x1="232.05" y1="342.32" x2="360.25" y2="342.32"/><line x1="232.05" y1="329.13" x2="360.25" y2="329.13"/><line x1="232.05" y1="315.95" x2="360.25" y2="315.95"/><line x1="232.05" y1="302.77" x2="360.25" y2="302.77"/><line x1="232.05" y1="289.58" x2="360.25" y2="289.58"/><line x1="232.05" y1="276.4" x2="360.25" y2="276.4"/></g><polygon points="238.25,292.75 238.63,326.5 239.76,335.46 241.63,337.29 245.39,338.59 256.66,340.49 275.44,341.79 275.44,348.12 256.66,347.31 245.39,346.05 241.63,345.24 239.76,343.9 238.63,342.32 238.25,356.03" fill="#0173b2" fill-opacity="0.2"/><polyline points="238.25,319.11 238.63,334.41 239.76,339.68 241.63,341.26 245.39,342.32 256.66,343.9 275.44,344.95" fill="none" stroke="#0173b2" stroke-width="1.0"/><g fill="#0173b2" stroke="#fff" stroke-width="0.45"><circle cx="238.25" cy="319.11" r="1.6"/><circle cx="238.63" cy="334.41" r="1.6"/><circle cx="239.76" cy="339.68" r="1.6"/><circle cx="241.63" cy="341.26" r="1.6"/><circle cx="245.39" cy="342.32" r="1.6"/><circle cx="256.66" cy="343.9" r="1.6"/><circle cx="275.44" cy="344.95" r="1.6"/></g><polygon points="238.25,335.99 238.63,336.52 239.76,337.04 241.63,338.1 245.39,339.15 256.66,340.73 275.44,342.32 275.44,349.7 256.66,348.12 245.39,346.54 241.63,345.48 239.76,344.43 238.63,343.9 238.25,343.37" fill="#de8f05" fill-opacity="0.2"/><polyline points="238.25,339.68 238.63,340.21 239.76,340.73 241.63,341.79 245.39,342.84 256.66,344.43 275.44,346.01" fill="none" stroke="#de8f05" stroke-width="1.0"/><path d="M237 338.43L239.5 340.93M237 340.93L239.5 338.43M237.38 338.96L239.88 341.46M237.38 341.46L239.88 338.96M238.51 339.48L241.01 341.98M238.51 341.98L241.01 339.48M240.38 340.54L242.88 343.04M240.38 343.04L242.88 340.54M244.14 341.59L246.64 344.09M244.14 344.09L246.64 341.59M255.41 343.18L257.91 345.68M255.41 345.68L257.91 343.18M274.19 344.76L276.69 347.26M274.19 347.26L276.69 344.76" stroke="#fff" stroke-width="1.6" fill="none"/><path d="M237 338.43L239.5 340.93M237 340.93L239.5 338.43M237.38 338.96L239.88 341.46M237.38 341.46L239.88 338.96M238.51 339.48L241.01 341.98M238.51 341.98L241.01 339.48M240.38 340.54L242.88 343.04M240.38 343.04L242.88 340.54M244.14 341.59L246.64 344.09M244.14 344.09L246.64 341.59M255.41 343.18L257.91 345.68M255.41 345.68L257.91 343.18M274.19 344.76L276.69 347.26M274.19 347.26L276.69 344.76" stroke="#de8f05" stroke-width="1.0" fill="none"/><polygon points="240.79,309.83 243.7,318.59 249.53,325.49 261.19,331.08 284.5,335.73 331.11,339.52 331.11,359.56 284.5,355.76 261.19,351.12 249.53,345.53 243.7,338.63 240.79,329.87" fill="#029e73" fill-opacity="0.2"/><polyline points="240.79,319.85 243.7,328.61 249.53,335.51 261.19,341.1 284.5,345.74 331.11,349.54" fill="none" stroke="#029e73" stroke-width="1.0"/><g fill="#029e73" stroke="#fff" stroke-width="0.4"><rect x="239.64" y="318.7" width="2.3" height="2.3"/><rect x="242.55" y="327.46" width="2.3" height="2.3"/><rect x="248.38" y="334.36" width="2.3" height="2.3"/><rect x="260.04" y="339.95" width="2.3" height="2.3"/><rect x="283.35" y="344.59" width="2.3" height="2.3"/><rect x="329.96" y="348.39" width="2.3" height="2.3"/></g><polyline points="238.25,286.42 238.27,288.66 238.28,290.81 238.3,292.88 238.32,294.87 238.33,296.79 238.35,298.64 238.37,300.42 238.39,302.13 238.41,303.77 238.43,305.36 238.45,306.88 238.47,308.35 238.49,309.77 238.52,311.13 238.54,312.43 238.57,313.69 238.6,314.91 238.63,316.07 238.65,317.2 238.68,318.28 238.72,319.32 238.75,320.32 238.78,321.28 238.82,322.21 238.85,323.11 238.89,323.97 238.93,324.79 238.97,325.59 239.02,326.35 239.06,327.09 239.11,327.8 239.15,328.49 239.2,329.14 239.26,329.78 239.31,330.39 239.37,330.97 239.42,331.54 239.48,332.08 239.55,332.6 239.61,333.1 239.68,333.59 239.75,334.05 239.82,334.5 239.9,334.94 239.98,335.35 240.06,335.75 240.14,336.14 240.23,336.51 240.32,336.86 240.42,337.21 240.52,337.54 240.62,337.85 240.73,338.16 240.84,338.45 240.96,338.74 241.08,339.01 241.2,339.27 241.33,339.53 241.47,339.77 241.61,340 241.75,340.23 241.9,340.45 242.06,340.65 242.22,340.86 242.39,341.05 242.57,341.23 242.75,341.41 242.94,341.59 243.14,341.75 243.34,341.91 243.56,342.07 243.78,342.21 244.01,342.36 244.25,342.49 244.49,342.62 244.75,342.75 245.02,342.87 245.3,342.99 245.59,343.1 245.89,343.21 246.2,343.32 246.53,343.42 246.86,343.52 247.21,343.61 247.58,343.7 247.96,343.79 248.35,343.87 248.76,343.95 249.18,344.03 249.62,344.1 250.08,344.17 250.55,344.24 251.05,344.31 251.56,344.37 252.1,344.43 252.65,344.49 253.23,344.55 253.83,344.6 254.45,344.66 255.09,344.71 255.76,344.76 256.46,344.8 257.19,344.85 257.94,344.89 258.72,344.93 259.53,344.97 260.38,345.01 261.26,345.05 262.17,345.09 263.11,345.12 264.1,345.15 265.12,345.19 266.18,345.22 267.29,345.25 268.43,345.28 269.62,345.3 270.86,345.33 272.15,345.35 273.48,345.38 274.87,345.4 276.32,345.43 277.81,345.45 279.37,345.47 280.99,345.49 282.67,345.51 284.42,345.53 286.23,345.55 288.12,345.56 290.08,345.58 292.11,345.6 294.23,345.61 296.42,345.63 298.7,345.64 301.08,345.65 303.54,345.67 306.1,345.68 308.76,345.69 311.52,345.7 314.4,345.72 317.38,345.73 320.48,345.74 323.7,345.75 327.05,345.76 330.52,345.77 334.14,345.78 337.89,345.78 341.79,345.79 345.84,345.8 350.05,345.81 354.42,345.82" fill="none" stroke="#3030ff" class="dt"/><polyline points="238.25,338.28 238.27,338.34 238.28,338.4 238.3,338.46 238.32,338.51 238.33,338.57 238.35,338.63 238.37,338.69 238.39,338.74 238.41,338.8 238.43,338.86 238.45,338.92 238.47,338.97 238.49,339.03 238.52,339.09 238.54,339.15 238.57,339.2 238.6,339.26 238.63,339.32 238.65,339.37 238.68,339.43 238.72,339.49 238.75,339.54 238.78,339.6 238.82,339.66 238.85,339.71 238.89,339.77 238.93,339.83 238.97,339.88 239.02,339.94 239.06,340 239.11,340.05 239.15,340.11 239.2,340.17 239.26,340.22 239.31,340.28 239.37,340.34 239.42,340.39 239.48,340.45 239.55,340.5 239.61,340.56 239.68,340.62 239.75,340.67 239.82,340.73 239.9,340.78 239.98,340.84 240.06,340.9 240.14,340.95 240.23,341.01 240.32,341.06 240.42,341.12 240.52,341.17 240.62,341.23 240.73,341.28 240.84,341.34 240.96,341.4 241.08,341.45 241.2,341.51 241.33,341.56 241.47,341.62 241.61,341.67 241.75,341.73 241.9,341.78 242.06,341.84 242.22,341.89 242.39,341.95 242.57,342 242.75,342.06 242.94,342.11 243.14,342.17 243.34,342.22 243.56,342.28 243.78,342.33 244.01,342.39 244.25,342.44 244.49,342.5 244.75,342.55 245.02,342.6 245.3,342.66 245.59,342.71 245.89,342.77 246.2,342.82 246.53,342.88 246.86,342.93 247.21,342.98 247.58,343.04 247.96,343.09 248.35,343.15 248.76,343.2 249.18,343.26 249.62,343.31 250.08,343.36 250.55,343.42 251.05,343.47 251.56,343.52 252.1,343.58 252.65,343.63 253.23,343.69 253.83,343.74 254.45,343.79 255.09,343.85 255.76,343.9 256.46,343.95 257.19,344.01 257.94,344.06 258.72,344.11 259.53,344.17 260.38,344.22 261.26,344.27 262.17,344.33 263.11,344.38 264.1,344.43 265.12,344.49 266.18,344.54 267.29,344.59 268.43,344.64 269.62,344.7 270.86,344.75 272.15,344.8 273.48,344.86 274.87,344.91 276.32,344.96 277.81,345.01 279.37,345.07 280.99,345.12 282.67,345.17 284.42,345.22 286.23,345.28 288.12,345.33 290.08,345.38 292.11,345.43 294.23,345.49 296.42,345.54 298.7,345.59 301.08,345.64 303.54,345.7 306.1,345.75 308.76,345.8 311.52,345.85 314.4,345.9 317.38,345.96 320.48,346.01 323.7,346.06 327.05,346.11 330.52,346.16 334.14,346.21 337.89,346.27 341.79,346.32 345.84,346.37 350.05,346.42 354.42,346.47" fill="none" stroke="#ffa030" class="dt"/><polyline points="238.25,279.76 238.27,280.77 238.28,281.76 238.3,282.74 238.32,283.71 238.33,284.67 238.35,285.61 238.37,286.55 238.39,287.47 238.41,288.39 238.43,289.29 238.45,290.18 238.47,291.06 238.49,291.94 238.52,292.8 238.54,293.65 238.57,294.49 238.6,295.32 238.63,296.14 238.65,296.95 238.68,297.75 238.72,298.55 238.75,299.33 238.78,300.1 238.82,300.87 238.85,301.63 238.89,302.37 238.93,303.11 238.97,303.84 239.02,304.56 239.06,305.27 239.11,305.98 239.15,306.67 239.2,307.36 239.26,308.04 239.31,308.71 239.37,309.37 239.42,310.03 239.48,310.68 239.55,311.32 239.61,311.95 239.68,312.58 239.75,313.19 239.82,313.8 239.9,314.41 239.98,315 240.06,315.59 240.14,316.18 240.23,316.75 240.32,317.32 240.42,317.88 240.52,318.44 240.62,318.99 240.73,319.53 240.84,320.06 240.96,320.59 241.08,321.12 241.2,321.63 241.33,322.14 241.47,322.65 241.61,323.15 241.75,323.64 241.9,324.13 242.06,324.61 242.22,325.09 242.39,325.56 242.57,326.02 242.75,326.48 242.94,326.94 243.14,327.38 243.34,327.83 243.56,328.27 243.78,328.7 244.01,329.13 244.25,329.55 244.49,329.97 244.75,330.38 245.02,330.79 245.3,331.19 245.59,331.59 245.89,331.98 246.2,332.37 246.53,332.76 246.86,333.14 247.21,333.51 247.58,333.88 247.96,334.25 248.35,334.61 248.76,334.97 249.18,335.32 249.62,335.67 250.08,336.02 250.55,336.36 251.05,336.7 251.56,337.03 252.1,337.36 252.65,337.69 253.23,338.01 253.83,338.33 254.45,338.64 255.09,338.95 255.76,339.26 256.46,339.56 257.19,339.86 257.94,340.16 258.72,340.45 259.53,340.74 260.38,341.03 261.26,341.31 262.17,341.59 263.11,341.86 264.1,342.14 265.12,342.41 266.18,342.67 267.29,342.93 268.43,343.19 269.62,343.45 270.86,343.71 272.15,343.96 273.48,344.2 274.87,344.45 276.32,344.69 277.81,344.93 279.37,345.17 280.99,345.4 282.67,345.63 284.42,345.86 286.23,346.09 288.12,346.31 290.08,346.53 292.11,346.75 294.23,346.96 296.42,347.17 298.7,347.38 301.08,347.59 303.54,347.8 306.1,348 308.76,348.2 311.52,348.4 314.4,348.59 317.38,348.79 320.48,348.98 323.7,349.17 327.05,349.35 330.52,349.54 334.14,349.72 337.89,349.9 341.79,350.08 345.84,350.25 350.05,350.43 354.42,350.6" fill="none" stroke="#1c951c" class="dt"/></g>
<rect x="232.05" y="275.3" width="128.2" height="88.2" class="sp"/>
<g><text x="236.02" y="373.1" font-size="6.72" textLength="3.72" lengthAdjust="spacingAndGlyphs" fill="#262626">0</text><text x="250.82" y="373.1" font-size="6.72" textLength="11.75" lengthAdjust="spacingAndGlyphs" fill="#262626">500</text><text x="267.53" y="373.1" font-size="6.72" textLength="15.84" lengthAdjust="spacingAndGlyphs" fill="#262626">1000</text><text x="286.31" y="373.1" font-size="6.72" textLength="15.84" lengthAdjust="spacingAndGlyphs" fill="#262626">1500</text><text x="305.05" y="373.1" font-size="6.72" textLength="15.89" lengthAdjust="spacingAndGlyphs" fill="#262626">2000</text><text x="323.83" y="373.1" font-size="6.72" textLength="15.89" lengthAdjust="spacingAndGlyphs" fill="#262626">2500</text><text x="342.72" y="373.1" font-size="6.72" textLength="15.78" lengthAdjust="spacingAndGlyphs" fill="#262626">3000</text><text x="205.76" y="357.85" font-size="6.72" textLength="21.79" lengthAdjust="spacingAndGlyphs" fill="#262626">0.0125</text><text x="205.63" y="344.67" font-size="6.72" textLength="21.9" lengthAdjust="spacingAndGlyphs" fill="#262626">0.0150</text><text x="205.76" y="331.48" font-size="6.72" textLength="21.79" lengthAdjust="spacingAndGlyphs" fill="#262626">0.0175</text><text x="205.63" y="318.3" font-size="6.72" textLength="21.9" lengthAdjust="spacingAndGlyphs" fill="#262626">0.0200</text><text x="205.76" y="305.12" font-size="6.72" textLength="21.79" lengthAdjust="spacingAndGlyphs" fill="#262626">0.0225</text><text x="205.63" y="291.93" font-size="6.72" textLength="21.9" lengthAdjust="spacingAndGlyphs" fill="#262626">0.0250</text><text x="205.76" y="278.75" font-size="6.72" textLength="21.79" lengthAdjust="spacingAndGlyphs" fill="#262626">0.0275</text></g>
<text x="248.51" y="272.3" font-size="12.77" textLength="95.41" lengthAdjust="spacingAndGlyphs" fill="#262626">p10 Polyamides</text>
<g fill="#0173b2"><text x="283.49" y="283.91" font-size="5.78" textLength="15.6" lengthAdjust="spacingAndGlyphs">0.113</text><text x="299.09" y="283.91" font-size="5.78" textLength="3.45" lengthAdjust="spacingAndGlyphs" font-style="italic">n</text><text x="302.8" y="281.83" font-size="4.04" textLength="11.69" lengthAdjust="spacingAndGlyphs">&#8722;1.00</text><text x="315.7" y="283.91" font-size="5.78" textLength="4.57" lengthAdjust="spacingAndGlyphs">+</text><text x="321.33" y="283.91" font-size="5.78" textLength="12.13" lengthAdjust="spacingAndGlyphs">1.43</text><text x="334.53" y="283.91" font-size="5.78" textLength="4.57" lengthAdjust="spacingAndGlyphs">&#215;</text><text x="340.15" y="283.91" font-size="5.78" textLength="6.93" lengthAdjust="spacingAndGlyphs">10</text><text x="347.14" y="281.83" font-size="4.04" textLength="5.62" lengthAdjust="spacingAndGlyphs">&#8722;2</text></g>
<g fill="#de8f05"><text x="283.49" y="292.73" font-size="5.78" textLength="15.6" lengthAdjust="spacingAndGlyphs">0.015</text><text x="299.09" y="292.73" font-size="5.78" textLength="3.45" lengthAdjust="spacingAndGlyphs" font-style="italic">n</text><text x="302.8" y="290.65" font-size="4.04" textLength="11.69" lengthAdjust="spacingAndGlyphs">&#8722;0.02</text><text x="315.7" y="292.73" font-size="5.78" textLength="4.57" lengthAdjust="spacingAndGlyphs">+</text><text x="321.33" y="292.73" font-size="5.78" textLength="12.13" lengthAdjust="spacingAndGlyphs">1.44</text><text x="334.53" y="292.73" font-size="5.78" textLength="4.57" lengthAdjust="spacingAndGlyphs">&#215;</text><text x="340.15" y="292.73" font-size="5.78" textLength="6.93" lengthAdjust="spacingAndGlyphs">10</text><text x="347.14" y="290.65" font-size="4.04" textLength="5.62" lengthAdjust="spacingAndGlyphs">&#8722;3</text></g>
<g fill="#029e73"><text x="283.49" y="301.55" font-size="5.78" textLength="15.6" lengthAdjust="spacingAndGlyphs">0.033</text><text x="299.09" y="301.55" font-size="5.78" textLength="3.45" lengthAdjust="spacingAndGlyphs" font-style="italic">n</text><text x="302.8" y="299.47" font-size="4.04" textLength="11.69" lengthAdjust="spacingAndGlyphs">&#8722;0.31</text><text x="315.7" y="301.55" font-size="5.78" textLength="4.57" lengthAdjust="spacingAndGlyphs">+</text><text x="321.33" y="301.55" font-size="5.78" textLength="12.13" lengthAdjust="spacingAndGlyphs">1.07</text><text x="334.53" y="301.55" font-size="5.78" textLength="4.57" lengthAdjust="spacingAndGlyphs">&#215;</text><text x="340.15" y="301.55" font-size="5.78" textLength="6.93" lengthAdjust="spacingAndGlyphs">10</text><text x="347.14" y="299.47" font-size="4.04" textLength="5.62" lengthAdjust="spacingAndGlyphs">&#8722;2</text></g>
<g clip-path="url(#c10)"><g class="gr"><line x1="398.13" y1="275.3" x2="398.13" y2="363.5"/><line x1="420.6" y1="275.3" x2="420.6" y2="363.5"/><line x1="443.08" y1="275.3" x2="443.08" y2="363.5"/><line x1="465.56" y1="275.3" x2="465.56" y2="363.5"/><line x1="488.04" y1="275.3" x2="488.04" y2="363.5"/><line x1="510.51" y1="275.3" x2="510.51" y2="363.5"/><line x1="392.3" y1="353.6" x2="520.5" y2="353.6"/><line x1="392.3" y1="339.58" x2="520.5" y2="339.58"/><line x1="392.3" y1="325.56" x2="520.5" y2="325.56"/><line x1="392.3" y1="311.54" x2="520.5" y2="311.54"/><line x1="392.3" y1="297.52" x2="520.5" y2="297.52"/><line x1="392.3" y1="283.5" x2="520.5" y2="283.5"/></g><polygon points="398.58,332.85 399.03,336.78 400.38,340.14 402.62,342.38 407.12,345.75 420.6,350.24 443.08,353.04 443.08,358.65 420.6,355.84 407.12,351.36 402.62,347.99 400.38,345.75 399.03,342.38 398.58,338.46" fill="#0173b2" fill-opacity="0.2"/><polyline points="398.58,335.65 399.03,339.58 400.38,342.94 402.62,345.19 407.12,348.55 420.6,353.04 443.08,355.84" fill="none" stroke="#0173b2" stroke-width="1.0"/><g fill="#0173b2" stroke="#fff" stroke-width="0.45"><circle cx="398.58" cy="335.65" r="1.6"/><circle cx="399.03" cy="339.58" r="1.6"/><circle cx="400.38" cy="342.94" r="1.6"/><circle cx="402.62" cy="345.19" r="1.6"/><circle cx="407.12" cy="348.55" r="1.6"/><circle cx="420.6" cy="353.04" r="1.6"/><circle cx="443.08" cy="355.84" r="1.6"/></g><polygon points="398.58,319.39 399.03,324.44 400.38,330.05 402.62,334.53 407.12,340.7 420.6,345.75 443.08,348.55 443.08,357.53 420.6,354.72 407.12,349.67 402.62,343.51 400.38,339.02 399.03,333.41 398.58,328.36" fill="#de8f05" fill-opacity="0.2"/><polyline points="398.58,323.88 399.03,328.92 400.38,334.53 402.62,339.02 407.12,345.19 420.6,350.24 443.08,353.04" fill="none" stroke="#de8f05" stroke-width="1.0"/><path d="M397.33 322.63L399.83 325.13M397.33 325.13L399.83 322.63M397.78 327.67L400.28 330.17M397.78 330.17L400.28 327.67M399.13 333.28L401.63 335.78M399.13 335.78L401.63 333.28M401.37 337.77L403.87 340.27M401.37 340.27L403.87 337.77M405.87 343.94L408.37 346.44M405.87 346.44L408.37 343.94M419.35 348.99L421.85 351.49M419.35 351.49L421.85 348.99M441.83 351.79L444.33 354.29M441.83 354.29L444.33 351.79" stroke="#fff" stroke-width="1.6" fill="none"/><path d="M397.33 322.63L399.83 325.13M397.33 325.13L399.83 322.63M397.78 327.67L400.28 330.17M397.78 330.17L400.28 327.67M399.13 333.28L401.63 335.78M399.13 335.78L401.63 333.28M401.37 337.77L403.87 340.27M401.37 340.27L403.87 337.77M405.87 343.94L408.37 346.44M405.87 346.44L408.37 343.94M419.35 348.99L421.85 351.49M419.35 351.49L421.85 348.99M441.83 351.79L444.33 354.29M441.83 354.29L444.33 351.79" stroke="#de8f05" stroke-width="1.0" fill="none"/><polygon points="401.04,318.83 403.95,330.89 409.78,335.65 421.44,340.42 444.75,347.99 491.36,353.6 491.36,358.65 444.75,355.28 421.44,350.8 409.78,346.87 403.95,340.98 401.04,327.8" fill="#029e73" fill-opacity="0.2"/><polyline points="401.04,323.32 403.95,336.78 409.78,342.94 421.44,347.43 444.75,352.48 491.36,356.4" fill="none" stroke="#029e73" stroke-width="1.0"/><g fill="#029e73" stroke="#fff" stroke-width="0.4"><rect x="399.89" y="322.17" width="2.3" height="2.3"/><rect x="402.8" y="335.63" width="2.3" height="2.3"/><rect x="408.63" y="341.79" width="2.3" height="2.3"/><rect x="420.29" y="346.28" width="2.3" height="2.3"/><rect x="443.6" y="351.33" width="2.3" height="2.3"/><rect x="490.21" y="355.25" width="2.3" height="2.3"/></g><polyline points="398.58,332.9 398.59,333.13 398.61,333.36 398.63,333.59 398.65,333.81 398.67,334.04 398.69,334.27 398.71,334.49 398.73,334.72 398.75,334.94 398.78,335.16 398.8,335.38 398.83,335.6 398.85,335.82 398.88,336.04 398.91,336.26 398.94,336.47 398.97,336.69 399,336.9 399.04,337.12 399.07,337.33 399.11,337.54 399.14,337.75 399.18,337.96 399.22,338.17 399.26,338.38 399.31,338.59 399.35,338.8 399.4,339 399.44,339.21 399.49,339.41 399.55,339.62 399.6,339.82 399.65,340.02 399.71,340.22 399.77,340.42 399.83,340.62 399.9,340.82 399.96,341.02 400.03,341.22 400.11,341.41 400.18,341.61 400.26,341.8 400.34,342 400.42,342.19 400.51,342.38 400.6,342.57 400.69,342.77 400.79,342.96 400.89,343.14 400.99,343.33 401.1,343.52 401.21,343.71 401.33,343.89 401.45,344.08 401.58,344.26 401.71,344.45 401.84,344.63 401.98,344.81 402.13,345 402.28,345.18 402.44,345.36 402.6,345.54 402.77,345.72 402.94,345.89 403.12,346.07 403.31,346.25 403.51,346.42 403.71,346.6 403.92,346.77 404.14,346.95 404.37,347.12 404.6,347.29 404.85,347.46 405.1,347.63 405.37,347.8 405.64,347.97 405.92,348.14 406.22,348.31 406.52,348.48 406.84,348.65 407.17,348.81 407.51,348.98 407.86,349.14 408.23,349.31 408.61,349.47 409.01,349.63 409.42,349.79 409.84,349.96 410.29,350.12 410.75,350.28 411.22,350.44 411.72,350.6 412.23,350.75 412.76,350.91 413.31,351.07 413.89,351.22 414.48,351.38 415.1,351.53 415.74,351.69 416.41,351.84 417.09,352 417.81,352.15 418.55,352.3 419.32,352.45 420.13,352.6 420.96,352.75 421.82,352.9 422.71,353.05 423.64,353.2 424.6,353.35 425.6,353.49 426.64,353.64 427.71,353.79 428.83,353.93 429.99,354.08 431.19,354.22 432.44,354.36 433.74,354.51 435.08,354.65 436.48,354.79 437.92,354.93 439.43,355.07 440.98,355.21 442.6,355.35 444.28,355.49 446.02,355.63 447.83,355.77 449.71,355.9 451.65,356.04 453.67,356.18 455.77,356.31 457.95,356.45 460.21,356.58 462.55,356.71 464.98,356.85 467.5,356.98 470.12,357.11 472.84,357.24 475.66,357.38 478.59,357.51 481.62,357.64 484.78,357.77 488.05,357.9 491.44,358.02 494.96,358.15 498.62,358.28 502.41,358.41 506.35,358.53 510.43,358.66 514.67,358.78" fill="none" stroke="#3030ff" class="dt"/><polyline points="398.58,323.62 398.59,323.92 398.61,324.22 398.63,324.52 398.65,324.82 398.67,325.12 398.69,325.42 398.71,325.72 398.73,326.02 398.75,326.31 398.78,326.61 398.8,326.9 398.83,327.19 398.85,327.48 398.88,327.77 398.91,328.06 398.94,328.35 398.97,328.64 399,328.93 399.04,329.21 399.07,329.5 399.11,329.78 399.14,330.07 399.18,330.35 399.22,330.63 399.26,330.91 399.31,331.19 399.35,331.47 399.4,331.74 399.44,332.02 399.49,332.3 399.55,332.57 399.6,332.84 399.65,333.12 399.71,333.39 399.77,333.66 399.83,333.93 399.9,334.2 399.96,334.47 400.03,334.73 400.11,335 400.18,335.27 400.26,335.53 400.34,335.79 400.42,336.06 400.51,336.32 400.6,336.58 400.69,336.84 400.79,337.1 400.89,337.36 400.99,337.62 401.1,337.87 401.21,338.13 401.33,338.39 401.45,338.64 401.58,338.89 401.71,339.15 401.84,339.4 401.98,339.65 402.13,339.9 402.28,340.15 402.44,340.4 402.6,340.64 402.77,340.89 402.94,341.14 403.12,341.38 403.31,341.63 403.51,341.87 403.71,342.11 403.92,342.35 404.14,342.6 404.37,342.84 404.6,343.08 404.85,343.31 405.1,343.55 405.37,343.79 405.64,344.03 405.92,344.26 406.22,344.5 406.52,344.73 406.84,344.96 407.17,345.2 407.51,345.43 407.86,345.66 408.23,345.89 408.61,346.12 409.01,346.35 409.42,346.57 409.84,346.8 410.29,347.03 410.75,347.25 411.22,347.48 411.72,347.7 412.23,347.93 412.76,348.15 413.31,348.37 413.89,348.59 414.48,348.81 415.1,349.03 415.74,349.25 416.41,349.47 417.09,349.69 417.81,349.9 418.55,350.12 419.32,350.33 420.13,350.55 420.96,350.76 421.82,350.97 422.71,351.19 423.64,351.4 424.6,351.61 425.6,351.82 426.64,352.03 427.71,352.24 428.83,352.45 429.99,352.65 431.19,352.86 432.44,353.07 433.74,353.27 435.08,353.48 436.48,353.68 437.92,353.89 439.43,354.09 440.98,354.29 442.6,354.49 444.28,354.69 446.02,354.89 447.83,355.09 449.71,355.29 451.65,355.49 453.67,355.69 455.77,355.88 457.95,356.08 460.21,356.27 462.55,356.47 464.98,356.66 467.5,356.86 470.12,357.05 472.84,357.24 475.66,357.43 478.59,357.62 481.62,357.81 484.78,358 488.05,358.19 491.44,358.38 494.96,358.57 498.62,358.76 502.41,358.94 506.35,359.13 510.43,359.31 514.67,359.5" fill="none" stroke="#ffa030" class="dt"/><polyline points="398.58,279.68 398.59,280.88 398.61,282.06 398.63,283.23 398.65,284.39 398.67,285.52 398.69,286.65 398.71,287.75 398.73,288.85 398.75,289.93 398.78,290.99 398.8,292.04 398.83,293.08 398.85,294.1 398.88,295.11 398.91,296.1 398.94,297.09 398.97,298.06 399,299.01 399.04,299.96 399.07,300.89 399.11,301.81 399.14,302.72 399.18,303.61 399.22,304.49 399.26,305.36 399.31,306.22 399.35,307.07 399.4,307.91 399.44,308.74 399.49,309.55 399.55,310.36 399.6,311.15 399.65,311.93 399.71,312.71 399.77,313.47 399.83,314.22 399.9,314.96 399.96,315.7 400.03,316.42 400.11,317.13 400.18,317.84 400.26,318.53 400.34,319.22 400.42,319.89 400.51,320.56 400.6,321.22 400.69,321.87 400.79,322.51 400.89,323.14 400.99,323.77 401.1,324.38 401.21,324.99 401.33,325.59 401.45,326.18 401.58,326.76 401.71,327.34 401.84,327.91 401.98,328.47 402.13,329.02 402.28,329.57 402.44,330.11 402.6,330.64 402.77,331.17 402.94,331.68 403.12,332.2 403.31,332.7 403.51,333.2 403.71,333.69 403.92,334.17 404.14,334.65 404.37,335.12 404.6,335.59 404.85,336.05 405.1,336.5 405.37,336.95 405.64,337.39 405.92,337.83 406.22,338.25 406.52,338.68 406.84,339.1 407.17,339.51 407.51,339.92 407.86,340.32 408.23,340.72 408.61,341.11 409.01,341.49 409.42,341.87 409.84,342.25 410.29,342.62 410.75,342.99 411.22,343.35 411.72,343.71 412.23,344.06 412.76,344.4 413.31,344.75 413.89,345.09 414.48,345.42 415.1,345.75 415.74,346.07 416.41,346.39 417.09,346.71 417.81,347.02 418.55,347.33 419.32,347.63 420.13,347.93 420.96,348.23 421.82,348.52 422.71,348.81 423.64,349.09 424.6,349.37 425.6,349.65 426.64,349.92 427.71,350.19 428.83,350.46 429.99,350.72 431.19,350.98 432.44,351.23 433.74,351.49 435.08,351.74 436.48,351.98 437.92,352.22 439.43,352.46 440.98,352.7 442.6,352.93 444.28,353.16 446.02,353.39 447.83,353.61 449.71,353.83 451.65,354.05 453.67,354.26 455.77,354.47 457.95,354.68 460.21,354.89 462.55,355.09 464.98,355.29 467.5,355.49 470.12,355.69 472.84,355.88 475.66,356.07 478.59,356.26 481.62,356.45 484.78,356.63 488.05,356.81 491.44,356.99 494.96,357.16 498.62,357.34 502.41,357.51 506.35,357.68 510.43,357.84 514.67,358.01" fill="none" stroke="#1c951c" class="dt"/></g>
<rect x="392.3" y="275.3" width="128.2" height="88.2" class="sp"/>
<g><text x="396.27" y="373.1" font-size="6.72" textLength="3.72" lengthAdjust="spacingAndGlyphs" fill="#262626">0</text><text x="414.76" y="373.1" font-size="6.72" textLength="11.75" lengthAdjust="spacingAndGlyphs" fill="#262626">500</text><text x="435.17" y="373.1" font-size="6.72" textLength="15.84" lengthAdjust="spacingAndGlyphs" fill="#262626">1000</text><text x="457.65" y="373.1" font-size="6.72" textLength="15.84" lengthAdjust="spacingAndGlyphs" fill="#262626">1500</text><text x="480.07" y="373.1" font-size="6.72" textLength="15.89" lengthAdjust="spacingAndGlyphs" fill="#262626">2000</text><text x="502.55" y="373.1" font-size="6.72" textLength="15.89" lengthAdjust="spacingAndGlyphs" fill="#262626">2500</text><text x="366.01" y="355.95" font-size="6.72" textLength="21.79" lengthAdjust="spacingAndGlyphs" fill="#262626">0.0125</text><text x="365.88" y="341.93" font-size="6.72" textLength="21.9" lengthAdjust="spacingAndGlyphs" fill="#262626">0.0150</text><text x="366.01" y="327.91" font-size="6.72" textLength="21.79" lengthAdjust="spacingAndGlyphs" fill="#262626">0.0175</text><text x="365.88" y="313.89" font-size="6.72" textLength="21.9" lengthAdjust="spacingAndGlyphs" fill="#262626">0.0200</text><text x="366.01" y="299.87" font-size="6.72" textLength="21.79" lengthAdjust="spacingAndGlyphs" fill="#262626">0.0225</text><text x="365.88" y="285.85" font-size="6.72" textLength="21.9" lengthAdjust="spacingAndGlyphs" fill="#262626">0.0250</text></g>
<text x="400.12" y="272.3" font-size="12.77" textLength="112.69" lengthAdjust="spacingAndGlyphs" fill="#262626">p11 Polyurethanes</text>
<g fill="#0173b2"><text x="443.74" y="283.91" font-size="5.78" textLength="15.6" lengthAdjust="spacingAndGlyphs">0.013</text><text x="459.34" y="283.91" font-size="5.78" textLength="3.45" lengthAdjust="spacingAndGlyphs" font-style="italic">n</text><text x="463.05" y="281.83" font-size="4.04" textLength="11.69" lengthAdjust="spacingAndGlyphs">&#8722;0.11</text><text x="475.95" y="283.91" font-size="5.78" textLength="4.57" lengthAdjust="spacingAndGlyphs">+</text><text x="481.58" y="283.91" font-size="5.78" textLength="12.13" lengthAdjust="spacingAndGlyphs">6.10</text><text x="494.78" y="283.91" font-size="5.78" textLength="4.57" lengthAdjust="spacingAndGlyphs">&#215;</text><text x="500.4" y="283.91" font-size="5.78" textLength="6.93" lengthAdjust="spacingAndGlyphs">10</text><text x="507.39" y="281.83" font-size="4.04" textLength="5.62" lengthAdjust="spacingAndGlyphs">&#8722;3</text></g>
<g fill="#de8f05"><text x="444.28" y="292.73" font-size="5.78" textLength="15.6" lengthAdjust="spacingAndGlyphs">0.020</text><text x="459.89" y="292.73" font-size="5.78" textLength="3.45" lengthAdjust="spacingAndGlyphs" font-style="italic">n</text><text x="463.59" y="290.65" font-size="4.04" textLength="11.69" lengthAdjust="spacingAndGlyphs">&#8722;0.09</text><text x="476.5" y="292.73" font-size="5.78" textLength="4.57" lengthAdjust="spacingAndGlyphs">+</text><text x="482.12" y="292.73" font-size="5.78" textLength="11.86" lengthAdjust="spacingAndGlyphs">1.59</text><text x="495.05" y="292.73" font-size="5.78" textLength="4.57" lengthAdjust="spacingAndGlyphs">&#215;</text><text x="500.68" y="292.73" font-size="5.78" textLength="6.93" lengthAdjust="spacingAndGlyphs">10</text><text x="507.66" y="290.65" font-size="4.04" textLength="5.62" lengthAdjust="spacingAndGlyphs">&#8722;3</text></g>
<g fill="#029e73"><text x="443.74" y="301.55" font-size="5.78" textLength="15.6" lengthAdjust="spacingAndGlyphs">0.037</text><text x="459.34" y="301.55" font-size="5.78" textLength="3.45" lengthAdjust="spacingAndGlyphs" font-style="italic">n</text><text x="463.05" y="299.47" font-size="4.04" textLength="11.69" lengthAdjust="spacingAndGlyphs">&#8722;0.36</text><text x="475.95" y="301.55" font-size="5.78" textLength="4.57" lengthAdjust="spacingAndGlyphs">+</text><text x="481.58" y="301.55" font-size="5.78" textLength="12.13" lengthAdjust="spacingAndGlyphs">9.53</text><text x="494.78" y="301.55" font-size="5.78" textLength="4.57" lengthAdjust="spacingAndGlyphs">&#215;</text><text x="500.4" y="301.55" font-size="5.78" textLength="6.93" lengthAdjust="spacingAndGlyphs">10</text><text x="507.39" y="299.47" font-size="4.04" textLength="5.62" lengthAdjust="spacingAndGlyphs">&#8722;3</text></g>
<g clip-path="url(#c11)"><g class="gr"><line x1="558.38" y1="275.3" x2="558.38" y2="363.5"/><line x1="582.16" y1="275.3" x2="582.16" y2="363.5"/><line x1="605.95" y1="275.3" x2="605.95" y2="363.5"/><line x1="629.73" y1="275.3" x2="629.73" y2="363.5"/><line x1="653.52" y1="275.3" x2="653.52" y2="363.5"/><line x1="677.3" y1="275.3" x2="677.3" y2="363.5"/><line x1="552.55" y1="353.6" x2="680.75" y2="353.6"/><line x1="552.55" y1="338.52" x2="680.75" y2="338.52"/><line x1="552.55" y1="323.44" x2="680.75" y2="323.44"/><line x1="552.55" y1="308.36" x2="680.75" y2="308.36"/><line x1="552.55" y1="293.28" x2="680.75" y2="293.28"/><line x1="552.55" y1="278.2" x2="680.75" y2="278.2"/></g><polygon points="558.85,324.95 559.33,326.76 560.76,330.68 563.13,333.69 567.89,337.01 582.16,340.33 605.95,341.23 605.95,352.7 582.16,351.79 567.89,348.47 563.13,345.16 560.76,342.14 559.33,338.22 558.85,336.41" fill="#0173b2" fill-opacity="0.2"/><polyline points="558.85,330.68 559.33,332.49 560.76,336.41 563.13,339.42 567.89,342.74 582.16,346.06 605.95,346.96" fill="none" stroke="#0173b2" stroke-width="1.0"/><g fill="#0173b2" stroke="#fff" stroke-width="0.45"><circle cx="558.85" cy="330.68" r="1.6"/><circle cx="559.33" cy="332.49" r="1.6"/><circle cx="560.76" cy="336.41" r="1.6"/><circle cx="563.13" cy="339.42" r="1.6"/><circle cx="567.89" cy="342.74" r="1.6"/><circle cx="582.16" cy="346.06" r="1.6"/><circle cx="605.95" cy="346.96" r="1.6"/></g><polygon points="558.85,319.82 559.33,324.65 560.76,328.27 563.13,331.28 567.89,334.9 582.16,338.82 605.95,340.63 605.95,349.68 582.16,347.87 567.89,343.95 563.13,340.33 560.76,337.31 559.33,333.69 558.85,328.87" fill="#de8f05" fill-opacity="0.2"/><polyline points="558.85,324.34 559.33,329.17 560.76,332.79 563.13,335.81 567.89,339.42 582.16,343.35 605.95,345.16" fill="none" stroke="#de8f05" stroke-width="1.0"/><path d="M557.6 323.09L560.1 325.59M557.6 325.59L560.1 323.09M558.08 327.92L560.58 330.42M558.08 330.42L560.58 327.92M559.51 331.54L562.01 334.04M559.51 334.04L562.01 331.54M561.88 334.56L564.38 337.06M561.88 337.06L564.38 334.56M566.64 338.17L569.14 340.67M566.64 340.67L569.14 338.17M580.91 342.1L583.41 344.6M580.91 344.6L583.41 342.1M604.7 343.91L607.2 346.41M604.7 346.41L607.2 343.91" stroke="#fff" stroke-width="1.6" fill="none"/><path d="M557.6 323.09L560.1 325.59M557.6 325.59L560.1 323.09M558.08 327.92L560.58 330.42M558.08 330.42L560.58 327.92M559.51 331.54L562.01 334.04M559.51 334.04L562.01 331.54M561.88 334.56L564.38 337.06M561.88 337.06L564.38 334.56M566.64 338.17L569.14 340.67M566.64 340.67L569.14 338.17M580.91 342.1L583.41 344.6M580.91 344.6L583.41 342.1M604.7 343.91L607.2 346.41M604.7 346.41L607.2 343.91" stroke="#de8f05" stroke-width="1.0" fill="none"/><polygon points="561.29,313.49 564.2,320.06 570.03,327.54 581.69,332.31 605,334.66 651.61,336.71 651.61,359.03 605,356.86 581.69,354.38 570.03,349.5 564.2,341.9 561.29,335.2" fill="#029e73" fill-opacity="0.2"/><polyline points="561.29,324.34 564.2,330.98 570.03,338.52 581.69,343.35 605,345.76 651.61,347.87" fill="none" stroke="#029e73" stroke-width="1.0"/><g fill="#029e73" stroke="#fff" stroke-width="0.4"><rect x="560.14" y="323.19" width="2.3" height="2.3"/><rect x="563.05" y="329.83" width="2.3" height="2.3"/><rect x="568.88" y="337.37" width="2.3" height="2.3"/><rect x="580.54" y="342.2" width="2.3" height="2.3"/><rect x="603.85" y="344.61" width="2.3" height="2.3"/><rect x="650.46" y="346.72" width="2.3" height="2.3"/></g><polyline points="558.85,329.13 558.87,329.31 558.89,329.49 558.91,329.66 558.93,329.84 558.95,330.02 558.97,330.19 558.99,330.37 559.02,330.54 559.04,330.71 559.06,330.88 559.09,331.06 559.12,331.23 559.14,331.4 559.17,331.57 559.2,331.74 559.23,331.91 559.26,332.08 559.3,332.24 559.33,332.41 559.37,332.58 559.4,332.75 559.44,332.91 559.48,333.08 559.52,333.24 559.57,333.41 559.61,333.57 559.66,333.73 559.71,333.89 559.76,334.06 559.81,334.22 559.86,334.38 559.92,334.54 559.97,334.7 560.03,334.86 560.09,335.02 560.16,335.18 560.23,335.33 560.29,335.49 560.37,335.65 560.44,335.8 560.52,335.96 560.6,336.12 560.68,336.27 560.77,336.42 560.86,336.58 560.95,336.73 561.04,336.88 561.14,337.04 561.25,337.19 561.35,337.34 561.47,337.49 561.58,337.64 561.7,337.79 561.82,337.94 561.95,338.09 562.09,338.24 562.23,338.38 562.37,338.53 562.52,338.68 562.67,338.82 562.83,338.97 563,339.11 563.17,339.26 563.35,339.4 563.54,339.55 563.73,339.69 563.93,339.83 564.14,339.98 564.35,340.12 564.58,340.26 564.81,340.4 565.05,340.54 565.3,340.68 565.55,340.82 565.82,340.96 566.1,341.1 566.39,341.24 566.69,341.38 567,341.51 567.32,341.65 567.66,341.79 568,341.92 568.36,342.06 568.73,342.19 569.12,342.33 569.52,342.46 569.94,342.6 570.37,342.73 570.82,342.86 571.28,342.99 571.77,343.13 572.27,343.26 572.79,343.39 573.32,343.52 573.88,343.65 574.46,343.78 575.06,343.91 575.69,344.04 576.33,344.17 577,344.3 577.7,344.42 578.42,344.55 579.17,344.68 579.95,344.8 580.75,344.93 581.59,345.06 582.45,345.18 583.35,345.31 584.29,345.43 585.25,345.55 586.26,345.68 587.3,345.8 588.38,345.92 589.5,346.05 590.66,346.17 591.87,346.29 593.12,346.41 594.42,346.53 595.77,346.65 597.16,346.77 598.61,346.89 600.11,347.01 601.67,347.13 603.29,347.25 604.97,347.37 606.71,347.48 608.51,347.6 610.39,347.72 612.33,347.83 614.35,347.95 616.44,348.07 618.6,348.18 620.85,348.3 623.19,348.41 625.61,348.53 628.12,348.64 630.73,348.75 633.43,348.87 636.23,348.98 639.14,349.09 642.16,349.2 645.29,349.31 648.53,349.43 651.9,349.54 655.4,349.65 659.02,349.76 662.78,349.87 666.68,349.98 670.73,350.09 674.92,350.19" fill="none" stroke="#3030ff" class="dt"/><polyline points="558.85,325.08 558.87,325.28 558.89,325.48 558.91,325.68 558.93,325.87 558.95,326.07 558.97,326.27 558.99,326.47 559.02,326.66 559.04,326.86 559.06,327.05 559.09,327.25 559.12,327.44 559.14,327.64 559.17,327.83 559.2,328.02 559.23,328.21 559.26,328.4 559.3,328.6 559.33,328.79 559.37,328.98 559.4,329.16 559.44,329.35 559.48,329.54 559.52,329.73 559.57,329.92 559.61,330.1 559.66,330.29 559.71,330.48 559.76,330.66 559.81,330.85 559.86,331.03 559.92,331.21 559.97,331.4 560.03,331.58 560.09,331.76 560.16,331.94 560.23,332.13 560.29,332.31 560.37,332.49 560.44,332.67 560.52,332.85 560.6,333.02 560.68,333.2 560.77,333.38 560.86,333.56 560.95,333.74 561.04,333.91 561.14,334.09 561.25,334.26 561.35,334.44 561.47,334.61 561.58,334.79 561.7,334.96 561.82,335.13 561.95,335.31 562.09,335.48 562.23,335.65 562.37,335.82 562.52,335.99 562.67,336.16 562.83,336.33 563,336.5 563.17,336.67 563.35,336.84 563.54,337.01 563.73,337.18 563.93,337.34 564.14,337.51 564.35,337.68 564.58,337.84 564.81,338.01 565.05,338.17 565.3,338.34 565.55,338.5 565.82,338.66 566.1,338.83 566.39,338.99 566.69,339.15 567,339.31 567.32,339.47 567.66,339.64 568,339.8 568.36,339.96 568.73,340.12 569.12,340.27 569.52,340.43 569.94,340.59 570.37,340.75 570.82,340.91 571.28,341.06 571.77,341.22 572.27,341.38 572.79,341.53 573.32,341.69 573.88,341.84 574.46,342 575.06,342.15 575.69,342.3 576.33,342.46 577,342.61 577.7,342.76 578.42,342.91 579.17,343.07 579.95,343.22 580.75,343.37 581.59,343.52 582.45,343.67 583.35,343.82 584.29,343.97 585.25,344.12 586.26,344.26 587.3,344.41 588.38,344.56 589.5,344.71 590.66,344.85 591.87,345 593.12,345.15 594.42,345.29 595.77,345.44 597.16,345.58 598.61,345.73 600.11,345.87 601.67,346.01 603.29,346.16 604.97,346.3 606.71,346.44 608.51,346.58 610.39,346.73 612.33,346.87 614.35,347.01 616.44,347.15 618.6,347.29 620.85,347.43 623.19,347.57 625.61,347.71 628.12,347.84 630.73,347.98 633.43,348.12 636.23,348.26 639.14,348.4 642.16,348.53 645.29,348.67 648.53,348.8 651.9,348.94 655.4,349.07 659.02,349.21 662.78,349.34 666.68,349.48 670.73,349.61 674.92,349.75" fill="none" stroke="#ffa030" class="dt"/><polyline points="558.85,278.43 558.87,279.82 558.89,281.17 558.91,282.5 558.93,283.81 558.95,285.09 558.97,286.35 558.99,287.58 559.02,288.8 559.04,289.99 559.06,291.15 559.09,292.3 559.12,293.42 559.14,294.53 559.17,295.61 559.2,296.68 559.23,297.72 559.26,298.74 559.3,299.75 559.33,300.74 559.37,301.7 559.4,302.65 559.44,303.59 559.48,304.5 559.52,305.4 559.57,306.28 559.61,307.15 559.66,308 559.71,308.83 559.76,309.65 559.81,310.45 559.86,311.24 559.92,312.02 559.97,312.78 560.03,313.52 560.09,314.25 560.16,314.97 560.23,315.67 560.29,316.37 560.37,317.05 560.44,317.71 560.52,318.37 560.6,319.01 560.68,319.64 560.77,320.26 560.86,320.86 560.95,321.46 561.04,322.04 561.14,322.62 561.25,323.18 561.35,323.73 561.47,324.27 561.58,324.81 561.7,325.33 561.82,325.84 561.95,326.34 562.09,326.84 562.23,327.32 562.37,327.8 562.52,328.27 562.67,328.72 562.83,329.17 563,329.61 563.17,330.05 563.35,330.47 563.54,330.89 563.73,331.3 563.93,331.7 564.14,332.1 564.35,332.48 564.58,332.86 564.81,333.24 565.05,333.6 565.3,333.96 565.55,334.32 565.82,334.66 566.1,335 566.39,335.33 566.69,335.66 567,335.98 567.32,336.3 567.66,336.61 568,336.91 568.36,337.21 568.73,337.5 569.12,337.79 569.52,338.07 569.94,338.35 570.37,338.62 570.82,338.89 571.28,339.15 571.77,339.4 572.27,339.66 572.79,339.9 573.32,340.15 573.88,340.38 574.46,340.62 575.06,340.85 575.69,341.07 576.33,341.29 577,341.51 577.7,341.72 578.42,341.93 579.17,342.14 579.95,342.34 580.75,342.54 581.59,342.73 582.45,342.92 583.35,343.11 584.29,343.29 585.25,343.47 586.26,343.65 587.3,343.82 588.38,343.99 589.5,344.16 590.66,344.32 591.87,344.48 593.12,344.64 594.42,344.79 595.77,344.95 597.16,345.09 598.61,345.24 600.11,345.38 601.67,345.53 603.29,345.66 604.97,345.8 606.71,345.93 608.51,346.06 610.39,346.19 612.33,346.32 614.35,346.44 616.44,346.56 618.6,346.68 620.85,346.8 623.19,346.92 625.61,347.03 628.12,347.14 630.73,347.25 633.43,347.35 636.23,347.46 639.14,347.56 642.16,347.66 645.29,347.76 648.53,347.86 651.9,347.95 655.4,348.05 659.02,348.14 662.78,348.23 666.68,348.32 670.73,348.4 674.92,348.49" fill="none" stroke="#1c951c" class="dt"/></g>
<rect x="552.55" y="275.3" width="128.2" height="88.2" class="sp"/>
<g><text x="556.52" y="373.1" font-size="6.72" textLength="3.72" lengthAdjust="spacingAndGlyphs" fill="#262626">0</text><text x="576.32" y="373.1" font-size="6.72" textLength="11.75" lengthAdjust="spacingAndGlyphs" fill="#262626">500</text><text x="598.03" y="373.1" font-size="6.72" textLength="15.84" lengthAdjust="spacingAndGlyphs" fill="#262626">1000</text><text x="621.82" y="373.1" font-size="6.72" textLength="15.84" lengthAdjust="spacingAndGlyphs" fill="#262626">1500</text><text x="645.55" y="373.1" font-size="6.72" textLength="15.89" lengthAdjust="spacingAndGlyphs" fill="#262626">2000</text><text x="669.34" y="373.1" font-size="6.72" textLength="15.89" lengthAdjust="spacingAndGlyphs" fill="#262626">2500</text><text x="530.29" y="355.95" font-size="6.72" textLength="17.75" lengthAdjust="spacingAndGlyphs" fill="#262626">0.015</text><text x="530.16" y="340.87" font-size="6.72" textLength="17.87" lengthAdjust="spacingAndGlyphs" fill="#262626">0.020</text><text x="530.29" y="325.79" font-size="6.72" textLength="17.75" lengthAdjust="spacingAndGlyphs" fill="#262626">0.025</text><text x="530.16" y="310.71" font-size="6.72" textLength="17.87" lengthAdjust="spacingAndGlyphs" fill="#262626">0.030</text><text x="530.29" y="295.63" font-size="6.72" textLength="17.75" lengthAdjust="spacingAndGlyphs" fill="#262626">0.035</text><text x="530.16" y="280.55" font-size="6.72" textLength="17.87" lengthAdjust="spacingAndGlyphs" fill="#262626">0.040</text></g>
<text x="574.09" y="272.3" font-size="12.77" textLength="85.26" lengthAdjust="spacingAndGlyphs" fill="#262626">p12 Polyureas</text>
<g fill="#0173b2"><text x="604.53" y="283.91" font-size="5.78" textLength="15.6" lengthAdjust="spacingAndGlyphs">0.022</text><text x="620.14" y="283.91" font-size="5.78" textLength="3.45" lengthAdjust="spacingAndGlyphs" font-style="italic">n</text><text x="623.84" y="281.83" font-size="4.04" textLength="11.69" lengthAdjust="spacingAndGlyphs">&#8722;0.09</text><text x="636.75" y="283.91" font-size="5.78" textLength="4.57" lengthAdjust="spacingAndGlyphs">+</text><text x="642.37" y="283.91" font-size="5.78" textLength="11.86" lengthAdjust="spacingAndGlyphs">5.23</text><text x="655.3" y="283.91" font-size="5.78" textLength="4.57" lengthAdjust="spacingAndGlyphs">&#215;</text><text x="660.93" y="283.91" font-size="5.78" textLength="6.93" lengthAdjust="spacingAndGlyphs">10</text><text x="667.91" y="281.83" font-size="4.04" textLength="5.62" lengthAdjust="spacingAndGlyphs">&#8722;3</text></g>
<g fill="#de8f05"><text x="601.81" y="292.73" font-size="5.78" textLength="15.53" lengthAdjust="spacingAndGlyphs">0.029</text><text x="617.34" y="292.73" font-size="5.78" textLength="3.45" lengthAdjust="spacingAndGlyphs" font-style="italic">n</text><text x="621.05" y="290.65" font-size="4.04" textLength="11.69" lengthAdjust="spacingAndGlyphs">&#8722;0.08</text><text x="633.95" y="292.73" font-size="5.78" textLength="4.57" lengthAdjust="spacingAndGlyphs">+</text><text x="639.58" y="292.73" font-size="5.78" textLength="12" lengthAdjust="spacingAndGlyphs">2.87</text><text x="652.64" y="292.73" font-size="5.78" textLength="4.57" lengthAdjust="spacingAndGlyphs">&#215;</text><text x="658.27" y="292.73" font-size="5.78" textLength="6.93" lengthAdjust="spacingAndGlyphs">10</text><text x="665.26" y="290.65" font-size="4.04" textLength="8.05" lengthAdjust="spacingAndGlyphs">&#8722;13</text></g>
<g fill="#029e73"><text x="603.99" y="301.55" font-size="5.78" textLength="15.6" lengthAdjust="spacingAndGlyphs">0.080</text><text x="619.59" y="301.55" font-size="5.78" textLength="3.45" lengthAdjust="spacingAndGlyphs" font-style="italic">n</text><text x="623.3" y="299.47" font-size="4.04" textLength="11.69" lengthAdjust="spacingAndGlyphs">&#8722;0.51</text><text x="636.2" y="301.55" font-size="5.78" textLength="4.57" lengthAdjust="spacingAndGlyphs">+</text><text x="641.83" y="301.55" font-size="5.78" textLength="12.13" lengthAdjust="spacingAndGlyphs">1.52</text><text x="655.03" y="301.55" font-size="5.78" textLength="4.57" lengthAdjust="spacingAndGlyphs">&#215;</text><text x="660.65" y="301.55" font-size="5.78" textLength="6.93" lengthAdjust="spacingAndGlyphs">10</text><text x="667.64" y="299.47" font-size="4.04" textLength="5.62" lengthAdjust="spacingAndGlyphs">&#8722;2</text></g>
<g clip-path="url(#c12)"><g class="gr"><line x1="77.53" y1="390.3" x2="77.53" y2="478.5"/><line x1="98.75" y1="390.3" x2="98.75" y2="478.5"/><line x1="119.97" y1="390.3" x2="119.97" y2="478.5"/><line x1="141.2" y1="390.3" x2="141.2" y2="478.5"/><line x1="162.42" y1="390.3" x2="162.42" y2="478.5"/><line x1="183.65" y1="390.3" x2="183.65" y2="478.5"/><line x1="71.7" y1="469.6" x2="199.9" y2="469.6"/><line x1="71.7" y1="453.35" x2="199.9" y2="453.35"/><line x1="71.7" y1="437.1" x2="199.9" y2="437.1"/><line x1="71.7" y1="420.85" x2="199.9" y2="420.85"/><line x1="71.7" y1="404.6" x2="199.9" y2="404.6"/></g><polygon points="77.74,433.53 77.95,440.03 78.59,445.23 79.65,449.12 81.77,452.38 88.14,455.95 98.75,459.2 98.75,463.1 88.14,459.85 81.77,456.28 79.65,453.03 78.59,449.12 77.95,443.93 77.74,437.43" fill="#0173b2" fill-opacity="0.2"/><polyline points="77.74,435.48 77.95,441.98 78.59,447.18 79.65,451.08 81.77,454.33 88.14,457.9 98.75,461.15" fill="none" stroke="#0173b2" stroke-width="1.0"/><g fill="#0173b2" stroke="#fff" stroke-width="0.45"><circle cx="77.74" cy="435.48" r="1.6"/><circle cx="77.95" cy="441.98" r="1.6"/><circle cx="78.59" cy="447.18" r="1.6"/><circle cx="79.65" cy="451.08" r="1.6"/><circle cx="81.77" cy="454.33" r="1.6"/><circle cx="88.14" cy="457.9" r="1.6"/><circle cx="98.75" cy="461.15" r="1.6"/></g><polygon points="77.74,430.6 77.95,436.45 78.59,443.28 79.65,446.85 81.77,449.78 88.14,455.3 98.75,459.2 98.75,463.1 88.14,459.2 81.77,453.68 79.65,450.75 78.59,447.18 77.95,440.35 77.74,434.5" fill="#de8f05" fill-opacity="0.2"/><polyline points="77.74,432.55 77.95,438.4 78.59,445.23 79.65,448.8 81.77,451.73 88.14,457.25 98.75,461.15" fill="none" stroke="#de8f05" stroke-width="1.0"/><path d="M76.49 431.3L78.99 433.8M76.49 433.8L78.99 431.3M76.7 437.15L79.2 439.65M76.7 439.65L79.2 437.15M77.34 443.98L79.84 446.48M77.34 446.48L79.84 443.98M78.4 447.55L80.9 450.05M78.4 450.05L80.9 447.55M80.52 450.48L83.02 452.98M80.52 452.98L83.02 450.48M86.89 456L89.39 458.5M86.89 458.5L89.39 456M97.5 459.9L100 462.4M97.5 462.4L100 459.9" stroke="#fff" stroke-width="1.6" fill="none"/><path d="M76.49 431.3L78.99 433.8M76.49 433.8L78.99 431.3M76.7 437.15L79.2 439.65M76.7 439.65L79.2 437.15M77.34 443.98L79.84 446.48M77.34 446.48L79.84 443.98M78.4 447.55L80.9 450.05M78.4 450.05L80.9 447.55M80.52 450.48L83.02 452.98M80.52 452.98L83.02 450.48M86.89 456L89.39 458.5M86.89 458.5L89.39 456M97.5 459.9L100 462.4M97.5 462.4L100 459.9" stroke="#de8f05" stroke-width="1.0" fill="none"/><polygon points="80.44,437.1 83.35,444.9 89.18,453.03 100.84,458.88 124.15,464.4 170.76,469.6 170.76,474.15 124.15,468.95 100.84,463.43 89.18,457.58 83.35,449.45 80.44,441.65" fill="#029e73" fill-opacity="0.2"/><polyline points="80.44,439.38 83.35,447.18 89.18,455.3 100.84,461.15 124.15,466.68 170.76,471.88" fill="none" stroke="#029e73" stroke-width="1.0"/><g fill="#029e73" stroke="#fff" stroke-width="0.4"><rect x="79.29" y="438.23" width="2.3" height="2.3"/><rect x="82.2" y="446.03" width="2.3" height="2.3"/><rect x="88.03" y="454.15" width="2.3" height="2.3"/><rect x="99.69" y="460" width="2.3" height="2.3"/><rect x="123" y="465.53" width="2.3" height="2.3"/><rect x="169.61" y="470.73" width="2.3" height="2.3"/></g><polyline points="77.74,439.89 77.75,440.1 77.76,440.32 77.77,440.54 77.78,440.76 77.79,440.98 77.8,441.19 77.81,441.41 77.82,441.62 77.84,441.84 77.85,442.05 77.86,442.27 77.88,442.48 77.89,442.69 77.91,442.9 77.93,443.11 77.94,443.32 77.96,443.53 77.98,443.74 78,443.95 78.02,444.16 78.04,444.37 78.06,444.57 78.09,444.78 78.11,444.98 78.13,445.19 78.16,445.39 78.19,445.6 78.22,445.8 78.25,446 78.28,446.21 78.31,446.41 78.34,446.61 78.38,446.81 78.41,447.01 78.45,447.21 78.49,447.41 78.53,447.61 78.58,447.8 78.62,448 78.67,448.2 78.72,448.39 78.77,448.59 78.82,448.78 78.88,448.98 78.94,449.17 79,449.37 79.06,449.56 79.13,449.75 79.19,449.94 79.27,450.13 79.34,450.32 79.42,450.51 79.5,450.7 79.58,450.89 79.67,451.08 79.76,451.27 79.86,451.46 79.96,451.64 80.06,451.83 80.17,452.02 80.29,452.2 80.41,452.39 80.53,452.57 80.66,452.75 80.79,452.94 80.93,453.12 81.08,453.3 81.23,453.48 81.39,453.67 81.56,453.85 81.73,454.03 81.91,454.21 82.1,454.38 82.3,454.56 82.5,454.74 82.71,454.92 82.94,455.1 83.17,455.27 83.41,455.45 83.66,455.62 83.93,455.8 84.2,455.97 84.49,456.15 84.79,456.32 85.1,456.5 85.43,456.67 85.77,456.84 86.12,457.01 86.49,457.18 86.87,457.35 87.27,457.52 87.69,457.69 88.13,457.86 88.59,458.03 89.06,458.2 89.56,458.37 90.07,458.54 90.61,458.7 91.17,458.87 91.76,459.04 92.37,459.2 93.01,459.37 93.67,459.53 94.37,459.7 95.09,459.86 95.84,460.02 96.63,460.19 97.45,460.35 98.31,460.51 99.2,460.67 100.13,460.83 101.1,460.99 102.11,461.15 103.17,461.31 104.27,461.47 105.42,461.63 106.62,461.79 107.87,461.95 109.17,462.1 110.53,462.26 111.95,462.42 113.43,462.57 114.97,462.73 116.58,462.88 118.25,463.04 120,463.19 121.83,463.35 123.73,463.5 125.72,463.65 127.79,463.81 129.94,463.96 132.2,464.11 134.54,464.26 136.99,464.41 139.55,464.56 142.21,464.71 144.99,464.86 147.89,465.01 150.91,465.16 154.06,465.31 157.35,465.46 160.78,465.6 164.35,465.75 168.08,465.9 171.97,466.04 176.03,466.19 180.26,466.33 184.67,466.48 189.27,466.62 194.07,466.77" fill="none" stroke="#3030ff" class="dt"/><polyline points="77.74,431.17 77.75,431.5 77.76,431.83 77.77,432.16 77.78,432.48 77.79,432.81 77.8,433.13 77.81,433.45 77.82,433.77 77.84,434.09 77.85,434.41 77.86,434.73 77.88,435.04 77.89,435.36 77.91,435.67 77.93,435.99 77.94,436.3 77.96,436.61 77.98,436.92 78,437.22 78.02,437.53 78.04,437.83 78.06,438.14 78.09,438.44 78.11,438.74 78.13,439.04 78.16,439.34 78.19,439.64 78.22,439.94 78.25,440.24 78.28,440.53 78.31,440.83 78.34,441.12 78.38,441.41 78.41,441.7 78.45,441.99 78.49,442.28 78.53,442.57 78.58,442.85 78.62,443.14 78.67,443.42 78.72,443.7 78.77,443.99 78.82,444.27 78.88,444.55 78.94,444.83 79,445.1 79.06,445.38 79.13,445.66 79.19,445.93 79.27,446.2 79.34,446.48 79.42,446.75 79.5,447.02 79.58,447.29 79.67,447.56 79.76,447.82 79.86,448.09 79.96,448.36 80.06,448.62 80.17,448.88 80.29,449.15 80.41,449.41 80.53,449.67 80.66,449.93 80.79,450.19 80.93,450.44 81.08,450.7 81.23,450.96 81.39,451.21 81.56,451.46 81.73,451.72 81.91,451.97 82.1,452.22 82.3,452.47 82.5,452.72 82.71,452.97 82.94,453.21 83.17,453.46 83.41,453.7 83.66,453.95 83.93,454.19 84.2,454.43 84.49,454.68 84.79,454.92 85.1,455.16 85.43,455.39 85.77,455.63 86.12,455.87 86.49,456.11 86.87,456.34 87.27,456.58 87.69,456.81 88.13,457.04 88.59,457.27 89.06,457.5 89.56,457.73 90.07,457.96 90.61,458.19 91.17,458.42 91.76,458.64 92.37,458.87 93.01,459.09 93.67,459.32 94.37,459.54 95.09,459.76 95.84,459.98 96.63,460.21 97.45,460.42 98.31,460.64 99.2,460.86 100.13,461.08 101.1,461.3 102.11,461.51 103.17,461.73 104.27,461.94 105.42,462.15 106.62,462.36 107.87,462.58 109.17,462.79 110.53,463 111.95,463.21 113.43,463.41 114.97,463.62 116.58,463.83 118.25,464.03 120,464.24 121.83,464.44 123.73,464.65 125.72,464.85 127.79,465.05 129.94,465.25 132.2,465.45 134.54,465.65 136.99,465.85 139.55,466.05 142.21,466.25 144.99,466.45 147.89,466.64 150.91,466.84 154.06,467.03 157.35,467.23 160.78,467.42 164.35,467.61 168.08,467.8 171.97,467.99 176.03,468.18 180.26,468.37 184.67,468.56 189.27,468.75 194.07,468.94" fill="none" stroke="#ffa030" class="dt"/><polyline points="77.74,393.6 77.75,394.53 77.76,395.46 77.77,396.37 77.78,397.28 77.79,398.18 77.8,399.07 77.81,399.96 77.82,400.83 77.84,401.7 77.85,402.57 77.86,403.42 77.88,404.27 77.89,405.11 77.91,405.95 77.93,406.77 77.94,407.59 77.96,408.41 77.98,409.21 78,410.01 78.02,410.8 78.04,411.59 78.06,412.37 78.09,413.14 78.11,413.91 78.13,414.67 78.16,415.42 78.19,416.17 78.22,416.91 78.25,417.64 78.28,418.37 78.31,419.1 78.34,419.81 78.38,420.52 78.41,421.23 78.45,421.92 78.49,422.62 78.53,423.3 78.58,423.98 78.62,424.66 78.67,425.33 78.72,425.99 78.77,426.65 78.82,427.3 78.88,427.95 78.94,428.59 79,429.22 79.06,429.86 79.13,430.48 79.19,431.1 79.27,431.72 79.34,432.32 79.42,432.93 79.5,433.53 79.58,434.12 79.67,434.71 79.76,435.3 79.86,435.88 79.96,436.45 80.06,437.02 80.17,437.58 80.29,438.14 80.41,438.7 80.53,439.25 80.66,439.8 80.79,440.34 80.93,440.87 81.08,441.41 81.23,441.93 81.39,442.46 81.56,442.98 81.73,443.49 81.91,444 82.1,444.51 82.3,445.01 82.5,445.51 82.71,446 82.94,446.49 83.17,446.97 83.41,447.45 83.66,447.93 83.93,448.4 84.2,448.87 84.49,449.34 84.79,449.8 85.1,450.26 85.43,450.71 85.77,451.16 86.12,451.6 86.49,452.04 86.87,452.48 87.27,452.92 87.69,453.35 88.13,453.77 88.59,454.2 89.06,454.62 89.56,455.03 90.07,455.45 90.61,455.86 91.17,456.26 91.76,456.66 92.37,457.06 93.01,457.46 93.67,457.85 94.37,458.24 95.09,458.63 95.84,459.01 96.63,459.39 97.45,459.76 98.31,460.14 99.2,460.51 100.13,460.87 101.1,461.24 102.11,461.6 103.17,461.95 104.27,462.31 105.42,462.66 106.62,463.01 107.87,463.35 109.17,463.7 110.53,464.04 111.95,464.37 113.43,464.71 114.97,465.04 116.58,465.37 118.25,465.69 120,466.02 121.83,466.34 123.73,466.65 125.72,466.97 127.79,467.28 129.94,467.59 132.2,467.9 134.54,468.2 136.99,468.5 139.55,468.8 142.21,469.1 144.99,469.39 147.89,469.68 150.91,469.97 154.06,470.26 157.35,470.54 160.78,470.83 164.35,471.11 168.08,471.38 171.97,471.66 176.03,471.93 180.26,472.2 184.67,472.47 189.27,472.73 194.07,473" fill="none" stroke="#1c951c" class="dt"/></g>
<rect x="71.7" y="390.3" width="128.2" height="88.2" class="sp"/>
<g><text x="75.67" y="488.1" font-size="6.72" textLength="3.72" lengthAdjust="spacingAndGlyphs" fill="#262626">0</text><text x="90.84" y="488.1" font-size="6.72" textLength="15.84" lengthAdjust="spacingAndGlyphs" fill="#262626">1000</text><text x="112.01" y="488.1" font-size="6.72" textLength="15.89" lengthAdjust="spacingAndGlyphs" fill="#262626">2000</text><text x="133.34" y="488.1" font-size="6.72" textLength="15.78" lengthAdjust="spacingAndGlyphs" fill="#262626">3000</text><text x="154.5" y="488.1" font-size="6.72" textLength="15.85" lengthAdjust="spacingAndGlyphs" fill="#262626">4000</text><text x="175.78" y="488.1" font-size="6.72" textLength="15.79" lengthAdjust="spacingAndGlyphs" fill="#262626">5000</text><text x="49.44" y="471.95" font-size="6.72" textLength="17.75" lengthAdjust="spacingAndGlyphs" fill="#262626">0.015</text><text x="49.31" y="455.7" font-size="6.72" textLength="17.87" lengthAdjust="spacingAndGlyphs" fill="#262626">0.020</text><text x="49.44" y="439.45" font-size="6.72" textLength="17.75" lengthAdjust="spacingAndGlyphs" fill="#262626">0.025</text><text x="49.31" y="423.2" font-size="6.72" textLength="17.87" lengthAdjust="spacingAndGlyphs" fill="#262626">0.030</text><text x="49.44" y="406.95" font-size="6.72" textLength="17.75" lengthAdjust="spacingAndGlyphs" fill="#262626">0.035</text></g>
<text x="90.17" y="387.3" font-size="12.77" textLength="91.38" lengthAdjust="spacingAndGlyphs" fill="#262626">p13 Polyimides</text>
<g fill="#0173b2"><text x="123.14" y="398.91" font-size="5.78" textLength="15.6" lengthAdjust="spacingAndGlyphs">0.028</text><text x="138.74" y="398.91" font-size="5.78" textLength="3.45" lengthAdjust="spacingAndGlyphs" font-style="italic">n</text><text x="142.45" y="396.83" font-size="4.04" textLength="11.69" lengthAdjust="spacingAndGlyphs">&#8722;0.07</text><text x="155.35" y="398.91" font-size="5.78" textLength="4.57" lengthAdjust="spacingAndGlyphs">+</text><text x="160.98" y="398.91" font-size="5.78" textLength="12.13" lengthAdjust="spacingAndGlyphs">1.46</text><text x="174.18" y="398.91" font-size="5.78" textLength="4.57" lengthAdjust="spacingAndGlyphs">&#215;</text><text x="179.8" y="398.91" font-size="5.78" textLength="6.93" lengthAdjust="spacingAndGlyphs">10</text><text x="186.79" y="396.83" font-size="4.04" textLength="5.62" lengthAdjust="spacingAndGlyphs">&#8722;4</text></g>
<g fill="#de8f05"><text x="120.96" y="407.73" font-size="5.78" textLength="15.6" lengthAdjust="spacingAndGlyphs">0.033</text><text x="136.56" y="407.73" font-size="5.78" textLength="3.45" lengthAdjust="spacingAndGlyphs" font-style="italic">n</text><text x="140.27" y="405.65" font-size="4.04" textLength="11.69" lengthAdjust="spacingAndGlyphs">&#8722;0.09</text><text x="153.17" y="407.73" font-size="5.78" textLength="4.57" lengthAdjust="spacingAndGlyphs">+</text><text x="158.8" y="407.73" font-size="5.78" textLength="11.86" lengthAdjust="spacingAndGlyphs">1.24</text><text x="171.72" y="407.73" font-size="5.78" textLength="4.57" lengthAdjust="spacingAndGlyphs">&#215;</text><text x="177.35" y="407.73" font-size="5.78" textLength="6.93" lengthAdjust="spacingAndGlyphs">10</text><text x="184.34" y="405.65" font-size="4.04" textLength="8.05" lengthAdjust="spacingAndGlyphs">&#8722;16</text></g>
<g fill="#029e73"><text x="123.14" y="416.55" font-size="5.78" textLength="15.6" lengthAdjust="spacingAndGlyphs">0.054</text><text x="138.74" y="416.55" font-size="5.78" textLength="3.45" lengthAdjust="spacingAndGlyphs" font-style="italic">n</text><text x="142.45" y="414.47" font-size="4.04" textLength="11.5" lengthAdjust="spacingAndGlyphs">&#8722;0.21</text><text x="155.16" y="416.55" font-size="5.78" textLength="4.57" lengthAdjust="spacingAndGlyphs">+</text><text x="160.79" y="416.55" font-size="5.78" textLength="12.13" lengthAdjust="spacingAndGlyphs">4.43</text><text x="173.99" y="416.55" font-size="5.78" textLength="4.57" lengthAdjust="spacingAndGlyphs">&#215;</text><text x="179.61" y="416.55" font-size="5.78" textLength="6.93" lengthAdjust="spacingAndGlyphs">10</text><text x="186.6" y="414.47" font-size="4.04" textLength="5.62" lengthAdjust="spacingAndGlyphs">&#8722;3</text></g>
<g clip-path="url(#c13)"><g class="gr"><line x1="237.88" y1="390.3" x2="237.88" y2="478.5"/><line x1="264.65" y1="390.3" x2="264.65" y2="478.5"/><line x1="291.43" y1="390.3" x2="291.43" y2="478.5"/><line x1="318.21" y1="390.3" x2="318.21" y2="478.5"/><line x1="344.98" y1="390.3" x2="344.98" y2="478.5"/><line x1="232.05" y1="471.8" x2="360.25" y2="471.8"/><line x1="232.05" y1="456.14" x2="360.25" y2="456.14"/><line x1="232.05" y1="440.48" x2="360.25" y2="440.48"/><line x1="232.05" y1="424.82" x2="360.25" y2="424.82"/><line x1="232.05" y1="409.16" x2="360.25" y2="409.16"/><line x1="232.05" y1="393.5" x2="360.25" y2="393.5"/></g><polygon points="238.41,437.97 238.95,442.36 240.55,446.74 243.23,449.25 248.59,452.38 264.65,457.39 291.43,461.78 291.43,468.04 264.65,463.66 248.59,458.65 243.23,455.51 240.55,453.01 238.95,448.62 238.41,444.24" fill="#0173b2" fill-opacity="0.2"/><polyline points="238.41,441.11 238.95,445.49 240.55,449.88 243.23,452.38 248.59,455.51 264.65,460.52 291.43,464.91" fill="none" stroke="#0173b2" stroke-width="1.0"/><g fill="#0173b2" stroke="#fff" stroke-width="0.45"><circle cx="238.41" cy="441.11" r="1.6"/><circle cx="238.95" cy="445.49" r="1.6"/><circle cx="240.55" cy="449.88" r="1.6"/><circle cx="243.23" cy="452.38" r="1.6"/><circle cx="248.59" cy="455.51" r="1.6"/><circle cx="264.65" cy="460.52" r="1.6"/><circle cx="291.43" cy="464.91" r="1.6"/></g><polygon points="238.41,438.6 238.95,441.73 240.55,444.24 243.23,447.37 248.59,449.88 264.65,456.14 291.43,462.4 291.43,469.92 264.65,463.66 248.59,457.39 243.23,454.89 240.55,451.76 238.95,449.25 238.41,446.12" fill="#de8f05" fill-opacity="0.2"/><polyline points="238.41,442.36 238.95,445.49 240.55,448 243.23,451.13 248.59,453.63 264.65,459.9 291.43,466.16" fill="none" stroke="#de8f05" stroke-width="1.0"/><path d="M237.16 441.11L239.66 443.61M237.16 443.61L239.66 441.11M237.7 444.24L240.2 446.74M237.7 446.74L240.2 444.24M239.3 446.75L241.8 449.25M239.3 449.25L241.8 446.75M241.98 449.88L244.48 452.38M241.98 452.38L244.48 449.88M247.34 452.38L249.84 454.88M247.34 454.88L249.84 452.38M263.4 458.65L265.9 461.15M263.4 461.15L265.9 458.65M290.18 464.91L292.68 467.41M290.18 467.41L292.68 464.91" stroke="#fff" stroke-width="1.6" fill="none"/><path d="M237.16 441.11L239.66 443.61M237.16 443.61L239.66 441.11M237.7 444.24L240.2 446.74M237.7 446.74L240.2 444.24M239.3 446.75L241.8 449.25M239.3 449.25L241.8 446.75M241.98 449.88L244.48 452.38M241.98 452.38L244.48 449.88M247.34 452.38L249.84 454.88M247.34 454.88L249.84 452.38M263.4 458.65L265.9 461.15M263.4 461.15L265.9 458.65M290.18 464.91L292.68 467.41M290.18 467.41L292.68 464.91" stroke="#de8f05" stroke-width="1.0" fill="none"/><polygon points="240.79,413.55 243.7,424.82 249.53,436.09 261.19,446.12 284.5,454.26 331.11,464.28 331.11,474.31 284.5,470.55 261.19,461.15 249.53,454.89 243.7,444.86 240.79,434.84" fill="#029e73" fill-opacity="0.2"/><polyline points="240.79,424.19 243.7,434.84 249.53,445.49 261.19,453.63 284.5,462.4 331.11,469.29" fill="none" stroke="#029e73" stroke-width="1.0"/><g fill="#029e73" stroke="#fff" stroke-width="0.4"><rect x="239.64" y="423.04" width="2.3" height="2.3"/><rect x="242.55" y="433.69" width="2.3" height="2.3"/><rect x="248.38" y="444.34" width="2.3" height="2.3"/><rect x="260.04" y="452.48" width="2.3" height="2.3"/><rect x="283.35" y="461.25" width="2.3" height="2.3"/><rect x="329.96" y="468.14" width="2.3" height="2.3"/></g><polyline points="238.41,435.53 238.43,435.78 238.45,436.02 238.47,436.27 238.5,436.51 238.52,436.76 238.54,437 238.57,437.24 238.59,437.49 238.62,437.73 238.64,437.97 238.67,438.21 238.7,438.45 238.73,438.69 238.76,438.93 238.79,439.17 238.83,439.41 238.86,439.65 238.9,439.89 238.94,440.12 238.97,440.36 239.02,440.59 239.06,440.83 239.1,441.07 239.14,441.3 239.19,441.53 239.24,441.77 239.29,442 239.34,442.23 239.39,442.46 239.45,442.7 239.51,442.93 239.57,443.16 239.63,443.39 239.69,443.62 239.76,443.85 239.83,444.08 239.9,444.3 239.97,444.53 240.05,444.76 240.13,444.98 240.21,445.21 240.29,445.44 240.38,445.66 240.47,445.89 240.57,446.11 240.67,446.33 240.77,446.56 240.88,446.78 240.98,447 241.1,447.22 241.22,447.44 241.34,447.67 241.46,447.89 241.6,448.11 241.73,448.32 241.87,448.54 242.02,448.76 242.17,448.98 242.33,449.2 242.49,449.41 242.66,449.63 242.83,449.85 243.01,450.06 243.2,450.28 243.4,450.49 243.6,450.71 243.81,450.92 244.02,451.13 244.25,451.35 244.48,451.56 244.72,451.77 244.97,451.98 245.23,452.19 245.5,452.4 245.78,452.61 246.07,452.82 246.37,453.03 246.68,453.24 247,453.45 247.33,453.66 247.68,453.87 248.03,454.07 248.4,454.28 248.79,454.49 249.19,454.69 249.6,454.9 250.03,455.1 250.47,455.31 250.93,455.51 251.41,455.71 251.91,455.92 252.42,456.12 252.95,456.32 253.5,456.52 254.07,456.72 254.66,456.92 255.28,457.12 255.91,457.32 256.57,457.52 257.25,457.72 257.96,457.92 258.69,458.12 259.46,458.32 260.24,458.52 261.06,458.71 261.91,458.91 262.79,459.11 263.7,459.3 264.64,459.5 265.62,459.69 266.63,459.89 267.68,460.08 268.77,460.27 269.9,460.47 271.07,460.66 272.28,460.85 273.54,461.04 274.84,461.23 276.19,461.43 277.59,461.62 279.04,461.81 280.55,462 282.11,462.19 283.72,462.38 285.4,462.56 287.13,462.75 288.93,462.94 290.8,463.13 292.73,463.31 294.74,463.5 296.81,463.69 298.97,463.87 301.2,464.06 303.51,464.24 305.91,464.43 308.4,464.61 310.97,464.8 313.64,464.98 316.41,465.16 319.28,465.35 322.26,465.53 325.34,465.71 328.53,465.89 331.85,466.07 335.28,466.25 338.84,466.43 342.53,466.61 346.35,466.79 350.31,466.97 354.42,467.15" fill="none" stroke="#3030ff" class="dt"/><polyline points="238.41,435.49 238.43,435.73 238.45,435.98 238.47,436.22 238.5,436.47 238.52,436.71 238.54,436.96 238.57,437.2 238.59,437.44 238.62,437.69 238.64,437.93 238.67,438.17 238.7,438.41 238.73,438.65 238.76,438.89 238.79,439.13 238.83,439.37 238.86,439.6 238.9,439.84 238.94,440.08 238.97,440.32 239.02,440.55 239.06,440.79 239.1,441.02 239.14,441.26 239.19,441.49 239.24,441.72 239.29,441.96 239.34,442.19 239.39,442.42 239.45,442.65 239.51,442.88 239.57,443.12 239.63,443.35 239.69,443.57 239.76,443.8 239.83,444.03 239.9,444.26 239.97,444.49 240.05,444.71 240.13,444.94 240.21,445.17 240.29,445.39 240.38,445.62 240.47,445.84 240.57,446.07 240.67,446.29 240.77,446.51 240.88,446.74 240.98,446.96 241.1,447.18 241.22,447.4 241.34,447.62 241.46,447.84 241.6,448.06 241.73,448.28 241.87,448.5 242.02,448.72 242.17,448.94 242.33,449.15 242.49,449.37 242.66,449.59 242.83,449.8 243.01,450.02 243.2,450.24 243.4,450.45 243.6,450.66 243.81,450.88 244.02,451.09 244.25,451.3 244.48,451.52 244.72,451.73 244.97,451.94 245.23,452.15 245.5,452.36 245.78,452.57 246.07,452.78 246.37,452.99 246.68,453.2 247,453.41 247.33,453.62 247.68,453.82 248.03,454.03 248.4,454.24 248.79,454.44 249.19,454.65 249.6,454.85 250.03,455.06 250.47,455.26 250.93,455.47 251.41,455.67 251.91,455.87 252.42,456.08 252.95,456.28 253.5,456.48 254.07,456.68 254.66,456.88 255.28,457.08 255.91,457.28 256.57,457.48 257.25,457.68 257.96,457.88 258.69,458.08 259.46,458.28 260.24,458.47 261.06,458.67 261.91,458.87 262.79,459.06 263.7,459.26 264.64,459.45 265.62,459.65 266.63,459.84 267.68,460.04 268.77,460.23 269.9,460.42 271.07,460.62 272.28,460.81 273.54,461 274.84,461.19 276.19,461.38 277.59,461.57 279.04,461.76 280.55,461.95 282.11,462.14 283.72,462.33 285.4,462.52 287.13,462.71 288.93,462.9 290.8,463.08 292.73,463.27 294.74,463.46 296.81,463.64 298.97,463.83 301.2,464.02 303.51,464.2 305.91,464.39 308.4,464.57 310.97,464.75 313.64,464.94 316.41,465.12 319.28,465.3 322.26,465.49 325.34,465.67 328.53,465.85 331.85,466.03 335.28,466.21 338.84,466.39 342.53,466.57 346.35,466.75 350.31,466.93 354.42,467.11" fill="none" stroke="#ffa030" class="dt"/><polyline points="238.41,391.99 238.43,392.72 238.45,393.45 238.47,394.18 238.5,394.91 238.52,395.63 238.54,396.35 238.57,397.06 238.59,397.77 238.62,398.48 238.64,399.18 238.67,399.89 238.7,400.58 238.73,401.28 238.76,401.97 238.79,402.66 238.83,403.34 238.86,404.02 238.9,404.7 238.94,405.38 238.97,406.05 239.02,406.72 239.06,407.39 239.1,408.05 239.14,408.71 239.19,409.37 239.24,410.02 239.29,410.67 239.34,411.32 239.39,411.97 239.45,412.61 239.51,413.25 239.57,413.88 239.63,414.51 239.69,415.14 239.76,415.77 239.83,416.4 239.9,417.02 239.97,417.64 240.05,418.25 240.13,418.86 240.21,419.47 240.29,420.08 240.38,420.68 240.47,421.29 240.57,421.88 240.67,422.48 240.77,423.07 240.88,423.66 240.98,424.25 241.1,424.83 241.22,425.42 241.34,426 241.46,426.57 241.6,427.15 241.73,427.72 241.87,428.29 242.02,428.85 242.17,429.41 242.33,429.98 242.49,430.53 242.66,431.09 242.83,431.64 243.01,432.19 243.2,432.74 243.4,433.28 243.6,433.83 243.81,434.37 244.02,434.9 244.25,435.44 244.48,435.97 244.72,436.5 244.97,437.03 245.23,437.56 245.5,438.08 245.78,438.6 246.07,439.12 246.37,439.63 246.68,440.14 247,440.66 247.33,441.16 247.68,441.67 248.03,442.17 248.4,442.67 248.79,443.17 249.19,443.67 249.6,444.16 250.03,444.66 250.47,445.15 250.93,445.63 251.41,446.12 251.91,446.6 252.42,447.08 252.95,447.56 253.5,448.04 254.07,448.51 254.66,448.98 255.28,449.45 255.91,449.92 256.57,450.38 257.25,450.85 257.96,451.31 258.69,451.77 259.46,452.22 260.24,452.68 261.06,453.13 261.91,453.58 262.79,454.03 263.7,454.47 264.64,454.92 265.62,455.36 266.63,455.8 267.68,456.24 268.77,456.67 269.9,457.11 271.07,457.54 272.28,457.97 273.54,458.4 274.84,458.82 276.19,459.25 277.59,459.67 279.04,460.09 280.55,460.51 282.11,460.92 283.72,461.34 285.4,461.75 287.13,462.16 288.93,462.57 290.8,462.97 292.73,463.38 294.74,463.78 296.81,464.18 298.97,464.58 301.2,464.98 303.51,465.37 305.91,465.76 308.4,466.16 310.97,466.55 313.64,466.93 316.41,467.32 319.28,467.7 322.26,468.09 325.34,468.47 328.53,468.85 331.85,469.22 335.28,469.6 338.84,469.97 342.53,470.34 346.35,470.71 350.31,471.08 354.42,471.45" fill="none" stroke="#1c951c" class="dt"/></g>
<rect x="232.05" y="390.3" width="128.2" height="88.2" class="sp"/>
<g><text x="236.02" y="488.1" font-size="6.72" textLength="3.72" lengthAdjust="spacingAndGlyphs" fill="#262626">0</text><text x="258.81" y="488.1" font-size="6.72" textLength="11.75" lengthAdjust="spacingAndGlyphs" fill="#262626">500</text><text x="283.52" y="488.1" font-size="6.72" textLength="15.84" lengthAdjust="spacingAndGlyphs" fill="#262626">1000</text><text x="310.29" y="488.1" font-size="6.72" textLength="15.84" lengthAdjust="spacingAndGlyphs" fill="#262626">1500</text><text x="337.02" y="488.1" font-size="6.72" textLength="15.89" lengthAdjust="spacingAndGlyphs" fill="#262626">2000</text><text x="205.76" y="474.15" font-size="6.72" textLength="21.79" lengthAdjust="spacingAndGlyphs" fill="#262626">0.0125</text><text x="205.63" y="458.49" font-size="6.72" textLength="21.9" lengthAdjust="spacingAndGlyphs" fill="#262626">0.0150</text><text x="205.76" y="442.83" font-size="6.72" textLength="21.79" lengthAdjust="spacingAndGlyphs" fill="#262626">0.0175</text><text x="205.63" y="427.17" font-size="6.72" textLength="21.9" lengthAdjust="spacingAndGlyphs" fill="#262626">0.0200</text><text x="205.76" y="411.51" font-size="6.72" textLength="21.79" lengthAdjust="spacingAndGlyphs" fill="#262626">0.0225</text><text x="205.63" y="395.85" font-size="6.72" textLength="21.9" lengthAdjust="spacingAndGlyphs" fill="#262626">0.0250</text></g>
<text x="236.87" y="387.3" font-size="12.77" textLength="118.69" lengthAdjust="spacingAndGlyphs" fill="#262626">p14 Polyanhydrides</text>
<g fill="#0173b2"><text x="281.31" y="398.91" font-size="5.78" textLength="15.6" lengthAdjust="spacingAndGlyphs">0.021</text><text x="296.91" y="398.91" font-size="5.78" textLength="3.45" lengthAdjust="spacingAndGlyphs" font-style="italic">n</text><text x="300.62" y="396.83" font-size="4.04" textLength="11.69" lengthAdjust="spacingAndGlyphs">&#8722;0.06</text><text x="313.52" y="398.91" font-size="5.78" textLength="4.57" lengthAdjust="spacingAndGlyphs">+</text><text x="319.15" y="398.91" font-size="5.78" textLength="12.13" lengthAdjust="spacingAndGlyphs">3.56</text><text x="332.35" y="398.91" font-size="5.78" textLength="4.57" lengthAdjust="spacingAndGlyphs">&#215;</text><text x="337.97" y="398.91" font-size="5.78" textLength="6.93" lengthAdjust="spacingAndGlyphs">10</text><text x="344.96" y="396.83" font-size="4.04" textLength="8.05" lengthAdjust="spacingAndGlyphs">&#8722;12</text></g>
<g fill="#de8f05"><text x="283.49" y="407.73" font-size="5.78" textLength="15.6" lengthAdjust="spacingAndGlyphs">0.021</text><text x="299.09" y="407.73" font-size="5.78" textLength="3.45" lengthAdjust="spacingAndGlyphs" font-style="italic">n</text><text x="302.8" y="405.65" font-size="4.04" textLength="11.69" lengthAdjust="spacingAndGlyphs">&#8722;0.06</text><text x="315.7" y="407.73" font-size="5.78" textLength="4.57" lengthAdjust="spacingAndGlyphs">+</text><text x="321.33" y="407.73" font-size="5.78" textLength="12" lengthAdjust="spacingAndGlyphs">6.86</text><text x="334.39" y="407.73" font-size="5.78" textLength="4.57" lengthAdjust="spacingAndGlyphs">&#215;</text><text x="340.02" y="407.73" font-size="5.78" textLength="6.93" lengthAdjust="spacingAndGlyphs">10</text><text x="347" y="405.65" font-size="4.04" textLength="5.62" lengthAdjust="spacingAndGlyphs">&#8722;6</text></g>
<g fill="#029e73"><text x="283.49" y="416.55" font-size="5.78" textLength="15.6" lengthAdjust="spacingAndGlyphs">0.034</text><text x="299.09" y="416.55" font-size="5.78" textLength="3.45" lengthAdjust="spacingAndGlyphs" font-style="italic">n</text><text x="302.8" y="414.47" font-size="4.04" textLength="11.69" lengthAdjust="spacingAndGlyphs">&#8722;0.13</text><text x="315.7" y="416.55" font-size="5.78" textLength="4.57" lengthAdjust="spacingAndGlyphs">+</text><text x="321.33" y="416.55" font-size="5.78" textLength="12.13" lengthAdjust="spacingAndGlyphs">3.69</text><text x="334.53" y="416.55" font-size="5.78" textLength="4.57" lengthAdjust="spacingAndGlyphs">&#215;</text><text x="340.15" y="416.55" font-size="5.78" textLength="6.93" lengthAdjust="spacingAndGlyphs">10</text><text x="347.14" y="414.47" font-size="4.04" textLength="5.62" lengthAdjust="spacingAndGlyphs">&#8722;5</text></g>
<g clip-path="url(#c14)"><g class="gr"><line x1="398.13" y1="390.3" x2="398.13" y2="478.5"/><line x1="416.64" y1="390.3" x2="416.64" y2="478.5"/><line x1="435.16" y1="390.3" x2="435.16" y2="478.5"/><line x1="453.67" y1="390.3" x2="453.67" y2="478.5"/><line x1="472.18" y1="390.3" x2="472.18" y2="478.5"/><line x1="490.7" y1="390.3" x2="490.7" y2="478.5"/><line x1="509.21" y1="390.3" x2="509.21" y2="478.5"/><line x1="392.3" y1="457.6" x2="520.5" y2="457.6"/><line x1="392.3" y1="433.8" x2="520.5" y2="433.8"/><line x1="392.3" y1="410" x2="520.5" y2="410"/></g><polygon points="398.5,439.04 398.87,444.75 399.98,448.08 401.83,450.46 405.53,453.32 416.64,458.08 435.16,461.88 435.16,466.64 416.64,462.84 405.53,458.08 401.83,455.22 399.98,452.84 398.87,449.51 398.5,443.8" fill="#0173b2" fill-opacity="0.2"/><polyline points="398.5,441.42 398.87,447.13 399.98,450.46 401.83,452.84 405.53,455.7 416.64,460.46 435.16,464.26" fill="none" stroke="#0173b2" stroke-width="1.0"/><g fill="#0173b2" stroke="#fff" stroke-width="0.45"><circle cx="398.5" cy="441.42" r="1.6"/><circle cx="398.87" cy="447.13" r="1.6"/><circle cx="399.98" cy="450.46" r="1.6"/><circle cx="401.83" cy="452.84" r="1.6"/><circle cx="405.53" cy="455.7" r="1.6"/><circle cx="416.64" cy="460.46" r="1.6"/><circle cx="435.16" cy="464.26" r="1.6"/></g><polygon points="398.5,431.42 398.87,437.13 399.98,443.8 401.83,448.08 405.53,451.41 416.64,458.08 435.16,462.84 435.16,468.55 416.64,463.79 405.53,457.12 401.83,453.79 399.98,449.51 398.87,442.84 398.5,437.13" fill="#de8f05" fill-opacity="0.2"/><polyline points="398.5,434.28 398.87,439.99 399.98,446.65 401.83,450.94 405.53,454.27 416.64,460.93 435.16,465.69" fill="none" stroke="#de8f05" stroke-width="1.0"/><path d="M397.25 433.03L399.75 435.53M397.25 435.53L399.75 433.03M397.62 438.74L400.12 441.24M397.62 441.24L400.12 438.74M398.73 445.4L401.23 447.9M398.73 447.9L401.23 445.4M400.58 449.69L403.08 452.19M400.58 452.19L403.08 449.69M404.28 453.02L406.78 455.52M404.28 455.52L406.78 453.02M415.39 459.68L417.89 462.18M415.39 462.18L417.89 459.68M433.91 464.44L436.41 466.94M433.91 466.94L436.41 464.44" stroke="#fff" stroke-width="1.6" fill="none"/><path d="M397.25 433.03L399.75 435.53M397.25 435.53L399.75 433.03M397.62 438.74L400.12 441.24M397.62 441.24L400.12 438.74M398.73 445.4L401.23 447.9M398.73 447.9L401.23 445.4M400.58 449.69L403.08 452.19M400.58 452.19L403.08 449.69M404.28 453.02L406.78 455.52M404.28 455.52L406.78 453.02M415.39 459.68L417.89 462.18M415.39 462.18L417.89 459.68M433.91 464.44L436.41 466.94M433.91 466.94L436.41 464.44" stroke="#de8f05" stroke-width="1.0" fill="none"/><polygon points="401.04,427.14 403.95,439.51 409.78,447.13 421.44,453.79 444.75,459.98 491.36,465.69 491.36,474.26 444.75,470.45 421.44,462.36 409.78,458.55 403.95,451.89 401.04,440.46" fill="#029e73" fill-opacity="0.2"/><polyline points="401.04,433.8 403.95,445.7 409.78,452.84 421.44,458.08 444.75,465.22 491.36,469.98" fill="none" stroke="#029e73" stroke-width="1.0"/><g fill="#029e73" stroke="#fff" stroke-width="0.4"><rect x="399.89" y="432.65" width="2.3" height="2.3"/><rect x="402.8" y="444.55" width="2.3" height="2.3"/><rect x="408.63" y="451.69" width="2.3" height="2.3"/><rect x="420.29" y="456.93" width="2.3" height="2.3"/><rect x="443.6" y="464.07" width="2.3" height="2.3"/><rect x="490.21" y="468.83" width="2.3" height="2.3"/></g><polyline points="398.5,439.22 398.51,439.45 398.53,439.68 398.54,439.91 398.56,440.14 398.58,440.37 398.59,440.6 398.61,440.82 398.63,441.05 398.65,441.27 398.67,441.5 398.69,441.72 398.71,441.95 398.74,442.17 398.76,442.39 398.79,442.62 398.81,442.84 398.84,443.06 398.87,443.28 398.89,443.5 398.92,443.72 398.96,443.94 398.99,444.15 399.02,444.37 399.06,444.59 399.09,444.81 399.13,445.02 399.17,445.24 399.21,445.45 399.25,445.67 399.3,445.88 399.34,446.09 399.39,446.31 399.44,446.52 399.49,446.73 399.54,446.94 399.6,447.15 399.66,447.36 399.72,447.57 399.78,447.78 399.84,447.99 399.91,448.2 399.98,448.4 400.05,448.61 400.13,448.82 400.21,449.02 400.29,449.23 400.37,449.43 400.46,449.64 400.55,449.84 400.65,450.04 400.74,450.24 400.85,450.45 400.95,450.65 401.06,450.85 401.18,451.05 401.3,451.25 401.42,451.45 401.55,451.65 401.68,451.85 401.82,452.04 401.97,452.24 402.12,452.44 402.27,452.63 402.44,452.83 402.6,453.03 402.78,453.22 402.96,453.41 403.15,453.61 403.35,453.8 403.55,454 403.76,454.19 403.98,454.38 404.21,454.57 404.45,454.76 404.7,454.95 404.95,455.14 405.22,455.33 405.5,455.52 405.79,455.71 406.08,455.9 406.4,456.08 406.72,456.27 407.05,456.46 407.4,456.64 407.77,456.83 408.14,457.01 408.53,457.2 408.94,457.38 409.36,457.57 409.8,457.75 410.26,457.93 410.73,458.12 411.23,458.3 411.74,458.48 412.27,458.66 412.82,458.84 413.4,459.02 414,459.2 414.62,459.38 415.26,459.56 415.93,459.73 416.63,459.91 417.35,460.09 418.1,460.27 418.88,460.44 419.69,460.62 420.54,460.79 421.41,460.97 422.32,461.14 423.27,461.32 424.25,461.49 425.27,461.66 426.33,461.84 427.44,462.01 428.58,462.18 429.77,462.35 431.01,462.52 432.29,462.69 433.63,462.86 435.02,463.03 436.46,463.2 437.96,463.37 439.51,463.54 441.13,463.71 442.81,463.87 444.56,464.04 446.37,464.21 448.26,464.37 450.22,464.54 452.26,464.71 454.37,464.87 456.57,465.04 458.86,465.2 461.23,465.36 463.7,465.53 466.26,465.69 468.92,465.85 471.69,466.01 474.57,466.17 477.55,466.34 480.66,466.5 483.88,466.66 487.24,466.82 490.72,466.98 494.34,467.14 498.1,467.29 502.01,467.45 506.07,467.61 510.29,467.77 514.67,467.92" fill="none" stroke="#3030ff" class="dt"/><polyline points="398.5,434.63 398.51,434.93 398.53,435.23 398.54,435.53 398.56,435.83 398.58,436.12 398.59,436.42 398.61,436.71 398.63,437.01 398.65,437.3 398.67,437.59 398.69,437.88 398.71,438.17 398.74,438.46 398.76,438.75 398.79,439.03 398.81,439.32 398.84,439.6 398.87,439.89 398.89,440.17 398.92,440.45 398.96,440.73 398.99,441.01 399.02,441.29 399.06,441.57 399.09,441.85 399.13,442.13 399.17,442.4 399.21,442.68 399.25,442.95 399.3,443.23 399.34,443.5 399.39,443.77 399.44,444.04 399.49,444.31 399.54,444.58 399.6,444.85 399.66,445.12 399.72,445.38 399.78,445.65 399.84,445.91 399.91,446.18 399.98,446.44 400.05,446.7 400.13,446.96 400.21,447.23 400.29,447.49 400.37,447.74 400.46,448 400.55,448.26 400.65,448.52 400.74,448.77 400.85,449.03 400.95,449.28 401.06,449.53 401.18,449.79 401.3,450.04 401.42,450.29 401.55,450.54 401.68,450.79 401.82,451.04 401.97,451.29 402.12,451.53 402.27,451.78 402.44,452.02 402.6,452.27 402.78,452.51 402.96,452.76 403.15,453 403.35,453.24 403.55,453.48 403.76,453.72 403.98,453.96 404.21,454.2 404.45,454.44 404.7,454.67 404.95,454.91 405.22,455.14 405.5,455.38 405.79,455.61 406.08,455.85 406.4,456.08 406.72,456.31 407.05,456.54 407.4,456.77 407.77,457 408.14,457.23 408.53,457.46 408.94,457.68 409.36,457.91 409.8,458.14 410.26,458.36 410.73,458.59 411.23,458.81 411.74,459.03 412.27,459.26 412.82,459.48 413.4,459.7 414,459.92 414.62,460.14 415.26,460.36 415.93,460.57 416.63,460.79 417.35,461.01 418.1,461.23 418.88,461.44 419.69,461.66 420.54,461.87 421.41,462.08 422.32,462.3 423.27,462.51 424.25,462.72 425.27,462.93 426.33,463.14 427.44,463.35 428.58,463.56 429.77,463.76 431.01,463.97 432.29,464.18 433.63,464.38 435.02,464.59 436.46,464.79 437.96,465 439.51,465.2 441.13,465.4 442.81,465.61 444.56,465.81 446.37,466.01 448.26,466.21 450.22,466.41 452.26,466.61 454.37,466.81 456.57,467 458.86,467.2 461.23,467.4 463.7,467.59 466.26,467.79 468.92,467.98 471.69,468.18 474.57,468.37 477.55,468.56 480.66,468.75 483.88,468.95 487.24,469.14 490.72,469.33 494.34,469.52 498.1,469.71 502.01,469.89 506.07,470.08 510.29,470.27 514.67,470.46" fill="none" stroke="#ffa030" class="dt"/><polyline points="398.5,392.93 398.51,393.87 398.53,394.79 398.54,395.71 398.56,396.62 398.58,397.53 398.59,398.42 398.61,399.31 398.63,400.19 398.65,401.06 398.67,401.92 398.69,402.78 398.71,403.63 398.74,404.47 398.76,405.3 398.79,406.13 398.81,406.95 398.84,407.76 398.87,408.56 398.89,409.36 398.92,410.15 398.96,410.94 398.99,411.71 399.02,412.49 399.06,413.25 399.09,414.01 399.13,414.76 399.17,415.5 399.21,416.24 399.25,416.97 399.3,417.69 399.34,418.41 399.39,419.12 399.44,419.83 399.49,420.52 399.54,421.22 399.6,421.9 399.66,422.59 399.72,423.26 399.78,423.93 399.84,424.59 399.91,425.25 399.98,425.9 400.05,426.55 400.13,427.19 400.21,427.82 400.29,428.45 400.37,429.07 400.46,429.69 400.55,430.3 400.65,430.91 400.74,431.51 400.85,432.11 400.95,432.7 401.06,433.29 401.18,433.87 401.3,434.44 401.42,435.01 401.55,435.58 401.68,436.14 401.82,436.7 401.97,437.25 402.12,437.79 402.27,438.33 402.44,438.87 402.6,439.4 402.78,439.93 402.96,440.45 403.15,440.97 403.35,441.48 403.55,441.99 403.76,442.5 403.98,443 404.21,443.49 404.45,443.98 404.7,444.47 404.95,444.95 405.22,445.43 405.5,445.91 405.79,446.38 406.08,446.84 406.4,447.3 406.72,447.76 407.05,448.22 407.4,448.67 407.77,449.11 408.14,449.55 408.53,449.99 408.94,450.43 409.36,450.86 409.8,451.28 410.26,451.7 410.73,452.12 411.23,452.54 411.74,452.95 412.27,453.36 412.82,453.76 413.4,454.17 414,454.56 414.62,454.96 415.26,455.35 415.93,455.73 416.63,456.12 417.35,456.5 418.1,456.88 418.88,457.25 419.69,457.62 420.54,457.99 421.41,458.35 422.32,458.71 423.27,459.07 424.25,459.42 425.27,459.78 426.33,460.12 427.44,460.47 428.58,460.81 429.77,461.15 431.01,461.49 432.29,461.82 433.63,462.15 435.02,462.48 436.46,462.8 437.96,463.12 439.51,463.44 441.13,463.76 442.81,464.07 444.56,464.38 446.37,464.69 448.26,465 450.22,465.3 452.26,465.6 454.37,465.9 456.57,466.19 458.86,466.48 461.23,466.77 463.7,467.06 466.26,467.34 468.92,467.62 471.69,467.9 474.57,468.18 477.55,468.45 480.66,468.73 483.88,469 487.24,469.26 490.72,469.53 494.34,469.79 498.1,470.05 502.01,470.31 506.07,470.57 510.29,470.82 514.67,471.07" fill="none" stroke="#1c951c" class="dt"/></g>
<rect x="392.3" y="390.3" width="128.2" height="88.2" class="sp"/>
<g><text x="396.27" y="488.1" font-size="6.72" textLength="3.72" lengthAdjust="spacingAndGlyphs" fill="#262626">0</text><text x="410.8" y="488.1" font-size="6.72" textLength="11.75" lengthAdjust="spacingAndGlyphs" fill="#262626">500</text><text x="427.24" y="488.1" font-size="6.72" textLength="15.84" lengthAdjust="spacingAndGlyphs" fill="#262626">1000</text><text x="445.76" y="488.1" font-size="6.72" textLength="15.84" lengthAdjust="spacingAndGlyphs" fill="#262626">1500</text><text x="464.22" y="488.1" font-size="6.72" textLength="15.89" lengthAdjust="spacingAndGlyphs" fill="#262626">2000</text><text x="482.73" y="488.1" font-size="6.72" textLength="15.89" lengthAdjust="spacingAndGlyphs" fill="#262626">2500</text><text x="501.36" y="488.1" font-size="6.72" textLength="15.78" lengthAdjust="spacingAndGlyphs" fill="#262626">3000</text><text x="370.04" y="459.95" font-size="6.72" textLength="17.75" lengthAdjust="spacingAndGlyphs" fill="#262626">0.015</text><text x="369.91" y="436.15" font-size="6.72" textLength="17.87" lengthAdjust="spacingAndGlyphs" fill="#262626">0.020</text><text x="370.04" y="412.35" font-size="6.72" textLength="17.75" lengthAdjust="spacingAndGlyphs" fill="#262626">0.025</text></g>
<text x="396.95" y="387.3" font-size="12.77" textLength="119.02" lengthAdjust="spacingAndGlyphs" fill="#262626">p15 Polycarbonates</text>
<g fill="#0173b2"><text x="443.74" y="398.91" font-size="5.78" textLength="15.6" lengthAdjust="spacingAndGlyphs">0.022</text><text x="459.34" y="398.91" font-size="5.78" textLength="3.45" lengthAdjust="spacingAndGlyphs" font-style="italic">n</text><text x="463.05" y="396.83" font-size="4.04" textLength="11.69" lengthAdjust="spacingAndGlyphs">&#8722;0.07</text><text x="475.95" y="398.91" font-size="5.78" textLength="4.57" lengthAdjust="spacingAndGlyphs">+</text><text x="481.58" y="398.91" font-size="5.78" textLength="12.13" lengthAdjust="spacingAndGlyphs">5.93</text><text x="494.78" y="398.91" font-size="5.78" textLength="4.57" lengthAdjust="spacingAndGlyphs">&#215;</text><text x="500.4" y="398.91" font-size="5.78" textLength="6.93" lengthAdjust="spacingAndGlyphs">10</text><text x="507.39" y="396.83" font-size="4.04" textLength="5.62" lengthAdjust="spacingAndGlyphs">&#8722;6</text></g>
<g fill="#de8f05"><text x="441.56" y="407.73" font-size="5.78" textLength="15.6" lengthAdjust="spacingAndGlyphs">0.024</text><text x="457.16" y="407.73" font-size="5.78" textLength="3.45" lengthAdjust="spacingAndGlyphs" font-style="italic">n</text><text x="460.87" y="405.65" font-size="4.04" textLength="11.69" lengthAdjust="spacingAndGlyphs">&#8722;0.08</text><text x="473.77" y="407.73" font-size="5.78" textLength="4.57" lengthAdjust="spacingAndGlyphs">+</text><text x="479.4" y="407.73" font-size="5.78" textLength="12.13" lengthAdjust="spacingAndGlyphs">3.08</text><text x="492.6" y="407.73" font-size="5.78" textLength="4.57" lengthAdjust="spacingAndGlyphs">&#215;</text><text x="498.22" y="407.73" font-size="5.78" textLength="6.93" lengthAdjust="spacingAndGlyphs">10</text><text x="505.21" y="405.65" font-size="4.04" textLength="8.05" lengthAdjust="spacingAndGlyphs">&#8722;10</text></g>
<g fill="#029e73"><text x="444.28" y="416.55" font-size="5.78" textLength="15.6" lengthAdjust="spacingAndGlyphs">0.038</text><text x="459.89" y="416.55" font-size="5.78" textLength="3.45" lengthAdjust="spacingAndGlyphs" font-style="italic">n</text><text x="463.59" y="414.47" font-size="4.04" textLength="11.5" lengthAdjust="spacingAndGlyphs">&#8722;0.23</text><text x="476.31" y="416.55" font-size="5.78" textLength="4.57" lengthAdjust="spacingAndGlyphs">+</text><text x="481.93" y="416.55" font-size="5.78" textLength="11.86" lengthAdjust="spacingAndGlyphs">6.21</text><text x="494.86" y="416.55" font-size="5.78" textLength="4.57" lengthAdjust="spacingAndGlyphs">&#215;</text><text x="500.49" y="416.55" font-size="5.78" textLength="6.93" lengthAdjust="spacingAndGlyphs">10</text><text x="507.47" y="414.47" font-size="4.04" textLength="5.62" lengthAdjust="spacingAndGlyphs">&#8722;3</text></g>
<g clip-path="url(#c15)"><g class="gr"><line x1="558.38" y1="390.3" x2="558.38" y2="478.5"/><line x1="590.37" y1="390.3" x2="590.37" y2="478.5"/><line x1="622.37" y1="390.3" x2="622.37" y2="478.5"/><line x1="654.37" y1="390.3" x2="654.37" y2="478.5"/><line x1="552.55" y1="471.5" x2="680.75" y2="471.5"/><line x1="552.55" y1="448.03" x2="680.75" y2="448.03"/><line x1="552.55" y1="424.57" x2="680.75" y2="424.57"/><line x1="552.55" y1="401.1" x2="680.75" y2="401.1"/></g><polygon points="558.7,441.7 559.02,442.87 559.98,444.75 561.58,446.86 564.78,451.08 574.38,454.13 590.37,457.89 590.37,462.11 574.38,458.36 564.78,455.31 561.58,451.08 559.98,448.97 559.02,447.09 558.7,445.92" fill="#0173b2" fill-opacity="0.2"/><polyline points="558.7,443.81 559.02,444.98 559.98,446.86 561.58,448.97 564.78,453.2 574.38,456.25 590.37,460" fill="none" stroke="#0173b2" stroke-width="1.0"/><g fill="#0173b2" stroke="#fff" stroke-width="0.45"><circle cx="558.7" cy="443.81" r="1.6"/><circle cx="559.02" cy="444.98" r="1.6"/><circle cx="559.98" cy="446.86" r="1.6"/><circle cx="561.58" cy="448.97" r="1.6"/><circle cx="564.78" cy="453.2" r="1.6"/><circle cx="574.38" cy="456.25" r="1.6"/><circle cx="590.37" cy="460" r="1.6"/></g><polygon points="558.7,434.66 559.02,439.21 559.98,443.72 561.58,447.09 564.78,449.61 574.38,452.49 590.37,457.89 590.37,465.87 574.38,460.47 564.78,456.78 561.58,453.67 559.98,450 559.02,445.12 558.7,440.29" fill="#de8f05" fill-opacity="0.2"/><polyline points="558.7,437.47 559.02,442.17 559.98,446.86 561.58,450.38 564.78,453.2 574.38,456.48 590.37,461.88" fill="none" stroke="#de8f05" stroke-width="1.0"/><path d="M557.45 436.22L559.95 438.72M557.45 438.72L559.95 436.22M557.77 440.92L560.27 443.42M557.77 443.42L560.27 440.92M558.73 445.61L561.23 448.11M558.73 448.11L561.23 445.61M560.33 449.13L562.83 451.63M560.33 451.63L562.83 449.13M563.53 451.95L566.03 454.45M563.53 454.45L566.03 451.95M573.13 455.23L575.63 457.73M573.13 457.73L575.63 455.23M589.12 460.63L591.62 463.13M589.12 463.13L591.62 460.63" stroke="#fff" stroke-width="1.6" fill="none"/><path d="M557.45 436.22L559.95 438.72M557.45 438.72L559.95 436.22M557.77 440.92L560.27 443.42M557.77 443.42L560.27 440.92M558.73 445.61L561.23 448.11M558.73 448.11L561.23 445.61M560.33 449.13L562.83 451.63M560.33 451.63L562.83 449.13M563.53 451.95L566.03 454.45M563.53 454.45L566.03 451.95M573.13 455.23L575.63 457.73M573.13 457.73L575.63 455.23M589.12 460.63L591.62 463.13M589.12 463.13L591.62 460.63" stroke="#de8f05" stroke-width="1.0" fill="none"/><polygon points="561.29,426.44 564.2,437.11 570.03,446.38 581.69,454.83 605,461.65 651.61,467.27 651.61,473.85 605,468.68 581.69,460.95 570.03,454.85 564.2,447.22 561.29,438.18" fill="#029e73" fill-opacity="0.2"/><polyline points="561.29,432.31 564.2,442.17 570.03,450.61 581.69,457.89 605,465.16 651.61,470.56" fill="none" stroke="#029e73" stroke-width="1.0"/><g fill="#029e73" stroke="#fff" stroke-width="0.4"><rect x="560.14" y="431.16" width="2.3" height="2.3"/><rect x="563.05" y="441.02" width="2.3" height="2.3"/><rect x="568.88" y="449.46" width="2.3" height="2.3"/><rect x="580.54" y="456.74" width="2.3" height="2.3"/><rect x="603.85" y="464.01" width="2.3" height="2.3"/><rect x="650.46" y="469.41" width="2.3" height="2.3"/></g><polyline points="558.7,435.86 558.71,436.11 558.72,436.36 558.74,436.61 558.75,436.86 558.77,437.1 558.78,437.35 558.8,437.59 558.82,437.84 558.83,438.08 558.85,438.32 558.87,438.57 558.89,438.81 558.91,439.05 558.93,439.29 558.95,439.53 558.98,439.77 559,440 559.03,440.24 559.05,440.48 559.08,440.71 559.11,440.95 559.14,441.18 559.17,441.41 559.2,441.65 559.23,441.88 559.27,442.11 559.3,442.34 559.34,442.57 559.38,442.8 559.42,443.03 559.46,443.26 559.5,443.48 559.55,443.71 559.6,443.94 559.64,444.16 559.7,444.39 559.75,444.61 559.8,444.83 559.86,445.06 559.92,445.28 559.98,445.5 560.05,445.72 560.11,445.94 560.18,446.16 560.25,446.38 560.33,446.59 560.41,446.81 560.49,447.03 560.57,447.24 560.66,447.46 560.75,447.67 560.85,447.89 560.95,448.1 561.05,448.31 561.16,448.52 561.27,448.74 561.39,448.95 561.51,449.16 561.63,449.37 561.76,449.57 561.9,449.78 562.04,449.99 562.19,450.2 562.34,450.4 562.5,450.61 562.66,450.81 562.84,451.02 563.01,451.22 563.2,451.42 563.39,451.63 563.6,451.83 563.8,452.03 564.02,452.23 564.25,452.43 564.48,452.63 564.73,452.83 564.98,453.03 565.25,453.22 565.52,453.42 565.81,453.62 566.11,453.81 566.42,454.01 566.74,454.2 567.08,454.4 567.43,454.59 567.79,454.78 568.17,454.98 568.56,455.17 568.97,455.36 569.39,455.55 569.83,455.74 570.29,455.93 570.77,456.12 571.27,456.31 571.78,456.49 572.32,456.68 572.88,456.87 573.46,457.05 574.07,457.24 574.7,457.42 575.35,457.61 576.03,457.79 576.74,457.98 577.48,458.16 578.24,458.34 579.04,458.52 579.87,458.7 580.73,458.88 581.62,459.06 582.56,459.24 583.53,459.42 584.54,459.6 585.58,459.78 586.68,459.96 587.81,460.13 588.99,460.31 590.22,460.48 591.5,460.66 592.82,460.83 594.2,461.01 595.64,461.18 597.14,461.35 598.69,461.53 600.31,461.7 601.99,461.87 603.74,462.04 605.56,462.21 607.45,462.38 609.42,462.55 611.46,462.72 613.59,462.89 615.81,463.06 618.11,463.22 620.5,463.39 623,463.56 625.59,463.72 628.28,463.89 631.09,464.05 634,464.22 637.03,464.38 640.19,464.54 643.47,464.71 646.88,464.87 650.43,465.03 654.12,465.19 657.96,465.35 661.96,465.51 666.11,465.67 670.43,465.83 674.92,465.99" fill="none" stroke="#3030ff" class="dt"/><polyline points="558.7,434.5 558.71,434.77 558.72,435.03 558.74,435.29 558.75,435.55 558.77,435.81 558.78,436.07 558.8,436.33 558.82,436.59 558.83,436.85 558.85,437.1 558.87,437.36 558.89,437.61 558.91,437.87 558.93,438.12 558.95,438.37 558.98,438.62 559,438.87 559.03,439.12 559.05,439.37 559.08,439.62 559.11,439.87 559.14,440.11 559.17,440.36 559.2,440.61 559.23,440.85 559.27,441.09 559.3,441.34 559.34,441.58 559.38,441.82 559.42,442.06 559.46,442.3 559.5,442.54 559.55,442.78 559.6,443.02 559.64,443.25 559.7,443.49 559.75,443.72 559.8,443.96 559.86,444.19 559.92,444.43 559.98,444.66 560.05,444.89 560.11,445.12 560.18,445.35 560.25,445.58 560.33,445.81 560.41,446.04 560.49,446.26 560.57,446.49 560.66,446.72 560.75,446.94 560.85,447.17 560.95,447.39 561.05,447.61 561.16,447.84 561.27,448.06 561.39,448.28 561.51,448.5 561.63,448.72 561.76,448.94 561.9,449.16 562.04,449.37 562.19,449.59 562.34,449.81 562.5,450.02 562.66,450.24 562.84,450.45 563.01,450.67 563.2,450.88 563.39,451.09 563.6,451.3 563.8,451.51 564.02,451.72 564.25,451.93 564.48,452.14 564.73,452.35 564.98,452.56 565.25,452.76 565.52,452.97 565.81,453.18 566.11,453.38 566.42,453.58 566.74,453.79 567.08,453.99 567.43,454.19 567.79,454.4 568.17,454.6 568.56,454.8 568.97,455 569.39,455.2 569.83,455.39 570.29,455.59 570.77,455.79 571.27,455.99 571.78,456.18 572.32,456.38 572.88,456.57 573.46,456.77 574.07,456.96 574.7,457.15 575.35,457.35 576.03,457.54 576.74,457.73 577.48,457.92 578.24,458.11 579.04,458.3 579.87,458.49 580.73,458.68 581.62,458.86 582.56,459.05 583.53,459.24 584.54,459.42 585.58,459.61 586.68,459.79 587.81,459.98 588.99,460.16 590.22,460.35 591.5,460.53 592.82,460.71 594.2,460.89 595.64,461.07 597.14,461.25 598.69,461.43 600.31,461.61 601.99,461.79 603.74,461.97 605.56,462.14 607.45,462.32 609.42,462.5 611.46,462.67 613.59,462.85 615.81,463.02 618.11,463.2 620.5,463.37 623,463.54 625.59,463.71 628.28,463.89 631.09,464.06 634,464.23 637.03,464.4 640.19,464.57 643.47,464.74 646.88,464.91 650.43,465.07 654.12,465.24 657.96,465.41 661.96,465.58 666.11,465.74 670.43,465.91 674.92,466.07" fill="none" stroke="#ffa030" class="dt"/><polyline points="558.7,394.45 558.71,395.28 558.72,396.09 558.74,396.91 558.75,397.72 558.77,398.52 558.78,399.32 558.8,400.11 558.82,400.89 558.83,401.68 558.85,402.45 558.87,403.22 558.89,403.99 558.91,404.75 558.93,405.51 558.95,406.26 558.98,407 559,407.74 559.03,408.48 559.05,409.21 559.08,409.94 559.11,410.66 559.14,411.37 559.17,412.09 559.2,412.79 559.23,413.49 559.27,414.19 559.3,414.89 559.34,415.57 559.38,416.26 559.42,416.94 559.46,417.61 559.5,418.28 559.55,418.95 559.6,419.61 559.64,420.26 559.7,420.92 559.75,421.57 559.8,422.21 559.86,422.85 559.92,423.48 559.98,424.11 560.05,424.74 560.11,425.36 560.18,425.98 560.25,426.6 560.33,427.21 560.41,427.81 560.49,428.42 560.57,429.01 560.66,429.61 560.75,430.2 560.85,430.78 560.95,431.37 561.05,431.95 561.16,432.52 561.27,433.09 561.39,433.66 561.51,434.22 561.63,434.78 561.76,435.34 561.9,435.89 562.04,436.44 562.19,436.98 562.34,437.52 562.5,438.06 562.66,438.59 562.84,439.12 563.01,439.65 563.2,440.17 563.39,440.69 563.6,441.21 563.8,441.72 564.02,442.23 564.25,442.74 564.48,443.24 564.73,443.74 564.98,444.24 565.25,444.73 565.52,445.22 565.81,445.71 566.11,446.19 566.42,446.67 566.74,447.14 567.08,447.62 567.43,448.09 567.79,448.56 568.17,449.02 568.56,449.48 568.97,449.94 569.39,450.39 569.83,450.84 570.29,451.29 570.77,451.74 571.27,452.18 571.78,452.62 572.32,453.06 572.88,453.49 573.46,453.92 574.07,454.35 574.7,454.78 575.35,455.2 576.03,455.62 576.74,456.04 577.48,456.45 578.24,456.86 579.04,457.27 579.87,457.68 580.73,458.08 581.62,458.48 582.56,458.88 583.53,459.27 584.54,459.67 585.58,460.06 586.68,460.44 587.81,460.83 588.99,461.21 590.22,461.59 591.5,461.97 592.82,462.34 594.2,462.71 595.64,463.08 597.14,463.45 598.69,463.82 600.31,464.18 601.99,464.54 603.74,464.89 605.56,465.25 607.45,465.6 609.42,465.95 611.46,466.3 613.59,466.65 615.81,466.99 618.11,467.33 620.5,467.67 623,468.01 625.59,468.34 628.28,468.67 631.09,469 634,469.33 637.03,469.66 640.19,469.98 643.47,470.3 646.88,470.62 650.43,470.94 654.12,471.25 657.96,471.57 661.96,471.88 666.11,472.18 670.43,472.49 674.92,472.8" fill="none" stroke="#1c951c" class="dt"/></g>
<rect x="552.55" y="390.3" width="128.2" height="88.2" class="sp"/>
<g><text x="556.52" y="488.1" font-size="6.72" textLength="3.72" lengthAdjust="spacingAndGlyphs" fill="#262626">0</text><text x="582.46" y="488.1" font-size="6.72" textLength="15.84" lengthAdjust="spacingAndGlyphs" fill="#262626">1000</text><text x="614.41" y="488.1" font-size="6.72" textLength="15.89" lengthAdjust="spacingAndGlyphs" fill="#262626">2000</text><text x="646.51" y="488.1" font-size="6.72" textLength="15.78" lengthAdjust="spacingAndGlyphs" fill="#262626">3000</text><text x="534.41" y="473.85" font-size="6.72" textLength="13.69" lengthAdjust="spacingAndGlyphs" fill="#262626">0.02</text><text x="534.28" y="450.38" font-size="6.72" textLength="13.78" lengthAdjust="spacingAndGlyphs" fill="#262626">0.03</text><text x="534.13" y="426.92" font-size="6.72" textLength="13.83" lengthAdjust="spacingAndGlyphs" fill="#262626">0.04</text><text x="534.33" y="403.45" font-size="6.72" textLength="13.72" lengthAdjust="spacingAndGlyphs" fill="#262626">0.05</text></g>
<text x="571.03" y="387.3" font-size="12.77" textLength="91.37" lengthAdjust="spacingAndGlyphs" fill="#262626">p16 Polyimines</text>
<g fill="#0173b2"><text x="603.99" y="398.91" font-size="5.78" textLength="15.6" lengthAdjust="spacingAndGlyphs">0.042</text><text x="619.59" y="398.91" font-size="5.78" textLength="3.45" lengthAdjust="spacingAndGlyphs" font-style="italic">n</text><text x="623.3" y="396.83" font-size="4.04" textLength="11.69" lengthAdjust="spacingAndGlyphs">&#8722;0.08</text><text x="636.2" y="398.91" font-size="5.78" textLength="4.57" lengthAdjust="spacingAndGlyphs">+</text><text x="641.83" y="398.91" font-size="5.78" textLength="12.13" lengthAdjust="spacingAndGlyphs">1.04</text><text x="655.03" y="398.91" font-size="5.78" textLength="4.57" lengthAdjust="spacingAndGlyphs">&#215;</text><text x="660.65" y="398.91" font-size="5.78" textLength="6.93" lengthAdjust="spacingAndGlyphs">10</text><text x="667.64" y="396.83" font-size="4.04" textLength="5.62" lengthAdjust="spacingAndGlyphs">&#8722;5</text></g>
<g fill="#de8f05"><text x="601.81" y="407.73" font-size="5.78" textLength="15.6" lengthAdjust="spacingAndGlyphs">0.043</text><text x="617.41" y="407.73" font-size="5.78" textLength="3.45" lengthAdjust="spacingAndGlyphs" font-style="italic">n</text><text x="621.12" y="405.65" font-size="4.04" textLength="11.69" lengthAdjust="spacingAndGlyphs">&#8722;0.08</text><text x="634.02" y="407.73" font-size="5.78" textLength="4.57" lengthAdjust="spacingAndGlyphs">+</text><text x="639.65" y="407.73" font-size="5.78" textLength="12" lengthAdjust="spacingAndGlyphs">1.87</text><text x="652.71" y="407.73" font-size="5.78" textLength="4.57" lengthAdjust="spacingAndGlyphs">&#215;</text><text x="658.34" y="407.73" font-size="5.78" textLength="6.93" lengthAdjust="spacingAndGlyphs">10</text><text x="665.32" y="405.65" font-size="4.04" textLength="8.05" lengthAdjust="spacingAndGlyphs">&#8722;15</text></g>
<g fill="#029e73"><text x="603.99" y="416.55" font-size="5.78" textLength="15.6" lengthAdjust="spacingAndGlyphs">0.078</text><text x="619.59" y="416.55" font-size="5.78" textLength="3.45" lengthAdjust="spacingAndGlyphs" font-style="italic">n</text><text x="623.3" y="414.47" font-size="4.04" textLength="11.69" lengthAdjust="spacingAndGlyphs">&#8722;0.17</text><text x="636.2" y="416.55" font-size="5.78" textLength="4.57" lengthAdjust="spacingAndGlyphs">+</text><text x="641.83" y="416.55" font-size="5.78" textLength="12.13" lengthAdjust="spacingAndGlyphs">9.90</text><text x="655.03" y="416.55" font-size="5.78" textLength="4.57" lengthAdjust="spacingAndGlyphs">&#215;</text><text x="660.65" y="416.55" font-size="5.78" textLength="6.93" lengthAdjust="spacingAndGlyphs">10</text><text x="667.64" y="414.47" font-size="4.04" textLength="5.62" lengthAdjust="spacingAndGlyphs">&#8722;5</text></g>
<g clip-path="url(#c16)"><g class="gr"><line x1="77.53" y1="504.7" x2="77.53" y2="592.9"/><line x1="101.96" y1="504.7" x2="101.96" y2="592.9"/><line x1="126.39" y1="504.7" x2="126.39" y2="592.9"/><line x1="150.83" y1="504.7" x2="150.83" y2="592.9"/><line x1="175.26" y1="504.7" x2="175.26" y2="592.9"/><line x1="199.69" y1="504.7" x2="199.69" y2="592.9"/><line x1="71.7" y1="589.3" x2="199.9" y2="589.3"/><line x1="71.7" y1="573.72" x2="199.9" y2="573.72"/><line x1="71.7" y1="558.14" x2="199.9" y2="558.14"/><line x1="71.7" y1="542.56" x2="199.9" y2="542.56"/><line x1="71.7" y1="526.98" x2="199.9" y2="526.98"/><line x1="71.7" y1="511.4" x2="199.9" y2="511.4"/></g><polygon points="78.02,547.55 78.5,555.65 79.97,558.14 82.41,560.94 87.3,565 101.96,570.29 126.39,573.1 126.39,578.08 101.96,575.28 87.3,569.98 82.41,565.93 79.97,563.13 78.5,560.63 78.02,552.53" fill="#0173b2" fill-opacity="0.2"/><polyline points="78.02,550.04 78.5,558.14 79.97,560.63 82.41,563.44 87.3,567.49 101.96,572.79 126.39,575.59" fill="none" stroke="#0173b2" stroke-width="1.0"/><g fill="#0173b2" stroke="#fff" stroke-width="0.45"><circle cx="78.02" cy="550.04" r="1.6"/><circle cx="78.5" cy="558.14" r="1.6"/><circle cx="79.97" cy="560.63" r="1.6"/><circle cx="82.41" cy="563.44" r="1.6"/><circle cx="87.3" cy="567.49" r="1.6"/><circle cx="101.96" cy="572.79" r="1.6"/><circle cx="126.39" cy="575.59" r="1.6"/></g><polygon points="78.02,542.87 78.5,549.1 79.97,552.84 82.41,556.58 87.3,562.19 101.96,568.42 126.39,571.54 126.39,576.52 101.96,573.41 87.3,567.18 82.41,561.57 79.97,557.83 78.5,554.09 78.02,547.86" fill="#de8f05" fill-opacity="0.2"/><polyline points="78.02,545.36 78.5,551.6 79.97,555.34 82.41,559.07 87.3,564.68 101.96,570.92 126.39,574.03" fill="none" stroke="#de8f05" stroke-width="1.0"/><path d="M76.77 544.11L79.27 546.61M76.77 546.61L79.27 544.11M77.25 550.35L79.75 552.85M77.25 552.85L79.75 550.35M78.72 554.09L81.22 556.59M78.72 556.59L81.22 554.09M81.16 557.82L83.66 560.32M81.16 560.32L83.66 557.82M86.05 563.43L88.55 565.93M86.05 565.93L88.55 563.43M100.71 569.67L103.21 572.17M100.71 572.17L103.21 569.67M125.14 572.78L127.64 575.28M125.14 575.28L127.64 572.78" stroke="#fff" stroke-width="1.6" fill="none"/><path d="M76.77 544.11L79.27 546.61M76.77 546.61L79.27 544.11M77.25 550.35L79.75 552.85M77.25 552.85L79.75 550.35M78.72 554.09L81.22 556.59M78.72 556.59L81.22 554.09M81.16 557.82L83.66 560.32M81.16 560.32L83.66 557.82M86.05 563.43L88.55 565.93M86.05 565.93L88.55 563.43M100.71 569.67L103.21 572.17M100.71 572.17L103.21 569.67M125.14 572.78L127.64 575.28M125.14 575.28L127.64 572.78" stroke="#de8f05" stroke-width="1.0" fill="none"/><polygon points="80.44,536.95 83.35,543.5 89.18,551.6 100.84,556.89 124.15,559.07 170.76,560.32 170.76,588.99 124.15,584 100.84,579.95 89.18,574.03 83.35,565.3 80.44,558.14" fill="#029e73" fill-opacity="0.2"/><polyline points="80.44,547.55 83.35,554.4 89.18,562.81 100.84,568.42 124.15,571.54 170.76,574.65" fill="none" stroke="#029e73" stroke-width="1.0"/><g fill="#029e73" stroke="#fff" stroke-width="0.4"><rect x="79.29" y="546.4" width="2.3" height="2.3"/><rect x="82.2" y="553.25" width="2.3" height="2.3"/><rect x="88.03" y="561.66" width="2.3" height="2.3"/><rect x="99.69" y="567.27" width="2.3" height="2.3"/><rect x="123" y="570.39" width="2.3" height="2.3"/><rect x="169.61" y="573.5" width="2.3" height="2.3"/></g><polyline points="78.02,553.06 78.03,553.26 78.05,553.46 78.07,553.66 78.09,553.86 78.11,554.06 78.14,554.25 78.16,554.45 78.18,554.65 78.21,554.84 78.23,555.04 78.26,555.23 78.28,555.43 78.31,555.62 78.34,555.81 78.37,556.01 78.4,556.2 78.44,556.39 78.47,556.58 78.5,556.77 78.54,556.97 78.58,557.16 78.62,557.35 78.66,557.53 78.7,557.72 78.74,557.91 78.79,558.1 78.84,558.29 78.88,558.47 78.94,558.66 78.99,558.85 79.04,559.03 79.1,559.22 79.16,559.4 79.22,559.59 79.28,559.77 79.35,559.95 79.41,560.14 79.48,560.32 79.56,560.5 79.63,560.68 79.71,560.87 79.79,561.05 79.87,561.23 79.96,561.41 80.05,561.59 80.15,561.77 80.24,561.94 80.34,562.12 80.45,562.3 80.56,562.48 80.67,562.65 80.79,562.83 80.91,563.01 81.03,563.18 81.16,563.36 81.3,563.53 81.44,563.71 81.59,563.88 81.74,564.06 81.89,564.23 82.05,564.4 82.22,564.57 82.4,564.75 82.58,564.92 82.77,565.09 82.96,565.26 83.16,565.43 83.37,565.6 83.59,565.77 83.82,565.94 84.05,566.11 84.29,566.27 84.54,566.44 84.8,566.61 85.07,566.78 85.35,566.94 85.65,567.11 85.95,567.28 86.26,567.44 86.58,567.61 86.92,567.77 87.27,567.93 87.63,568.1 88.01,568.26 88.4,568.43 88.8,568.59 89.22,568.75 89.66,568.91 90.11,569.07 90.57,569.23 91.06,569.4 91.56,569.56 92.08,569.72 92.62,569.88 93.19,570.03 93.77,570.19 94.37,570.35 95,570.51 95.65,570.67 96.32,570.82 97.02,570.98 97.74,571.14 98.49,571.29 99.27,571.45 100.08,571.61 100.92,571.76 101.79,571.92 102.69,572.07 103.63,572.22 104.6,572.38 105.6,572.53 106.65,572.68 107.73,572.84 108.85,572.99 110.02,573.14 111.22,573.29 112.48,573.44 113.78,573.59 115.12,573.74 116.52,573.89 117.97,574.04 119.47,574.19 121.03,574.34 122.65,574.49 124.33,574.64 126.07,574.78 127.87,574.93 129.74,575.08 131.68,575.22 133.7,575.37 135.78,575.52 137.95,575.66 140.2,575.81 142.52,575.95 144.94,576.1 147.45,576.24 150.05,576.39 152.74,576.53 155.54,576.67 158.44,576.81 161.44,576.96 164.56,577.1 167.8,577.24 171.15,577.38 174.63,577.52 178.24,577.66 181.99,577.81 185.87,577.95 189.9,578.08 194.07,578.22" fill="none" stroke="#3030ff" class="dt"/><polyline points="78.02,545.33 78.03,545.59 78.05,545.86 78.07,546.12 78.09,546.38 78.11,546.64 78.14,546.9 78.16,547.16 78.18,547.42 78.21,547.68 78.23,547.94 78.26,548.19 78.28,548.45 78.31,548.71 78.34,548.96 78.37,549.21 78.4,549.47 78.44,549.72 78.47,549.97 78.5,550.22 78.54,550.47 78.58,550.72 78.62,550.97 78.66,551.22 78.7,551.47 78.74,551.71 78.79,551.96 78.84,552.2 78.88,552.45 78.94,552.69 78.99,552.94 79.04,553.18 79.1,553.42 79.16,553.66 79.22,553.9 79.28,554.14 79.35,554.38 79.41,554.62 79.48,554.85 79.56,555.09 79.63,555.33 79.71,555.56 79.79,555.8 79.87,556.03 79.96,556.26 80.05,556.5 80.15,556.73 80.24,556.96 80.34,557.19 80.45,557.42 80.56,557.65 80.67,557.88 80.79,558.11 80.91,558.33 81.03,558.56 81.16,558.79 81.3,559.01 81.44,559.23 81.59,559.46 81.74,559.68 81.89,559.9 82.05,560.13 82.22,560.35 82.4,560.57 82.58,560.79 82.77,561.01 82.96,561.23 83.16,561.44 83.37,561.66 83.59,561.88 83.82,562.1 84.05,562.31 84.29,562.53 84.54,562.74 84.8,562.95 85.07,563.17 85.35,563.38 85.65,563.59 85.95,563.8 86.26,564.01 86.58,564.22 86.92,564.43 87.27,564.64 87.63,564.85 88.01,565.06 88.4,565.26 88.8,565.47 89.22,565.68 89.66,565.88 90.11,566.09 90.57,566.29 91.06,566.49 91.56,566.7 92.08,566.9 92.62,567.1 93.19,567.3 93.77,567.5 94.37,567.7 95,567.9 95.65,568.1 96.32,568.3 97.02,568.49 97.74,568.69 98.49,568.89 99.27,569.08 100.08,569.28 100.92,569.47 101.79,569.67 102.69,569.86 103.63,570.05 104.6,570.25 105.6,570.44 106.65,570.63 107.73,570.82 108.85,571.01 110.02,571.2 111.22,571.39 112.48,571.58 113.78,571.76 115.12,571.95 116.52,572.14 117.97,572.33 119.47,572.51 121.03,572.7 122.65,572.88 124.33,573.07 126.07,573.25 127.87,573.43 129.74,573.61 131.68,573.8 133.7,573.98 135.78,574.16 137.95,574.34 140.2,574.52 142.52,574.7 144.94,574.88 147.45,575.06 150.05,575.23 152.74,575.41 155.54,575.59 158.44,575.76 161.44,575.94 164.56,576.11 167.8,576.29 171.15,576.46 174.63,576.64 178.24,576.81 181.99,576.98 185.87,577.16 189.9,577.33 194.07,577.5" fill="none" stroke="#ffa030" class="dt"/><polyline points="78.02,509.74 78.03,510.84 78.05,511.92 78.07,512.99 78.09,514.04 78.11,515.07 78.14,516.09 78.16,517.1 78.18,518.09 78.21,519.06 78.23,520.02 78.26,520.97 78.28,521.9 78.31,522.82 78.34,523.72 78.37,524.61 78.4,525.49 78.44,526.35 78.47,527.2 78.5,528.04 78.54,528.87 78.58,529.68 78.62,530.49 78.66,531.28 78.7,532.05 78.74,532.82 78.79,533.58 78.84,534.32 78.88,535.05 78.94,535.78 78.99,536.49 79.04,537.19 79.1,537.88 79.16,538.56 79.22,539.23 79.28,539.89 79.35,540.54 79.41,541.18 79.48,541.81 79.56,542.44 79.63,543.05 79.71,543.65 79.79,544.25 79.87,544.83 79.96,545.41 80.05,545.98 80.15,546.54 80.24,547.09 80.34,547.63 80.45,548.17 80.56,548.7 80.67,549.22 80.79,549.73 80.91,550.23 81.03,550.73 81.16,551.22 81.3,551.7 81.44,552.18 81.59,552.64 81.74,553.11 81.89,553.56 82.05,554.01 82.22,554.45 82.4,554.88 82.58,555.31 82.77,555.73 82.96,556.15 83.16,556.56 83.37,556.96 83.59,557.36 83.82,557.75 84.05,558.13 84.29,558.51 84.54,558.89 84.8,559.25 85.07,559.62 85.35,559.98 85.65,560.33 85.95,560.67 86.26,561.02 86.58,561.35 86.92,561.68 87.27,562.01 87.63,562.33 88.01,562.65 88.4,562.96 88.8,563.27 89.22,563.57 89.66,563.87 90.11,564.17 90.57,564.46 91.06,564.74 91.56,565.02 92.08,565.3 92.62,565.57 93.19,565.84 93.77,566.11 94.37,566.37 95,566.63 95.65,566.88 96.32,567.13 97.02,567.38 97.74,567.62 98.49,567.86 99.27,568.09 100.08,568.32 100.92,568.55 101.79,568.78 102.69,569 103.63,569.22 104.6,569.43 105.6,569.64 106.65,569.85 107.73,570.06 108.85,570.26 110.02,570.46 111.22,570.66 112.48,570.85 113.78,571.04 115.12,571.23 116.52,571.41 117.97,571.6 119.47,571.78 121.03,571.95 122.65,572.13 124.33,572.3 126.07,572.47 127.87,572.63 129.74,572.8 131.68,572.96 133.7,573.12 135.78,573.28 137.95,573.43 140.2,573.58 142.52,573.73 144.94,573.88 147.45,574.03 150.05,574.17 152.74,574.31 155.54,574.45 158.44,574.59 161.44,574.72 164.56,574.86 167.8,574.99 171.15,575.12 174.63,575.25 178.24,575.37 181.99,575.49 185.87,575.62 189.9,575.74 194.07,575.85" fill="none" stroke="#1c951c" class="dt"/></g>
<rect x="71.7" y="504.7" width="128.2" height="88.2" class="sp"/>
<g><text x="75.67" y="602.5" font-size="6.72" textLength="3.72" lengthAdjust="spacingAndGlyphs" fill="#262626">0</text><text x="96.12" y="602.5" font-size="6.72" textLength="11.75" lengthAdjust="spacingAndGlyphs" fill="#262626">500</text><text x="118.48" y="602.5" font-size="6.72" textLength="15.84" lengthAdjust="spacingAndGlyphs" fill="#262626">1000</text><text x="142.91" y="602.5" font-size="6.72" textLength="15.84" lengthAdjust="spacingAndGlyphs" fill="#262626">1500</text><text x="167.3" y="602.5" font-size="6.72" textLength="15.89" lengthAdjust="spacingAndGlyphs" fill="#262626">2000</text><text x="191.73" y="602.5" font-size="6.72" textLength="15.89" lengthAdjust="spacingAndGlyphs" fill="#262626">2500</text><text x="49.44" y="591.65" font-size="6.72" textLength="17.75" lengthAdjust="spacingAndGlyphs" fill="#262626">0.015</text><text x="49.31" y="576.07" font-size="6.72" textLength="17.87" lengthAdjust="spacingAndGlyphs" fill="#262626">0.020</text><text x="49.44" y="560.49" font-size="6.72" textLength="17.75" lengthAdjust="spacingAndGlyphs" fill="#262626">0.025</text><text x="49.31" y="544.91" font-size="6.72" textLength="17.87" lengthAdjust="spacingAndGlyphs" fill="#262626">0.030</text><text x="49.44" y="529.33" font-size="6.72" textLength="17.75" lengthAdjust="spacingAndGlyphs" fill="#262626">0.035</text><text x="49.31" y="513.75" font-size="6.72" textLength="17.87" lengthAdjust="spacingAndGlyphs" fill="#262626">0.040</text></g>
<text x="66.74" y="501.7" font-size="12.77" textLength="138.26" lengthAdjust="spacingAndGlyphs" fill="#262626">p18 Polyphosphazenes</text>
<g fill="#0173b2"><text x="120.96" y="513.31" font-size="5.78" textLength="15.6" lengthAdjust="spacingAndGlyphs">0.031</text><text x="136.56" y="513.31" font-size="5.78" textLength="3.45" lengthAdjust="spacingAndGlyphs" font-style="italic">n</text><text x="140.27" y="511.23" font-size="4.04" textLength="11.69" lengthAdjust="spacingAndGlyphs">&#8722;0.07</text><text x="153.17" y="513.31" font-size="5.78" textLength="4.57" lengthAdjust="spacingAndGlyphs">+</text><text x="158.8" y="513.31" font-size="5.78" textLength="12.13" lengthAdjust="spacingAndGlyphs">1.62</text><text x="172" y="513.31" font-size="5.78" textLength="4.57" lengthAdjust="spacingAndGlyphs">&#215;</text><text x="177.62" y="513.31" font-size="5.78" textLength="6.93" lengthAdjust="spacingAndGlyphs">10</text><text x="184.61" y="511.23" font-size="4.04" textLength="8.05" lengthAdjust="spacingAndGlyphs">&#8722;13</text></g>
<g fill="#de8f05"><text x="120.96" y="522.13" font-size="5.78" textLength="15.6" lengthAdjust="spacingAndGlyphs">0.035</text><text x="136.56" y="522.13" font-size="5.78" textLength="3.45" lengthAdjust="spacingAndGlyphs" font-style="italic">n</text><text x="140.27" y="520.05" font-size="4.04" textLength="11.69" lengthAdjust="spacingAndGlyphs">&#8722;0.08</text><text x="153.17" y="522.13" font-size="5.78" textLength="4.57" lengthAdjust="spacingAndGlyphs">+</text><text x="158.8" y="522.13" font-size="5.78" textLength="11.86" lengthAdjust="spacingAndGlyphs">3.21</text><text x="171.72" y="522.13" font-size="5.78" textLength="4.57" lengthAdjust="spacingAndGlyphs">&#215;</text><text x="177.35" y="522.13" font-size="5.78" textLength="6.93" lengthAdjust="spacingAndGlyphs">10</text><text x="184.34" y="520.05" font-size="4.04" textLength="8.05" lengthAdjust="spacingAndGlyphs">&#8722;10</text></g>
<g fill="#029e73"><text x="123.14" y="530.95" font-size="5.78" textLength="15.6" lengthAdjust="spacingAndGlyphs">0.061</text><text x="138.74" y="530.95" font-size="5.78" textLength="3.45" lengthAdjust="spacingAndGlyphs" font-style="italic">n</text><text x="142.45" y="528.87" font-size="4.04" textLength="11.69" lengthAdjust="spacingAndGlyphs">&#8722;0.41</text><text x="155.35" y="530.95" font-size="5.78" textLength="4.57" lengthAdjust="spacingAndGlyphs">+</text><text x="160.98" y="530.95" font-size="5.78" textLength="12.13" lengthAdjust="spacingAndGlyphs">1.68</text><text x="174.18" y="530.95" font-size="5.78" textLength="4.57" lengthAdjust="spacingAndGlyphs">&#215;</text><text x="179.8" y="530.95" font-size="5.78" textLength="6.93" lengthAdjust="spacingAndGlyphs">10</text><text x="186.79" y="528.87" font-size="4.04" textLength="5.62" lengthAdjust="spacingAndGlyphs">&#8722;2</text></g>
<g clip-path="url(#c17)"><g class="gr"><line x1="237.88" y1="504.7" x2="237.88" y2="592.9"/><line x1="258.62" y1="504.7" x2="258.62" y2="592.9"/><line x1="279.37" y1="504.7" x2="279.37" y2="592.9"/><line x1="300.12" y1="504.7" x2="300.12" y2="592.9"/><line x1="320.86" y1="504.7" x2="320.86" y2="592.9"/><line x1="341.61" y1="504.7" x2="341.61" y2="592.9"/><line x1="232.05" y1="587.9" x2="360.25" y2="587.9"/><line x1="232.05" y1="569.17" x2="360.25" y2="569.17"/><line x1="232.05" y1="550.45" x2="360.25" y2="550.45"/><line x1="232.05" y1="531.73" x2="360.25" y2="531.73"/><line x1="232.05" y1="513" x2="360.25" y2="513"/></g><polygon points="238.29,561.31 238.71,563.93 239.95,565.8 242.03,568.8 246.18,571.8 258.62,575.92 279.37,579.66 279.37,584.15 258.62,580.41 246.18,576.29 242.03,573.29 239.95,570.3 238.71,568.43 238.29,565.8" fill="#0173b2" fill-opacity="0.2"/><polyline points="238.29,563.56 238.71,566.18 239.95,568.05 242.03,571.05 246.18,574.04 258.62,578.16 279.37,581.91" fill="none" stroke="#0173b2" stroke-width="1.0"/><g fill="#0173b2" stroke="#fff" stroke-width="0.45"><circle cx="238.29" cy="563.56" r="1.6"/><circle cx="238.71" cy="566.18" r="1.6"/><circle cx="239.95" cy="568.05" r="1.6"/><circle cx="242.03" cy="571.05" r="1.6"/><circle cx="246.18" cy="574.04" r="1.6"/><circle cx="258.62" cy="578.16" r="1.6"/><circle cx="279.37" cy="581.91" r="1.6"/></g><polygon points="238.29,554.94 238.71,556.82 239.95,559.06 242.03,563.93 246.18,568.43 258.62,571.8 279.37,577.04 279.37,583.03 258.62,577.79 246.18,574.42 242.03,569.92 239.95,565.06 238.71,562.81 238.29,560.94" fill="#de8f05" fill-opacity="0.2"/><polyline points="238.29,557.94 238.71,559.81 239.95,562.06 242.03,566.93 246.18,571.42 258.62,574.79 279.37,580.04" fill="none" stroke="#de8f05" stroke-width="1.0"/><path d="M237.04 556.69L239.54 559.19M237.04 559.19L239.54 556.69M237.46 558.56L239.96 561.06M237.46 561.06L239.96 558.56M238.7 560.81L241.2 563.31M238.7 563.31L241.2 560.81M240.78 565.68L243.28 568.18M240.78 568.18L243.28 565.68M244.93 570.17L247.43 572.67M244.93 572.67L247.43 570.17M257.37 573.54L259.87 576.04M257.37 576.04L259.87 573.54M278.12 578.79L280.62 581.29M278.12 581.29L280.62 578.79" stroke="#fff" stroke-width="1.6" fill="none"/><path d="M237.04 556.69L239.54 559.19M237.04 559.19L239.54 556.69M237.46 558.56L239.96 561.06M237.46 561.06L239.96 558.56M238.7 560.81L241.2 563.31M238.7 563.31L241.2 560.81M240.78 565.68L243.28 568.18M240.78 568.18L243.28 565.68M244.93 570.17L247.43 572.67M244.93 572.67L247.43 570.17M257.37 573.54L259.87 576.04M257.37 576.04L259.87 573.54M278.12 578.79L280.62 581.29M278.12 581.29L280.62 578.79" stroke="#de8f05" stroke-width="1.0" fill="none"/><polygon points="240.79,537.35 243.7,547.08 249.53,559.44 261.19,567.3 284.5,576.29 331.11,582.28 331.11,589.02 284.5,583.78 261.19,577.04 249.53,569.92 243.7,559.81 240.79,552.32" fill="#029e73" fill-opacity="0.2"/><polyline points="240.79,544.83 243.7,553.45 249.53,564.68 261.19,572.17 284.5,580.04 331.11,585.65" fill="none" stroke="#029e73" stroke-width="1.0"/><g fill="#029e73" stroke="#fff" stroke-width="0.4"><rect x="239.64" y="543.68" width="2.3" height="2.3"/><rect x="242.55" y="552.3" width="2.3" height="2.3"/><rect x="248.38" y="563.53" width="2.3" height="2.3"/><rect x="260.04" y="571.02" width="2.3" height="2.3"/><rect x="283.35" y="578.89" width="2.3" height="2.3"/><rect x="329.96" y="584.5" width="2.3" height="2.3"/></g><polyline points="238.29,560.01 238.31,560.22 238.32,560.42 238.34,560.62 238.36,560.82 238.38,561.02 238.4,561.22 238.42,561.42 238.44,561.62 238.46,561.81 238.48,562.01 238.5,562.21 238.53,562.41 238.55,562.6 238.58,562.8 238.61,562.99 238.63,563.19 238.66,563.38 238.69,563.58 238.72,563.77 238.76,563.96 238.79,564.15 238.83,564.35 238.86,564.54 238.9,564.73 238.94,564.92 238.98,565.11 239.02,565.3 239.07,565.49 239.11,565.68 239.16,565.86 239.21,566.05 239.26,566.24 239.31,566.43 239.37,566.61 239.42,566.8 239.48,566.99 239.54,567.17 239.61,567.35 239.67,567.54 239.74,567.72 239.81,567.91 239.89,568.09 239.97,568.27 240.05,568.45 240.13,568.64 240.22,568.82 240.3,569 240.4,569.18 240.49,569.36 240.59,569.54 240.7,569.72 240.81,569.89 240.92,570.07 241.04,570.25 241.16,570.43 241.28,570.6 241.41,570.78 241.55,570.96 241.69,571.13 241.83,571.31 241.99,571.48 242.14,571.66 242.31,571.83 242.48,572 242.65,572.18 242.84,572.35 243.03,572.52 243.22,572.69 243.43,572.87 243.64,573.04 243.86,573.21 244.09,573.38 244.33,573.55 244.57,573.72 244.83,573.89 245.1,574.05 245.37,574.22 245.66,574.39 245.96,574.56 246.27,574.72 246.59,574.89 246.92,575.06 247.27,575.22 247.63,575.39 248,575.55 248.39,575.72 248.79,575.88 249.21,576.05 249.65,576.21 250.1,576.37 250.57,576.53 251.05,576.7 251.56,576.86 252.08,577.02 252.62,577.18 253.19,577.34 253.78,577.5 254.38,577.66 255.02,577.82 255.67,577.98 256.35,578.14 257.06,578.3 257.8,578.46 258.56,578.61 259.35,578.77 260.18,578.93 261.03,579.08 261.92,579.24 262.84,579.4 263.79,579.55 264.79,579.71 265.82,579.86 266.89,580.01 268,580.17 269.15,580.32 270.35,580.47 271.59,580.63 272.88,580.78 274.22,580.93 275.62,581.08 277.06,581.23 278.56,581.39 280.12,581.54 281.74,581.69 283.42,581.84 285.16,581.99 286.97,582.13 288.85,582.28 290.81,582.43 292.83,582.58 294.94,582.73 297.13,582.87 299.39,583.02 301.75,583.17 304.2,583.31 306.74,583.46 309.37,583.61 312.11,583.75 314.96,583.9 317.91,584.04 320.97,584.18 324.16,584.33 327.46,584.47 330.89,584.62 334.46,584.76 338.15,584.9 342,585.04 345.98,585.18 350.12,585.33 354.42,585.47" fill="none" stroke="#3030ff" class="dt"/><polyline points="238.29,555.9 238.31,556.11 238.32,556.32 238.34,556.52 238.36,556.73 238.38,556.93 238.4,557.14 238.42,557.34 238.44,557.54 238.46,557.75 238.48,557.95 238.5,558.15 238.53,558.35 238.55,558.55 238.58,558.75 238.61,558.95 238.63,559.15 238.66,559.35 238.69,559.55 238.72,559.75 238.76,559.95 238.79,560.14 238.83,560.34 238.86,560.54 238.9,560.73 238.94,560.93 238.98,561.12 239.02,561.32 239.07,561.51 239.11,561.71 239.16,561.9 239.21,562.09 239.26,562.28 239.31,562.48 239.37,562.67 239.42,562.86 239.48,563.05 239.54,563.24 239.61,563.43 239.67,563.62 239.74,563.81 239.81,563.99 239.89,564.18 239.97,564.37 240.05,564.56 240.13,564.74 240.22,564.93 240.3,565.11 240.4,565.3 240.49,565.48 240.59,565.67 240.7,565.85 240.81,566.03 240.92,566.22 241.04,566.4 241.16,566.58 241.28,566.76 241.41,566.95 241.55,567.13 241.69,567.31 241.83,567.49 241.99,567.67 242.14,567.84 242.31,568.02 242.48,568.2 242.65,568.38 242.84,568.56 243.03,568.73 243.22,568.91 243.43,569.09 243.64,569.26 243.86,569.44 244.09,569.61 244.33,569.79 244.57,569.96 244.83,570.13 245.1,570.31 245.37,570.48 245.66,570.65 245.96,570.82 246.27,571 246.59,571.17 246.92,571.34 247.27,571.51 247.63,571.68 248,571.85 248.39,572.02 248.79,572.19 249.21,572.35 249.65,572.52 250.1,572.69 250.57,572.86 251.05,573.02 251.56,573.19 252.08,573.36 252.62,573.52 253.19,573.69 253.78,573.85 254.38,574.02 255.02,574.18 255.67,574.34 256.35,574.51 257.06,574.67 257.8,574.83 258.56,574.99 259.35,575.16 260.18,575.32 261.03,575.48 261.92,575.64 262.84,575.8 263.79,575.96 264.79,576.12 265.82,576.28 266.89,576.44 268,576.59 269.15,576.75 270.35,576.91 271.59,577.07 272.88,577.22 274.22,577.38 275.62,577.54 277.06,577.69 278.56,577.85 280.12,578 281.74,578.16 283.42,578.31 285.16,578.46 286.97,578.62 288.85,578.77 290.81,578.92 292.83,579.08 294.94,579.23 297.13,579.38 299.39,579.53 301.75,579.68 304.2,579.83 306.74,579.98 309.37,580.13 312.11,580.28 314.96,580.43 317.91,580.58 320.97,580.73 324.16,580.88 327.46,581.02 330.89,581.17 334.46,581.32 338.15,581.47 342,581.61 345.98,581.76 350.12,581.9 354.42,582.05" fill="none" stroke="#ffa030" class="dt"/><polyline points="238.29,508.02 238.31,508.82 238.32,509.62 238.34,510.41 238.36,511.2 238.38,511.98 238.4,512.76 238.42,513.53 238.44,514.3 238.46,515.06 238.48,515.82 238.5,516.58 238.53,517.33 238.55,518.07 238.58,518.82 238.61,519.55 238.63,520.29 238.66,521.02 238.69,521.74 238.72,522.46 238.76,523.18 238.79,523.89 238.83,524.59 238.86,525.3 238.9,526 238.94,526.69 238.98,527.38 239.02,528.07 239.07,528.75 239.11,529.43 239.16,530.11 239.21,530.78 239.26,531.44 239.31,532.11 239.37,532.76 239.42,533.42 239.48,534.07 239.54,534.72 239.61,535.36 239.67,536 239.74,536.64 239.81,537.27 239.89,537.9 239.97,538.52 240.05,539.14 240.13,539.76 240.22,540.37 240.3,540.98 240.4,541.59 240.49,542.19 240.59,542.79 240.7,543.39 240.81,543.98 240.92,544.57 241.04,545.15 241.16,545.73 241.28,546.31 241.41,546.89 241.55,547.46 241.69,548.02 241.83,548.59 241.99,549.15 242.14,549.71 242.31,550.26 242.48,550.81 242.65,551.36 242.84,551.91 243.03,552.45 243.22,552.99 243.43,553.52 243.64,554.05 243.86,554.58 244.09,555.11 244.33,555.63 244.57,556.15 244.83,556.67 245.1,557.18 245.37,557.69 245.66,558.2 245.96,558.7 246.27,559.2 246.59,559.7 246.92,560.2 247.27,560.69 247.63,561.18 248,561.67 248.39,562.15 248.79,562.63 249.21,563.11 249.65,563.58 250.1,564.06 250.57,564.53 251.05,564.99 251.56,565.46 252.08,565.92 252.62,566.38 253.19,566.83 253.78,567.29 254.38,567.74 255.02,568.18 255.67,568.63 256.35,569.07 257.06,569.51 257.8,569.95 258.56,570.38 259.35,570.82 260.18,571.24 261.03,571.67 261.92,572.1 262.84,572.52 263.79,572.94 264.79,573.35 265.82,573.77 266.89,574.18 268,574.59 269.15,575 270.35,575.4 271.59,575.81 272.88,576.21 274.22,576.6 275.62,577 277.06,577.39 278.56,577.78 280.12,578.17 281.74,578.56 283.42,578.94 285.16,579.32 286.97,579.7 288.85,580.08 290.81,580.45 292.83,580.83 294.94,581.2 297.13,581.56 299.39,581.93 301.75,582.29 304.2,582.65 306.74,583.01 309.37,583.37 312.11,583.73 314.96,584.08 317.91,584.43 320.97,584.78 324.16,585.13 327.46,585.47 330.89,585.81 334.46,586.16 338.15,586.49 342,586.83 345.98,587.17 350.12,587.5 354.42,587.83" fill="none" stroke="#1c951c" class="dt"/></g>
<rect x="232.05" y="504.7" width="128.2" height="88.2" class="sp"/>
<g><text x="236.02" y="602.5" font-size="6.72" textLength="3.72" lengthAdjust="spacingAndGlyphs" fill="#262626">0</text><text x="252.78" y="602.5" font-size="6.72" textLength="11.75" lengthAdjust="spacingAndGlyphs" fill="#262626">500</text><text x="271.46" y="602.5" font-size="6.72" textLength="15.84" lengthAdjust="spacingAndGlyphs" fill="#262626">1000</text><text x="292.2" y="602.5" font-size="6.72" textLength="15.84" lengthAdjust="spacingAndGlyphs" fill="#262626">1500</text><text x="312.9" y="602.5" font-size="6.72" textLength="15.89" lengthAdjust="spacingAndGlyphs" fill="#262626">2000</text><text x="333.65" y="602.5" font-size="6.72" textLength="15.89" lengthAdjust="spacingAndGlyphs" fill="#262626">2500</text><text x="209.79" y="590.25" font-size="6.72" textLength="17.75" lengthAdjust="spacingAndGlyphs" fill="#262626">0.015</text><text x="209.66" y="571.52" font-size="6.72" textLength="17.87" lengthAdjust="spacingAndGlyphs" fill="#262626">0.020</text><text x="209.79" y="552.8" font-size="6.72" textLength="17.75" lengthAdjust="spacingAndGlyphs" fill="#262626">0.025</text><text x="209.66" y="534.08" font-size="6.72" textLength="17.87" lengthAdjust="spacingAndGlyphs" fill="#262626">0.030</text><text x="209.79" y="515.35" font-size="6.72" textLength="17.75" lengthAdjust="spacingAndGlyphs" fill="#262626">0.035</text></g>
<text x="246.5" y="501.7" font-size="12.77" textLength="99.42" lengthAdjust="spacingAndGlyphs" fill="#262626">p19 Polyketones</text>
<g fill="#0173b2"><text x="283.49" y="513.31" font-size="5.78" textLength="15.6" lengthAdjust="spacingAndGlyphs">0.026</text><text x="299.09" y="513.31" font-size="5.78" textLength="3.45" lengthAdjust="spacingAndGlyphs" font-style="italic">n</text><text x="302.8" y="511.23" font-size="4.04" textLength="11.69" lengthAdjust="spacingAndGlyphs">&#8722;0.06</text><text x="315.7" y="513.31" font-size="5.78" textLength="4.57" lengthAdjust="spacingAndGlyphs">+</text><text x="321.33" y="513.31" font-size="5.78" textLength="12.13" lengthAdjust="spacingAndGlyphs">8.62</text><text x="334.53" y="513.31" font-size="5.78" textLength="4.57" lengthAdjust="spacingAndGlyphs">&#215;</text><text x="340.15" y="513.31" font-size="5.78" textLength="6.93" lengthAdjust="spacingAndGlyphs">10</text><text x="347.14" y="511.23" font-size="4.04" textLength="5.62" lengthAdjust="spacingAndGlyphs">&#8722;6</text></g>
<g fill="#de8f05"><text x="283.49" y="522.13" font-size="5.78" textLength="15.6" lengthAdjust="spacingAndGlyphs">0.027</text><text x="299.09" y="522.13" font-size="5.78" textLength="3.45" lengthAdjust="spacingAndGlyphs" font-style="italic">n</text><text x="302.8" y="520.05" font-size="4.04" textLength="11.69" lengthAdjust="spacingAndGlyphs">&#8722;0.06</text><text x="315.7" y="522.13" font-size="5.78" textLength="4.57" lengthAdjust="spacingAndGlyphs">+</text><text x="321.33" y="522.13" font-size="5.78" textLength="12.13" lengthAdjust="spacingAndGlyphs">1.90</text><text x="334.53" y="522.13" font-size="5.78" textLength="4.57" lengthAdjust="spacingAndGlyphs">&#215;</text><text x="340.15" y="522.13" font-size="5.78" textLength="6.93" lengthAdjust="spacingAndGlyphs">10</text><text x="347.14" y="520.05" font-size="4.04" textLength="5.62" lengthAdjust="spacingAndGlyphs">&#8722;4</text></g>
<g fill="#029e73"><text x="283.49" y="530.95" font-size="5.78" textLength="15.6" lengthAdjust="spacingAndGlyphs">0.052</text><text x="299.09" y="530.95" font-size="5.78" textLength="3.45" lengthAdjust="spacingAndGlyphs" font-style="italic">n</text><text x="302.8" y="528.87" font-size="4.04" textLength="11.69" lengthAdjust="spacingAndGlyphs">&#8722;0.16</text><text x="315.7" y="530.95" font-size="5.78" textLength="4.57" lengthAdjust="spacingAndGlyphs">+</text><text x="321.33" y="530.95" font-size="5.78" textLength="12" lengthAdjust="spacingAndGlyphs">1.89</text><text x="334.39" y="530.95" font-size="5.78" textLength="4.57" lengthAdjust="spacingAndGlyphs">&#215;</text><text x="340.02" y="530.95" font-size="5.78" textLength="6.93" lengthAdjust="spacingAndGlyphs">10</text><text x="347" y="528.87" font-size="4.04" textLength="5.62" lengthAdjust="spacingAndGlyphs">&#8722;4</text></g>
<g clip-path="url(#c18)"><g class="gr"><line x1="398.13" y1="504.7" x2="398.13" y2="592.9"/><line x1="419.61" y1="504.7" x2="419.61" y2="592.9"/><line x1="441.09" y1="504.7" x2="441.09" y2="592.9"/><line x1="462.58" y1="504.7" x2="462.58" y2="592.9"/><line x1="484.06" y1="504.7" x2="484.06" y2="592.9"/><line x1="505.54" y1="504.7" x2="505.54" y2="592.9"/><line x1="392.3" y1="576.9" x2="520.5" y2="576.9"/><line x1="392.3" y1="553.07" x2="520.5" y2="553.07"/><line x1="392.3" y1="529.23" x2="520.5" y2="529.23"/><line x1="392.3" y1="505.4" x2="520.5" y2="505.4"/></g><polygon points="398.56,569.27 398.99,571.66 400.28,573.56 402.42,574.52 406.72,575.95 419.61,578.33 441.09,580.24 441.09,584.05 419.61,582.14 406.72,579.76 402.42,578.33 400.28,577.38 398.99,575.47 398.56,573.09" fill="#0173b2" fill-opacity="0.2"/><polyline points="398.56,571.18 398.99,573.56 400.28,575.47 402.42,576.42 406.72,577.85 419.61,580.24 441.09,582.14" fill="none" stroke="#0173b2" stroke-width="1.0"/><g fill="#0173b2" stroke="#fff" stroke-width="0.45"><circle cx="398.56" cy="571.18" r="1.6"/><circle cx="398.99" cy="573.56" r="1.6"/><circle cx="400.28" cy="575.47" r="1.6"/><circle cx="402.42" cy="576.42" r="1.6"/><circle cx="406.72" cy="577.85" r="1.6"/><circle cx="419.61" cy="580.24" r="1.6"/><circle cx="441.09" cy="582.14" r="1.6"/></g><polygon points="398.56,572.61 398.99,573.56 400.28,574.52 402.42,575.47 406.72,576.42 419.61,578.81 441.09,580.71 441.09,584.53 419.61,582.62 406.72,580.24 402.42,579.28 400.28,578.33 398.99,577.38 398.56,576.42" fill="#de8f05" fill-opacity="0.2"/><polyline points="398.56,574.52 398.99,575.47 400.28,576.42 402.42,577.38 406.72,578.33 419.61,580.71 441.09,582.62" fill="none" stroke="#de8f05" stroke-width="1.0"/><path d="M397.31 573.27L399.81 575.77M397.31 575.77L399.81 573.27M397.74 574.22L400.24 576.72M397.74 576.72L400.24 574.22M399.03 575.17L401.53 577.67M399.03 577.67L401.53 575.17M401.17 576.13L403.67 578.63M401.17 578.63L403.67 576.13M405.47 577.08L407.97 579.58M405.47 579.58L407.97 577.08M418.36 579.46L420.86 581.96M418.36 581.96L420.86 579.46M439.84 581.37L442.34 583.87M439.84 583.87L442.34 581.37" stroke="#fff" stroke-width="1.6" fill="none"/><path d="M397.31 573.27L399.81 575.77M397.31 575.77L399.81 573.27M397.74 574.22L400.24 576.72M397.74 576.72L400.24 574.22M399.03 575.17L401.53 577.67M399.03 577.67L401.53 575.17M401.17 576.13L403.67 578.63M401.17 578.63L403.67 576.13M405.47 577.08L407.97 579.58M405.47 579.58L407.97 577.08M418.36 579.46L420.86 581.96M418.36 581.96L420.86 579.46M439.84 581.37L442.34 583.87M439.84 583.87L442.34 581.37" stroke="#de8f05" stroke-width="1.0" fill="none"/><polygon points="401.04,553.54 403.95,563.07 409.78,571.65 421.44,575.47 444.75,580.23 491.36,582.15 491.36,588.81 444.75,585.97 421.44,583.1 409.78,579.29 403.95,572.62 401.04,564.98" fill="#029e73" fill-opacity="0.2"/><polyline points="401.04,559.26 403.95,567.84 409.78,575.47 421.44,579.28 444.75,583.1 491.36,585.48" fill="none" stroke="#029e73" stroke-width="1.0"/><g fill="#029e73" stroke="#fff" stroke-width="0.4"><rect x="399.89" y="558.11" width="2.3" height="2.3"/><rect x="402.8" y="566.69" width="2.3" height="2.3"/><rect x="408.63" y="574.32" width="2.3" height="2.3"/><rect x="420.29" y="578.13" width="2.3" height="2.3"/><rect x="443.6" y="581.95" width="2.3" height="2.3"/><rect x="490.21" y="584.33" width="2.3" height="2.3"/></g><polyline points="398.56,569.07 398.57,569.18 398.59,569.28 398.61,569.38 398.63,569.49 398.65,569.59 398.66,569.69 398.69,569.8 398.71,569.9 398.73,570 398.75,570.1 398.78,570.21 398.8,570.31 398.83,570.41 398.85,570.51 398.88,570.61 398.91,570.72 398.94,570.82 398.97,570.92 399,571.02 399.03,571.12 399.07,571.22 399.1,571.32 399.14,571.42 399.18,571.52 399.22,571.62 399.26,571.72 399.31,571.82 399.35,571.92 399.4,572.02 399.44,572.12 399.5,572.22 399.55,572.32 399.6,572.42 399.66,572.52 399.72,572.62 399.78,572.71 399.84,572.81 399.9,572.91 399.97,573.01 400.04,573.11 400.11,573.21 400.19,573.3 400.27,573.4 400.35,573.5 400.43,573.6 400.52,573.69 400.61,573.79 400.71,573.89 400.81,573.98 400.91,574.08 401.01,574.18 401.12,574.27 401.24,574.37 401.36,574.46 401.48,574.56 401.61,574.66 401.74,574.75 401.88,574.85 402.02,574.94 402.17,575.04 402.32,575.13 402.48,575.23 402.65,575.32 402.82,575.42 403,575.51 403.18,575.6 403.38,575.7 403.58,575.79 403.78,575.89 404,575.98 404.22,576.07 404.45,576.17 404.69,576.26 404.94,576.35 405.2,576.45 405.47,576.54 405.75,576.63 406.04,576.72 406.34,576.82 406.66,576.91 406.98,577 407.32,577.09 407.67,577.18 408.03,577.28 408.41,577.37 408.8,577.46 409.21,577.55 409.63,577.64 410.07,577.73 410.52,577.82 410.99,577.91 411.48,578.01 411.99,578.1 412.52,578.19 413.06,578.28 413.63,578.37 414.22,578.46 414.84,578.55 415.47,578.64 416.13,578.73 416.82,578.82 417.53,578.9 418.27,578.99 419.03,579.08 419.83,579.17 420.65,579.26 421.51,579.35 422.4,579.44 423.33,579.53 424.28,579.61 425.28,579.7 426.31,579.79 427.39,579.88 428.5,579.97 429.66,580.05 430.86,580.14 432.1,580.23 433.39,580.32 434.74,580.4 436.13,580.49 437.58,580.58 439.08,580.66 440.64,580.75 442.25,580.84 443.93,580.92 445.68,581.01 447.49,581.09 449.37,581.18 451.32,581.27 453.34,581.35 455.44,581.44 457.62,581.52 459.89,581.61 462.24,581.69 464.68,581.78 467.21,581.86 469.84,581.95 472.57,582.03 475.4,582.12 478.35,582.2 481.4,582.29 484.57,582.37 487.86,582.45 491.27,582.54 494.82,582.62 498.5,582.7 502.32,582.79 506.28,582.87 510.4,582.95 514.67,583.04" fill="none" stroke="#3030ff" class="dt"/><polyline points="398.56,572.78 398.57,572.86 398.59,572.94 398.61,573.03 398.63,573.11 398.65,573.2 398.66,573.28 398.69,573.37 398.71,573.45 398.73,573.53 398.75,573.62 398.78,573.7 398.8,573.79 398.83,573.87 398.85,573.95 398.88,574.04 398.91,574.12 398.94,574.2 398.97,574.29 399,574.37 399.03,574.45 399.07,574.53 399.1,574.62 399.14,574.7 399.18,574.78 399.22,574.86 399.26,574.95 399.31,575.03 399.35,575.11 399.4,575.19 399.44,575.28 399.5,575.36 399.55,575.44 399.6,575.52 399.66,575.6 399.72,575.68 399.78,575.77 399.84,575.85 399.9,575.93 399.97,576.01 400.04,576.09 400.11,576.17 400.19,576.25 400.27,576.33 400.35,576.41 400.43,576.49 400.52,576.57 400.61,576.66 400.71,576.74 400.81,576.82 400.91,576.9 401.01,576.98 401.12,577.06 401.24,577.14 401.36,577.22 401.48,577.3 401.61,577.38 401.74,577.45 401.88,577.53 402.02,577.61 402.17,577.69 402.32,577.77 402.48,577.85 402.65,577.93 402.82,578.01 403,578.09 403.18,578.17 403.38,578.25 403.58,578.32 403.78,578.4 404,578.48 404.22,578.56 404.45,578.64 404.69,578.72 404.94,578.79 405.2,578.87 405.47,578.95 405.75,579.03 406.04,579.1 406.34,579.18 406.66,579.26 406.98,579.34 407.32,579.41 407.67,579.49 408.03,579.57 408.41,579.65 408.8,579.72 409.21,579.8 409.63,579.88 410.07,579.95 410.52,580.03 410.99,580.11 411.48,580.18 411.99,580.26 412.52,580.34 413.06,580.41 413.63,580.49 414.22,580.56 414.84,580.64 415.47,580.72 416.13,580.79 416.82,580.87 417.53,580.94 418.27,581.02 419.03,581.09 419.83,581.17 420.65,581.25 421.51,581.32 422.4,581.4 423.33,581.47 424.28,581.55 425.28,581.62 426.31,581.7 427.39,581.77 428.5,581.84 429.66,581.92 430.86,581.99 432.1,582.07 433.39,582.14 434.74,582.22 436.13,582.29 437.58,582.36 439.08,582.44 440.64,582.51 442.25,582.59 443.93,582.66 445.68,582.73 447.49,582.81 449.37,582.88 451.32,582.95 453.34,583.03 455.44,583.1 457.62,583.17 459.89,583.25 462.24,583.32 464.68,583.39 467.21,583.47 469.84,583.54 472.57,583.61 475.4,583.68 478.35,583.76 481.4,583.83 484.57,583.9 487.86,583.97 491.27,584.04 494.82,584.12 498.5,584.19 502.32,584.26 506.28,584.33 510.4,584.4 514.67,584.48" fill="none" stroke="#ffa030" class="dt"/><polyline points="398.56,506.44 398.57,507.96 398.59,509.45 398.61,510.91 398.63,512.34 398.65,513.75 398.66,515.14 398.69,516.5 398.71,517.83 398.73,519.15 398.75,520.43 398.78,521.7 398.8,522.94 398.83,524.16 398.85,525.36 398.88,526.54 398.91,527.7 398.94,528.84 398.97,529.95 399,531.05 399.03,532.13 399.07,533.19 399.1,534.23 399.14,535.25 399.18,536.25 399.22,537.23 399.26,538.2 399.31,539.15 399.35,540.09 399.4,541 399.44,541.9 399.5,542.79 399.55,543.66 399.6,544.51 399.66,545.35 399.72,546.17 399.78,546.98 399.84,547.77 399.9,548.55 399.97,549.32 400.04,550.07 400.11,550.81 400.19,551.54 400.27,552.25 400.35,552.95 400.43,553.64 400.52,554.32 400.61,554.98 400.71,555.63 400.81,556.27 400.91,556.9 401.01,557.52 401.12,558.13 401.24,558.72 401.36,559.31 401.48,559.88 401.61,560.45 401.74,561 401.88,561.55 402.02,562.08 402.17,562.61 402.32,563.13 402.48,563.63 402.65,564.13 402.82,564.62 403,565.1 403.18,565.57 403.38,566.04 403.58,566.49 403.78,566.94 404,567.38 404.22,567.81 404.45,568.24 404.69,568.65 404.94,569.06 405.2,569.46 405.47,569.86 405.75,570.25 406.04,570.63 406.34,571 406.66,571.37 406.98,571.73 407.32,572.08 407.67,572.43 408.03,572.77 408.41,573.11 408.8,573.44 409.21,573.76 409.63,574.08 410.07,574.4 410.52,574.7 410.99,575 411.48,575.3 411.99,575.59 412.52,575.88 413.06,576.16 413.63,576.43 414.22,576.7 414.84,576.97 415.47,577.23 416.13,577.49 416.82,577.74 417.53,577.99 418.27,578.23 419.03,578.47 419.83,578.7 420.65,578.94 421.51,579.16 422.4,579.38 423.33,579.6 424.28,579.82 425.28,580.03 426.31,580.24 427.39,580.44 428.5,580.64 429.66,580.83 430.86,581.03 432.1,581.22 433.39,581.4 434.74,581.58 436.13,581.76 437.58,581.94 439.08,582.11 440.64,582.28 442.25,582.45 443.93,582.61 445.68,582.77 447.49,582.93 449.37,583.09 451.32,583.24 453.34,583.39 455.44,583.54 457.62,583.68 459.89,583.82 462.24,583.96 464.68,584.1 467.21,584.24 469.84,584.37 472.57,584.5 475.4,584.63 478.35,584.75 481.4,584.87 484.57,584.99 487.86,585.11 491.27,585.23 494.82,585.34 498.5,585.46 502.32,585.57 506.28,585.68 510.4,585.78 514.67,585.89" fill="none" stroke="#1c951c" class="dt"/></g>
<rect x="392.3" y="504.7" width="128.2" height="88.2" class="sp"/>
<g><text x="396.27" y="602.5" font-size="6.72" textLength="3.72" lengthAdjust="spacingAndGlyphs" fill="#262626">0</text><text x="413.77" y="602.5" font-size="6.72" textLength="11.75" lengthAdjust="spacingAndGlyphs" fill="#262626">500</text><text x="433.18" y="602.5" font-size="6.72" textLength="15.84" lengthAdjust="spacingAndGlyphs" fill="#262626">1000</text><text x="454.66" y="602.5" font-size="6.72" textLength="15.84" lengthAdjust="spacingAndGlyphs" fill="#262626">1500</text><text x="476.1" y="602.5" font-size="6.72" textLength="15.89" lengthAdjust="spacingAndGlyphs" fill="#262626">2000</text><text x="497.58" y="602.5" font-size="6.72" textLength="15.89" lengthAdjust="spacingAndGlyphs" fill="#262626">2500</text><text x="370.04" y="579.25" font-size="6.72" textLength="17.75" lengthAdjust="spacingAndGlyphs" fill="#262626">0.015</text><text x="369.91" y="555.42" font-size="6.72" textLength="17.87" lengthAdjust="spacingAndGlyphs" fill="#262626">0.020</text><text x="370.04" y="531.58" font-size="6.72" textLength="17.75" lengthAdjust="spacingAndGlyphs" fill="#262626">0.025</text><text x="369.91" y="507.75" font-size="6.72" textLength="17.87" lengthAdjust="spacingAndGlyphs" fill="#262626">0.030</text></g>
<text x="405.56" y="501.7" font-size="12.77" textLength="101.8" lengthAdjust="spacingAndGlyphs" fill="#262626">p20 Polysulfones</text>
<g fill="#0173b2"><text x="443.74" y="513.31" font-size="5.78" textLength="15.6" lengthAdjust="spacingAndGlyphs">0.016</text><text x="459.34" y="513.31" font-size="5.78" textLength="3.45" lengthAdjust="spacingAndGlyphs" font-style="italic">n</text><text x="463.05" y="511.23" font-size="4.04" textLength="11.69" lengthAdjust="spacingAndGlyphs">&#8722;0.04</text><text x="475.95" y="513.31" font-size="5.78" textLength="4.57" lengthAdjust="spacingAndGlyphs">+</text><text x="481.58" y="513.31" font-size="5.78" textLength="12.13" lengthAdjust="spacingAndGlyphs">2.05</text><text x="494.78" y="513.31" font-size="5.78" textLength="4.57" lengthAdjust="spacingAndGlyphs">&#215;</text><text x="500.4" y="513.31" font-size="5.78" textLength="6.93" lengthAdjust="spacingAndGlyphs">10</text><text x="507.39" y="511.23" font-size="4.04" textLength="5.62" lengthAdjust="spacingAndGlyphs">&#8722;3</text></g>
<g fill="#de8f05"><text x="441.56" y="522.13" font-size="5.78" textLength="15.6" lengthAdjust="spacingAndGlyphs">0.017</text><text x="457.16" y="522.13" font-size="5.78" textLength="3.45" lengthAdjust="spacingAndGlyphs" font-style="italic">n</text><text x="460.87" y="520.05" font-size="4.04" textLength="11.69" lengthAdjust="spacingAndGlyphs">&#8722;0.03</text><text x="473.77" y="522.13" font-size="5.78" textLength="4.57" lengthAdjust="spacingAndGlyphs">+</text><text x="479.4" y="522.13" font-size="5.78" textLength="12" lengthAdjust="spacingAndGlyphs">7.87</text><text x="492.46" y="522.13" font-size="5.78" textLength="4.57" lengthAdjust="spacingAndGlyphs">&#215;</text><text x="498.09" y="522.13" font-size="5.78" textLength="6.93" lengthAdjust="spacingAndGlyphs">10</text><text x="505.07" y="520.05" font-size="4.04" textLength="8.05" lengthAdjust="spacingAndGlyphs">&#8722;12</text></g>
<g fill="#029e73"><text x="443.74" y="530.95" font-size="5.78" textLength="15.6" lengthAdjust="spacingAndGlyphs">0.054</text><text x="459.34" y="530.95" font-size="5.78" textLength="3.45" lengthAdjust="spacingAndGlyphs" font-style="italic">n</text><text x="463.05" y="528.87" font-size="4.04" textLength="11.69" lengthAdjust="spacingAndGlyphs">&#8722;0.48</text><text x="475.95" y="530.95" font-size="5.78" textLength="4.57" lengthAdjust="spacingAndGlyphs">+</text><text x="481.58" y="530.95" font-size="5.78" textLength="12.13" lengthAdjust="spacingAndGlyphs">1.19</text><text x="494.78" y="530.95" font-size="5.78" textLength="4.57" lengthAdjust="spacingAndGlyphs">&#215;</text><text x="500.4" y="530.95" font-size="5.78" textLength="6.93" lengthAdjust="spacingAndGlyphs">10</text><text x="507.39" y="528.87" font-size="4.04" textLength="5.62" lengthAdjust="spacingAndGlyphs">&#8722;2</text></g>
<g clip-path="url(#c19)"><g class="gr"><line x1="558.38" y1="504.7" x2="558.38" y2="592.9"/><line x1="586.21" y1="504.7" x2="586.21" y2="592.9"/><line x1="614.04" y1="504.7" x2="614.04" y2="592.9"/><line x1="641.87" y1="504.7" x2="641.87" y2="592.9"/><line x1="669.7" y1="504.7" x2="669.7" y2="592.9"/><line x1="552.55" y1="582.9" x2="680.75" y2="582.9"/><line x1="552.55" y1="570.28" x2="680.75" y2="570.28"/><line x1="552.55" y1="557.67" x2="680.75" y2="557.67"/><line x1="552.55" y1="545.05" x2="680.75" y2="545.05"/><line x1="552.55" y1="532.43" x2="680.75" y2="532.43"/><line x1="552.55" y1="519.82" x2="680.75" y2="519.82"/><line x1="552.55" y1="507.2" x2="680.75" y2="507.2"/></g><polygon points="558.93,547.07 559.49,552.12 561.16,557.67 563.94,562.21 569.51,568.01 586.21,573.56 614.04,579.12 614.04,584.16 586.21,578.61 569.51,573.06 563.94,567.26 561.16,562.71 559.49,557.16 558.93,552.12" fill="#0173b2" fill-opacity="0.2"/><polyline points="558.93,549.59 559.49,554.64 561.16,560.19 563.94,564.73 569.51,570.54 586.21,576.09 614.04,581.64" fill="none" stroke="#0173b2" stroke-width="1.0"/><g fill="#0173b2" stroke="#fff" stroke-width="0.45"><circle cx="558.93" cy="549.59" r="1.6"/><circle cx="559.49" cy="554.64" r="1.6"/><circle cx="561.16" cy="560.19" r="1.6"/><circle cx="563.94" cy="564.73" r="1.6"/><circle cx="569.51" cy="570.54" r="1.6"/><circle cx="586.21" cy="576.09" r="1.6"/><circle cx="614.04" cy="581.64" r="1.6"/></g><polygon points="558.93,549.84 559.49,553.63 561.16,557.41 563.94,562.21 569.51,567 586.21,573.56 614.04,579.37 614.04,584.41 586.21,578.61 569.51,572.05 563.94,567.26 561.16,562.46 559.49,558.68 558.93,554.89" fill="#de8f05" fill-opacity="0.2"/><polyline points="558.93,552.37 559.49,556.15 561.16,559.94 563.94,564.73 569.51,569.53 586.21,576.09 614.04,581.89" fill="none" stroke="#de8f05" stroke-width="1.0"/><path d="M557.68 551.12L560.18 553.62M557.68 553.62L560.18 551.12M558.24 554.9L560.74 557.4M558.24 557.4L560.74 554.9M559.91 558.69L562.41 561.19M559.91 561.19L562.41 558.69M562.69 563.48L565.19 565.98M562.69 565.98L565.19 563.48M568.26 568.28L570.76 570.78M568.26 570.78L570.76 568.28M584.96 574.84L587.46 577.34M584.96 577.34L587.46 574.84M612.79 580.64L615.29 583.14M612.79 583.14L615.29 580.64" stroke="#fff" stroke-width="1.6" fill="none"/><path d="M557.68 551.12L560.18 553.62M557.68 553.62L560.18 551.12M558.24 554.9L560.74 557.4M558.24 557.4L560.74 554.9M559.91 558.69L562.41 561.19M559.91 561.19L562.41 558.69M562.69 563.48L565.19 565.98M562.69 565.98L565.19 563.48M568.26 568.28L570.76 570.78M568.26 570.78L570.76 568.28M584.96 574.84L587.46 577.34M584.96 577.34L587.46 574.84M612.79 580.64L615.29 583.14M612.79 583.14L615.29 580.64" stroke="#de8f05" stroke-width="1.0" fill="none"/><polygon points="561.29,538.99 564.2,548.45 570.03,559.44 581.69,568.52 605,576.09 651.61,581.89 651.61,588.45 605,582.65 581.69,576.09 570.03,569.52 564.2,557.29 561.29,546.57" fill="#029e73" fill-opacity="0.2"/><polyline points="561.29,542.78 564.2,552.87 570.03,564.48 581.69,572.3 605,579.37 651.61,585.17" fill="none" stroke="#029e73" stroke-width="1.0"/><g fill="#029e73" stroke="#fff" stroke-width="0.4"><rect x="560.14" y="541.63" width="2.3" height="2.3"/><rect x="563.05" y="551.72" width="2.3" height="2.3"/><rect x="568.88" y="563.33" width="2.3" height="2.3"/><rect x="580.54" y="571.15" width="2.3" height="2.3"/><rect x="603.85" y="578.22" width="2.3" height="2.3"/><rect x="650.46" y="584.02" width="2.3" height="2.3"/></g><polyline points="558.93,547.77 558.95,548.09 558.98,548.4 559,548.71 559.02,549.02 559.04,549.33 559.07,549.64 559.09,549.94 559.12,550.25 559.14,550.55 559.17,550.86 559.2,551.16 559.23,551.46 559.26,551.76 559.29,552.06 559.33,552.36 559.36,552.65 559.4,552.95 559.43,553.24 559.47,553.54 559.51,553.83 559.55,554.12 559.6,554.41 559.64,554.7 559.69,554.99 559.73,555.28 559.78,555.56 559.83,555.85 559.89,556.13 559.94,556.41 560,556.7 560.06,556.98 560.12,557.26 560.18,557.53 560.25,557.81 560.31,558.09 560.38,558.37 560.46,558.64 560.53,558.91 560.61,559.19 560.69,559.46 560.78,559.73 560.86,560 560.95,560.27 561.05,560.54 561.14,560.8 561.24,561.07 561.35,561.33 561.46,561.6 561.57,561.86 561.68,562.12 561.8,562.38 561.93,562.64 562.06,562.9 562.19,563.16 562.33,563.42 562.47,563.67 562.62,563.93 562.77,564.18 562.93,564.44 563.1,564.69 563.27,564.94 563.45,565.19 563.63,565.44 563.82,565.69 564.02,565.94 564.22,566.18 564.43,566.43 564.65,566.68 564.88,566.92 565.12,567.16 565.36,567.41 565.62,567.65 565.88,567.89 566.15,568.13 566.43,568.37 566.72,568.6 567.03,568.84 567.34,569.08 567.67,569.31 568,569.55 568.35,569.78 568.71,570.01 569.09,570.25 569.48,570.48 569.88,570.71 570.3,570.94 570.73,571.17 571.18,571.39 571.64,571.62 572.12,571.85 572.62,572.07 573.14,572.3 573.67,572.52 574.23,572.74 574.8,572.97 575.4,573.19 576.01,573.41 576.65,573.63 577.32,573.85 578,574.06 578.72,574.28 579.45,574.5 580.22,574.71 581.01,574.93 581.83,575.14 582.68,575.36 583.56,575.57 584.48,575.78 585.42,575.99 586.4,576.2 587.42,576.41 588.47,576.62 589.57,576.83 590.7,577.03 591.87,577.24 593.08,577.45 594.34,577.65 595.65,577.85 597,578.06 598.4,578.26 599.85,578.46 601.36,578.66 602.92,578.86 604.53,579.06 606.2,579.26 607.94,579.46 609.74,579.66 611.6,579.85 613.53,580.05 615.53,580.25 617.6,580.44 619.75,580.63 621.98,580.83 624.28,581.02 626.67,581.21 629.15,581.4 631.72,581.59 634.38,581.78 637.14,581.97 639.99,582.16 642.95,582.35 646.02,582.53 649.2,582.72 652.49,582.91 655.91,583.09 659.44,583.28 663.11,583.46 666.91,583.64 670.84,583.82 674.92,584.01" fill="none" stroke="#3030ff" class="dt"/><polyline points="558.93,549.18 558.95,549.48 558.98,549.78 559,550.08 559.02,550.37 559.04,550.67 559.07,550.96 559.09,551.26 559.12,551.55 559.14,551.84 559.17,552.13 559.2,552.42 559.23,552.71 559.26,552.99 559.29,553.28 559.33,553.56 559.36,553.85 559.4,554.13 559.43,554.41 559.47,554.69 559.51,554.97 559.55,555.25 559.6,555.53 559.64,555.81 559.69,556.08 559.73,556.36 559.78,556.63 559.83,556.9 559.89,557.18 559.94,557.45 560,557.72 560.06,557.99 560.12,558.25 560.18,558.52 560.25,558.79 560.31,559.05 560.38,559.32 560.46,559.58 560.53,559.84 560.61,560.1 560.69,560.37 560.78,560.62 560.86,560.88 560.95,561.14 561.05,561.4 561.14,561.65 561.24,561.91 561.35,562.16 561.46,562.42 561.57,562.67 561.68,562.92 561.8,563.17 561.93,563.42 562.06,563.67 562.19,563.92 562.33,564.16 562.47,564.41 562.62,564.66 562.77,564.9 562.93,565.14 563.1,565.39 563.27,565.63 563.45,565.87 563.63,566.11 563.82,566.35 564.02,566.59 564.22,566.82 564.43,567.06 564.65,567.3 564.88,567.53 565.12,567.77 565.36,568 565.62,568.23 565.88,568.46 566.15,568.69 566.43,568.92 566.72,569.15 567.03,569.38 567.34,569.61 567.67,569.84 568,570.06 568.35,570.29 568.71,570.51 569.09,570.73 569.48,570.96 569.88,571.18 570.3,571.4 570.73,571.62 571.18,571.84 571.64,572.06 572.12,572.28 572.62,572.49 573.14,572.71 573.67,572.93 574.23,573.14 574.8,573.36 575.4,573.57 576.01,573.78 576.65,573.99 577.32,574.2 578,574.42 578.72,574.62 579.45,574.83 580.22,575.04 581.01,575.25 581.83,575.46 582.68,575.66 583.56,575.87 584.48,576.07 585.42,576.28 586.4,576.48 587.42,576.68 588.47,576.88 589.57,577.08 590.7,577.28 591.87,577.48 593.08,577.68 594.34,577.88 595.65,578.08 597,578.27 598.4,578.47 599.85,578.66 601.36,578.86 602.92,579.05 604.53,579.25 606.2,579.44 607.94,579.63 609.74,579.82 611.6,580.01 613.53,580.2 615.53,580.39 617.6,580.58 619.75,580.77 621.98,580.95 624.28,581.14 626.67,581.33 629.15,581.51 631.72,581.7 634.38,581.88 637.14,582.06 639.99,582.25 642.95,582.43 646.02,582.61 649.2,582.79 652.49,582.97 655.91,583.15 659.44,583.33 663.11,583.5 666.91,583.68 670.84,583.86 674.92,584.03" fill="none" stroke="#ffa030" class="dt"/><polyline points="558.93,508.27 558.95,509.14 558.98,509.99 559,510.84 559.02,511.68 559.04,512.52 559.07,513.35 559.09,514.17 559.12,514.99 559.14,515.8 559.17,516.6 559.2,517.4 559.23,518.2 559.26,518.99 559.29,519.77 559.33,520.55 559.36,521.32 559.4,522.08 559.43,522.84 559.47,523.6 559.51,524.35 559.55,525.09 559.6,525.83 559.64,526.56 559.69,527.29 559.73,528.01 559.78,528.73 559.83,529.44 559.89,530.14 559.94,530.84 560,531.54 560.06,532.23 560.12,532.92 560.18,533.6 560.25,534.27 560.31,534.94 560.38,535.61 560.46,536.27 560.53,536.93 560.61,537.58 560.69,538.22 560.78,538.87 560.86,539.5 560.95,540.14 561.05,540.76 561.14,541.39 561.24,542.01 561.35,542.62 561.46,543.23 561.57,543.84 561.68,544.44 561.8,545.03 561.93,545.63 562.06,546.21 562.19,546.8 562.33,547.38 562.47,547.95 562.62,548.52 562.77,549.09 562.93,549.65 563.1,550.21 563.27,550.77 563.45,551.32 563.63,551.86 563.82,552.4 564.02,552.94 564.22,553.48 564.43,554.01 564.65,554.53 564.88,555.06 565.12,555.58 565.36,556.09 565.62,556.6 565.88,557.11 566.15,557.61 566.43,558.11 566.72,558.61 567.03,559.1 567.34,559.59 567.67,560.08 568,560.56 568.35,561.04 568.71,561.52 569.09,561.99 569.48,562.46 569.88,562.92 570.3,563.38 570.73,563.84 571.18,564.3 571.64,564.75 572.12,565.2 572.62,565.64 573.14,566.08 573.67,566.52 574.23,566.96 574.8,567.39 575.4,567.82 576.01,568.24 576.65,568.66 577.32,569.08 578,569.5 578.72,569.91 579.45,570.32 580.22,570.73 581.01,571.14 581.83,571.54 582.68,571.94 583.56,572.33 584.48,572.73 585.42,573.12 586.4,573.5 587.42,573.89 588.47,574.27 589.57,574.65 590.7,575.02 591.87,575.4 593.08,575.77 594.34,576.13 595.65,576.5 597,576.86 598.4,577.22 599.85,577.58 601.36,577.93 602.92,578.28 604.53,578.63 606.2,578.98 607.94,579.32 609.74,579.67 611.6,580.01 613.53,580.34 615.53,580.68 617.6,581.01 619.75,581.34 621.98,581.66 624.28,581.99 626.67,582.31 629.15,582.63 631.72,582.95 634.38,583.26 637.14,583.58 639.99,583.89 642.95,584.2 646.02,584.5 649.2,584.81 652.49,585.11 655.91,585.41 659.44,585.7 663.11,586 666.91,586.29 670.84,586.58 674.92,586.87" fill="none" stroke="#1c951c" class="dt"/></g>
<rect x="552.55" y="504.7" width="128.2" height="88.2" class="sp"/>
<g><text x="556.52" y="602.5" font-size="6.72" textLength="3.72" lengthAdjust="spacingAndGlyphs" fill="#262626">0</text><text x="580.37" y="602.5" font-size="6.72" textLength="11.75" lengthAdjust="spacingAndGlyphs" fill="#262626">500</text><text x="606.13" y="602.5" font-size="6.72" textLength="15.84" lengthAdjust="spacingAndGlyphs" fill="#262626">1000</text><text x="633.96" y="602.5" font-size="6.72" textLength="15.84" lengthAdjust="spacingAndGlyphs" fill="#262626">1500</text><text x="661.74" y="602.5" font-size="6.72" textLength="15.89" lengthAdjust="spacingAndGlyphs" fill="#262626">2000</text><text x="530.16" y="585.25" font-size="6.72" textLength="17.87" lengthAdjust="spacingAndGlyphs" fill="#262626">0.020</text><text x="530.29" y="572.63" font-size="6.72" textLength="17.75" lengthAdjust="spacingAndGlyphs" fill="#262626">0.025</text><text x="530.16" y="560.02" font-size="6.72" textLength="17.87" lengthAdjust="spacingAndGlyphs" fill="#262626">0.030</text><text x="530.29" y="547.4" font-size="6.72" textLength="17.75" lengthAdjust="spacingAndGlyphs" fill="#262626">0.035</text><text x="530.16" y="534.78" font-size="6.72" textLength="17.87" lengthAdjust="spacingAndGlyphs" fill="#262626">0.040</text><text x="530.29" y="522.17" font-size="6.72" textLength="17.75" lengthAdjust="spacingAndGlyphs" fill="#262626">0.045</text><text x="530.16" y="509.55" font-size="6.72" textLength="17.87" lengthAdjust="spacingAndGlyphs" fill="#262626">0.050</text></g>
<text x="556.13" y="501.7" font-size="12.77" textLength="121.16" lengthAdjust="spacingAndGlyphs" fill="#262626">p21 Polyphenylenes</text>
<g fill="#0173b2"><text x="601.81" y="513.31" font-size="5.78" textLength="15.6" lengthAdjust="spacingAndGlyphs">0.043</text><text x="617.41" y="513.31" font-size="5.78" textLength="3.45" lengthAdjust="spacingAndGlyphs" font-style="italic">n</text><text x="621.12" y="511.23" font-size="4.04" textLength="11.69" lengthAdjust="spacingAndGlyphs">&#8722;0.11</text><text x="634.02" y="513.31" font-size="5.78" textLength="4.57" lengthAdjust="spacingAndGlyphs">+</text><text x="639.65" y="513.31" font-size="5.78" textLength="12.13" lengthAdjust="spacingAndGlyphs">1.69</text><text x="652.85" y="513.31" font-size="5.78" textLength="4.57" lengthAdjust="spacingAndGlyphs">&#215;</text><text x="658.47" y="513.31" font-size="5.78" textLength="6.93" lengthAdjust="spacingAndGlyphs">10</text><text x="665.46" y="511.23" font-size="4.04" textLength="8.05" lengthAdjust="spacingAndGlyphs">&#8722;15</text></g>
<g fill="#de8f05"><text x="601.81" y="522.13" font-size="5.78" textLength="15.6" lengthAdjust="spacingAndGlyphs">0.042</text><text x="617.41" y="522.13" font-size="5.78" textLength="3.45" lengthAdjust="spacingAndGlyphs" font-style="italic">n</text><text x="621.12" y="520.05" font-size="4.04" textLength="11.69" lengthAdjust="spacingAndGlyphs">&#8722;0.10</text><text x="634.02" y="522.13" font-size="5.78" textLength="4.57" lengthAdjust="spacingAndGlyphs">+</text><text x="639.65" y="522.13" font-size="5.78" textLength="12.13" lengthAdjust="spacingAndGlyphs">1.55</text><text x="652.85" y="522.13" font-size="5.78" textLength="4.57" lengthAdjust="spacingAndGlyphs">&#215;</text><text x="658.47" y="522.13" font-size="5.78" textLength="6.93" lengthAdjust="spacingAndGlyphs">10</text><text x="665.46" y="520.05" font-size="4.04" textLength="8.05" lengthAdjust="spacingAndGlyphs">&#8722;11</text></g>
<g fill="#029e73"><text x="604.53" y="530.95" font-size="5.78" textLength="15.6" lengthAdjust="spacingAndGlyphs">0.075</text><text x="620.14" y="530.95" font-size="5.78" textLength="3.45" lengthAdjust="spacingAndGlyphs" font-style="italic">n</text><text x="623.84" y="528.87" font-size="4.04" textLength="11.5" lengthAdjust="spacingAndGlyphs">&#8722;0.21</text><text x="636.56" y="530.95" font-size="5.78" textLength="4.57" lengthAdjust="spacingAndGlyphs">+</text><text x="642.18" y="530.95" font-size="5.78" textLength="12" lengthAdjust="spacingAndGlyphs">2.88</text><text x="655.24" y="530.95" font-size="5.78" textLength="4.57" lengthAdjust="spacingAndGlyphs">&#215;</text><text x="660.87" y="530.95" font-size="5.78" textLength="6.93" lengthAdjust="spacingAndGlyphs">10</text><text x="667.86" y="528.87" font-size="4.04" textLength="5.62" lengthAdjust="spacingAndGlyphs">&#8722;3</text></g>
<rect x="375.4" y="0.5" width="284.8" height="23.4" rx="2" ry="2" fill="#fff" stroke="#d6d6d6" stroke-width="0.9"/>
<line x1="380.3" y1="11.2" x2="408.4" y2="11.2" stroke="#0173b2" stroke-width="1.2"/><circle cx="394.4" cy="11.2" r="1.75" fill="#0173b2"/>
<line x1="471.4" y1="11.2" x2="499.4" y2="11.2" stroke="#de8f05" stroke-width="1.2"/><path d="M484 9.6L487 12.8M484 12.8L487 9.6" stroke="#de8f05" stroke-width="1.25" fill="none"/>
<line x1="574.9" y1="11.2" x2="602.6" y2="11.2" stroke="#029e73" stroke-width="1.2"/><rect x="587" y="9.7" width="3" height="3" fill="#029e73"/>
<text x="418.79" y="16.1" font-size="14.58" textLength="26.01" lengthAdjust="spacingAndGlyphs" fill="#262626">E2T</text><text x="509.64" y="16.1" font-size="14.58" textLength="37.6" lengthAdjust="spacingAndGlyphs" fill="#262626">FCNN</text><text x="612.71" y="16.1" font-size="14.58" textLength="42.18" lengthAdjust="spacingAndGlyphs" fill="#262626">oracle</text>
<g transform="translate(10.4 326.95) rotate(-90)"><text x="-84.63" y="0" font-size="14.58" textLength="169.08" lengthAdjust="spacingAndGlyphs" fill="#262626">RMSE of refractive index</text></g>
<text x="300.9" y="624.7" font-size="14.58" textLength="153.31" lengthAdjust="spacingAndGlyphs" fill="#262626">Number of target data</text>
</svg>
</body></html>
